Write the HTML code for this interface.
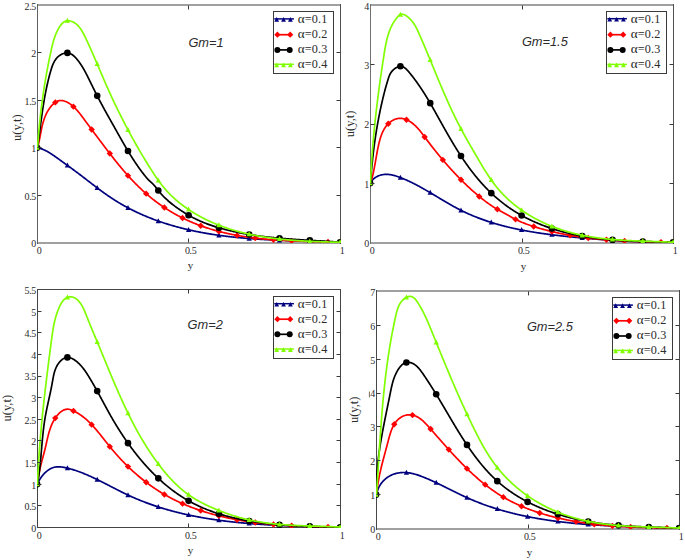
<!DOCTYPE html><html><head><meta charset="utf-8"><style>html,body{margin:0;padding:0;background:#fff}svg{display:block}text{font-family:"Liberation Serif",serif;fill:#2b2b2b}.gm{font-family:"Liberation Sans",sans-serif;font-style:italic}</style></head><body>
<svg width="685" height="560" viewBox="0 0 685 560">
<clipPath id="cTL"><rect x="37.0" y="5.0" width="304.0" height="238.0"/></clipPath>
<rect x="37" y="4" width="304" height="2" fill="#a0a0a0"/>
<rect x="37" y="242" width="304" height="2" fill="#a0a0a0"/>
<rect x="37" y="4" width="1" height="240" fill="#606060"/>
<rect x="340" y="4" width="1" height="240" fill="#505050"/>
<g clip-path="url(#cTL)">
<path d="M37.5 147.7 38.21 147.85 38.91 148.03 39.6 148.22 40.29 148.43 40.98 148.66 41.67 148.9 42.34 149.16 43.02 149.43 43.69 149.72 44.36 150.02 45.03 150.34 45.69 150.67 46.35 151.01 47.01 151.36 47.66 151.72 48.31 152.09 48.96 152.47 49.61 152.86 50.25 153.26 50.89 153.67 51.53 154.08 52.17 154.5 52.81 154.93 53.44 155.36 54.08 155.8 54.71 156.24 55.34 156.68 55.97 157.13 56.6 157.57 57.22 158.03 57.85 158.48 58.48 158.93 59.1 159.38 59.73 159.83 60.35 160.29 60.98 160.74 61.6 161.19 62.23 161.64 62.85 162.09 63.47 162.54 64.1 162.99 64.72 163.44 65.34 163.89 65.96 164.34 66.58 164.79 67.2 165.24 67.82 165.69 68.44 166.14 69.06 166.59 69.68 167.04 70.3 167.49 70.91 167.94 71.53 168.39 72.15 168.84 72.76 169.3 73.38 169.75 73.99 170.2 74.61 170.65 75.22 171.11 75.83 171.56 76.44 172.02 77.05 172.47 77.67 172.93 78.28 173.39 78.88 173.85 79.49 174.3 80.1 174.76 80.71 175.23 81.32 175.69 81.92 176.15 82.53 176.61 83.13 177.08 83.74 177.54 84.34 178 84.95 178.47 85.55 178.93 86.15 179.4 86.76 179.87 87.36 180.33 87.96 180.8 88.57 181.26 89.17 181.73 89.77 182.2 90.38 182.66 90.98 183.13 91.58 183.59 92.19 184.06 92.79 184.52 93.39 184.98 94 185.45 94.6 185.91 95.21 186.37 95.82 186.83 96.42 187.29 97.03 187.75 97.64 188.21 98.25 188.66 98.85 189.12 99.46 189.57 100.08 190.03 100.69 190.48 101.3 190.93 101.91 191.38 102.53 191.83 103.14 192.27 103.76 192.72 104.38 193.16 105 193.6 105.62 194.04 106.24 194.48 106.86 194.91 107.48 195.34 108.11 195.77 108.74 196.2 109.37 196.63 110 197.05 110.63 197.47 111.26 197.89 111.9 198.31 112.53 198.72 113.17 199.14 113.81 199.55 114.45 199.95 115.09 200.36 115.74 200.76 116.38 201.16 117.03 201.56 117.68 201.95 118.33 202.35 118.98 202.74 119.63 203.12 120.28 203.51 120.94 203.89 121.6 204.27 122.25 204.65 122.91 205.03 123.57 205.4 124.24 205.77 124.9 206.14 125.57 206.51 126.23 206.87 126.9 207.23 127.57 207.59 128.24 207.95 128.91 208.3 129.58 208.66 130.26 209 130.93 209.35 131.61 209.7 132.29 210.04 132.97 210.38 133.65 210.72 134.33 211.05 135.01 211.38 135.7 211.71 136.38 212.04 137.07 212.36 137.76 212.69 138.44 213.01 139.13 213.33 139.83 213.64 140.52 213.95 141.21 214.26 141.91 214.57 142.6 214.88 143.3 215.18 143.99 215.48 144.69 215.78 145.39 216.08 146.09 216.37 146.8 216.66 147.5 216.95 148.2 217.24 148.91 217.52 149.61 217.8 150.32 218.08 151.03 218.36 151.74 218.64 152.45 218.91 153.16 219.18 153.87 219.45 154.58 219.71 155.29 219.98 156.01 220.24 156.72 220.5 157.44 220.76 158.16 221.01 158.88 221.26 159.59 221.52 160.31 221.76 161.03 222.01 161.76 222.25 162.48 222.5 163.2 222.74 163.92 222.97 164.65 223.21 165.37 223.44 166.1 223.67 166.83 223.9 167.55 224.13 168.28 224.36 169.01 224.58 169.74 224.8 170.47 225.02 171.2 225.24 171.93 225.45 172.66 225.66 173.4 225.88 174.13 226.08 174.86 226.29 175.6 226.5 176.33 226.7 177.07 226.9 177.81 227.1 178.54 227.3 179.28 227.49 180.02 227.68 180.76 227.88 181.5 228.07 182.24 228.25 182.98 228.44 183.72 228.62 184.46 228.8 185.2 228.98 185.94 229.16 186.68 229.34 187.43 229.51 188.17 229.69 188.92 229.86 189.66 230.03 190.4 230.19 191.15 230.36 191.9 230.52 192.64 230.68 193.39 230.84 194.13 231 194.88 231.16 195.63 231.31 196.38 231.47 197.12 231.62 197.87 231.77 198.62 231.91 199.37 232.06 200.12 232.2 200.87 232.35 201.62 232.49 202.37 232.63 203.12 232.77 203.87 232.9 204.62 233.04 205.37 233.17 206.12 233.3 206.87 233.43 207.63 233.56 208.38 233.69 209.13 233.81 209.88 233.94 210.64 234.06 211.39 234.18 212.14 234.3 212.9 234.41 213.65 234.53 214.4 234.65 215.16 234.76 215.91 234.87 216.67 234.98 217.42 235.09 218.18 235.2 218.93 235.3 219.69 235.41 220.44 235.51 221.2 235.61 221.96 235.71 222.71 235.81 223.47 235.91 224.23 236.01 224.98 236.1 225.74 236.2 226.5 236.29 227.26 236.38 228.01 236.47 228.77 236.56 229.53 236.65 230.29 236.74 231.05 236.82 231.81 236.91 232.57 236.99 233.32 237.07 234.08 237.15 234.84 237.23 235.6 237.31 236.36 237.39 237.12 237.46 237.88 237.54 238.64 237.61 239.4 237.68 240.16 237.76 240.92 237.83 241.68 237.9 242.45 237.96 243.21 238.03 243.97 238.1 244.73 238.16 245.49 238.23 246.25 238.29 247.01 238.35 247.78 238.42 248.54 238.48 249.3 238.54 250.06 238.6 250.83 238.65 251.59 238.71 252.35 238.77 253.11 238.82 253.88 238.88 254.64 238.93 255.4 238.98 256.16 239.03 256.93 239.09 257.69 239.14 258.45 239.19 259.22 239.23 259.98 239.28 260.75 239.33 261.51 239.38 262.27 239.42 263.04 239.47 263.8 239.51 264.56 239.55 265.33 239.6 266.09 239.64 266.86 239.68 267.62 239.72 268.39 239.76 269.15 239.8 269.92 239.84 270.68 239.88 271.44 239.91 272.21 239.95 272.97 239.99 273.74 240.02 274.5 240.06 275.27 240.09 276.03 240.13 276.8 240.16 277.56 240.2 278.33 240.23 279.09 240.26 279.86 240.29 280.62 240.32 281.39 240.36 282.15 240.39 282.92 240.42 283.68 240.45 284.45 240.47 285.21 240.5 285.98 240.53 286.74 240.56 287.51 240.59 288.27 240.62 289.04 240.64 289.8 240.67 290.57 240.7 291.33 240.72 292.1 240.75 292.86 240.77 293.63 240.8 294.39 240.82 295.16 240.85 295.92 240.87 296.69 240.9 297.45 240.92 298.22 240.94 298.98 240.97 299.75 240.99 300.51 241.02 301.27 241.04 302.04 241.06 302.8 241.09 303.57 241.11 304.33 241.13 305.1 241.15 305.86 241.18 306.62 241.2 307.39 241.22 308.15 241.24 308.92 241.27 309.68 241.29 310.44 241.31 311.21 241.33 311.97 241.36 312.74 241.38 313.5 241.4 314.26 241.42 315.03 241.45 315.79 241.47 316.55 241.49 317.31 241.51 318.08 241.54 318.84 241.56 319.6 241.58 320.37 241.61 321.13 241.63 321.89 241.65 322.65 241.68 323.41 241.7 324.18 241.72 324.94 241.75 325.7 241.77 326.46 241.8 327.22 241.82 327.98 241.85 328.75 241.87 329.51 241.9 330.27 241.93 331.03 241.95 331.79 241.98 332.55 242.01 333.31 242.03 334.07 242.06 334.83 242.09 335.59 242.12 336.35 242.15 337.11 242.18 337.87 242.21 338.63 242.24 339.39 242.27 340.15 242.3 340.47 242.31" fill="none" stroke="#00007f" stroke-width="1.7" stroke-linejoin="round"/>
<path d="M37.1 144.8L39.7 149.8L34.5 149.8Z" fill="#00007f"/>
<path d="M67.4 162.48L70 167.48L64.8 167.48Z" fill="#00007f"/>
<path d="M97.2 184.98L99.8 189.98L94.6 189.98Z" fill="#00007f"/>
<path d="M128 204.92L130.6 209.92L125.4 209.92Z" fill="#00007f"/>
<path d="M158.3 218.16L160.9 223.16L155.7 223.16Z" fill="#00007f"/>
<path d="M188.6 226.88L191.2 231.88L186 231.88Z" fill="#00007f"/>
<path d="M218.9 232.4L221.5 237.4L216.3 237.4Z" fill="#00007f"/>
<path d="M249.2 235.63L251.8 240.63L246.6 240.63Z" fill="#00007f"/>
<path d="M279.5 237.38L282.1 242.38L276.9 242.38Z" fill="#00007f"/>
<path d="M309.8 238.39L312.4 243.39L307.2 243.39Z" fill="#00007f"/>
<path d="M340.1 239.4L342.7 244.4L337.5 244.4Z" fill="#00007f"/>
<path d="M37.5 147.7 37.71 146.95 37.92 146.21 38.12 145.46 38.31 144.7 38.5 143.95 38.68 143.19 38.85 142.44 39.02 141.68 39.18 140.92 39.34 140.16 39.5 139.4 39.65 138.63 39.8 137.87 39.95 137.1 40.09 136.34 40.24 135.57 40.38 134.81 40.53 134.04 40.67 133.28 40.82 132.51 40.96 131.75 41.11 130.98 41.26 130.22 41.42 129.46 41.58 128.7 41.74 127.94 41.91 127.18 42.08 126.42 42.25 125.66 42.44 124.91 42.63 124.15 42.83 123.4 43.03 122.65 43.24 121.91 43.47 121.16 43.7 120.42 43.94 119.68 44.19 118.94 44.45 118.21 44.72 117.48 45.01 116.75 45.31 116.02 45.62 115.3 45.94 114.59 46.28 113.87 46.63 113.16 47 112.46 47.38 111.76 47.78 111.06 48.19 110.37 48.62 109.68 49.07 108.99 49.54 108.32 50.02 107.65 50.52 107 51.04 106.36 51.57 105.74 52.11 105.14 52.67 104.56 53.24 104.01 53.83 103.49 54.43 103 55.04 102.55 55.66 102.14 56.3 101.76 56.94 101.43 57.6 101.14 58.27 100.9 58.94 100.71 59.74 100.57 60.55 100.49 61.25 100.49 61.96 100.54 62.67 100.64 63.38 100.79 64.09 100.98 64.81 101.21 65.51 101.47 66.21 101.77 66.91 102.1 67.6 102.45 68.27 102.83 68.94 103.22 69.59 103.64 70.23 104.07 70.86 104.52 71.48 104.98 72.08 105.46 72.68 105.96 73.27 106.47 73.85 107 74.42 107.53 74.98 108.08 75.54 108.64 76.08 109.22 76.62 109.8 77.15 110.39 77.68 110.99 78.2 111.6 78.71 112.21 79.22 112.83 79.72 113.46 80.22 114.09 80.71 114.73 81.2 115.37 81.68 116.01 82.17 116.65 82.65 117.3 83.12 117.95 83.6 118.59 84.07 119.24 84.54 119.88 85.01 120.53 85.48 121.17 85.95 121.8 86.42 122.44 86.89 123.08 87.35 123.71 87.82 124.34 88.28 124.97 88.75 125.6 89.21 126.22 89.68 126.85 90.14 127.47 90.6 128.09 91.06 128.71 91.53 129.33 91.99 129.95 92.45 130.57 92.91 131.19 93.37 131.8 93.83 132.42 94.29 133.03 94.75 133.65 95.21 134.26 95.67 134.88 96.13 135.49 96.59 136.1 97.05 136.72 97.51 137.33 97.97 137.94 98.43 138.56 98.9 139.17 99.36 139.78 99.82 140.4 100.28 141.01 100.75 141.63 101.21 142.24 101.67 142.86 102.14 143.48 102.6 144.09 103.07 144.71 103.53 145.33 104 145.94 104.47 146.56 104.93 147.18 105.4 147.8 105.87 148.41 106.34 149.03 106.81 149.65 107.28 150.27 107.75 150.88 108.23 151.5 108.7 152.12 109.17 152.73 109.65 153.35 110.13 153.97 110.6 154.58 111.08 155.2 111.56 155.81 112.04 156.43 112.52 157.04 113 157.65 113.48 158.27 113.96 158.88 114.45 159.49 114.93 160.1 115.42 160.71 115.91 161.32 116.4 161.93 116.89 162.54 117.38 163.14 117.87 163.75 118.36 164.35 118.86 164.96 119.35 165.56 119.85 166.16 120.35 166.76 120.85 167.36 121.35 167.96 121.85 168.56 122.35 169.16 122.86 169.75 123.36 170.35 123.87 170.94 124.38 171.53 124.89 172.12 125.4 172.71 125.92 173.29 126.43 173.88 126.95 174.46 127.47 175.04 127.99 175.62 128.51 176.2 129.03 176.78 129.56 177.36 130.08 177.93 130.61 178.5 131.14 179.07 131.67 179.64 132.21 180.2 132.74 180.77 133.28 181.33 133.82 181.89 134.36 182.45 134.9 183 135.44 183.56 135.99 184.11 136.54 184.66 137.09 185.21 137.64 185.75 138.19 186.29 138.75 186.83 139.31 187.37 139.87 187.91 140.43 188.44 140.99 188.97 141.56 189.5 142.12 190.03 142.69 190.55 143.26 191.07 143.84 191.59 144.41 192.11 144.99 192.63 145.57 193.14 146.15 193.65 146.74 194.15 147.32 194.66 147.91 195.16 148.5 195.66 149.09 196.16 149.69 196.65 150.28 197.14 150.88 197.63 151.48 198.12 152.09 198.61 152.69 199.09 153.3 199.57 153.91 200.04 154.52 200.52 155.13 200.99 155.75 201.45 156.37 201.92 156.99 202.38 157.61 202.84 158.23 203.3 158.86 203.75 159.49 204.2 160.12 204.65 160.76 205.1 161.39 205.54 162.03 205.98 162.67 206.42 163.32 206.85 163.96 207.28 164.61 207.71 165.26 208.14 165.91 208.56 166.57 208.98 167.23 209.39 167.88 209.81 168.55 210.22 169.21 210.63 169.88 211.03 170.54 211.43 171.21 211.83 171.89 212.23 172.56 212.62 173.24 213.01 173.92 213.39 174.6 213.78 175.28 214.16 175.96 214.53 176.65 214.91 177.34 215.28 178.02 215.65 178.72 216.01 179.41 216.37 180.1 216.73 180.8 217.09 181.5 217.44 182.2 217.79 182.9 218.14 183.6 218.48 184.31 218.82 185.01 219.16 185.72 219.49 186.43 219.83 187.14 220.15 187.85 220.48 188.56 220.8 189.28 221.12 189.99 221.44 190.71 221.75 191.43 222.06 192.15 222.36 192.87 222.67 193.59 222.97 194.31 223.26 195.03 223.56 195.76 223.85 196.48 224.14 197.21 224.42 197.94 224.7 198.67 224.98 199.4 225.25 200.13 225.53 200.86 225.79 201.59 226.06 202.32 226.32 203.06 226.58 203.79 226.84 204.53 227.09 205.26 227.34 206 227.59 206.74 227.83 207.48 228.07 208.22 228.31 208.96 228.54 209.7 228.78 210.44 229 211.18 229.23 211.93 229.45 212.67 229.67 213.41 229.89 214.16 230.11 214.9 230.32 215.65 230.53 216.4 230.73 217.15 230.94 217.89 231.14 218.64 231.34 219.39 231.53 220.14 231.72 220.9 231.91 221.65 232.1 222.4 232.29 223.15 232.47 223.91 232.65 224.66 232.83 225.42 233 226.17 233.17 226.93 233.34 227.69 233.51 228.44 233.68 229.2 233.84 229.96 234 230.72 234.16 231.48 234.31 232.24 234.46 233 234.61 233.76 234.76 234.52 234.91 235.28 235.05 236.05 235.19 236.81 235.33 237.57 235.47 238.34 235.61 239.1 235.74 239.87 235.87 240.63 236 241.4 236.13 242.17 236.25 242.93 236.37 243.7 236.49 244.47 236.61 245.24 236.73 246.01 236.84 246.78 236.95 247.55 237.06 248.32 237.17 249.09 237.28 249.86 237.39 250.63 237.49 251.4 237.59 252.17 237.69 252.94 237.79 253.72 237.88 254.49 237.98 255.26 238.07 256.04 238.16 256.81 238.25 257.59 238.34 258.36 238.42 259.14 238.51 259.91 238.59 260.69 238.67 261.46 238.75 262.24 238.83 263.01 238.9 263.79 238.98 264.57 239.05 265.34 239.12 266.12 239.19 266.9 239.26 267.68 239.33 268.46 239.4 269.23 239.46 270.01 239.53 270.79 239.59 271.57 239.65 272.35 239.71 273.13 239.77 273.91 239.82 274.69 239.88 275.47 239.94 276.25 239.99 277.03 240.04 277.81 240.09 278.59 240.14 279.37 240.19 280.15 240.24 280.93 240.29 281.71 240.33 282.49 240.38 283.27 240.42 284.05 240.47 284.83 240.51 285.61 240.55 286.39 240.59 287.18 240.63 287.96 240.67 288.74 240.7 289.52 240.74 290.3 240.78 291.08 240.81 291.86 240.85 292.65 240.88 293.43 240.91 294.21 240.95 294.99 240.98 295.77 241.01 296.55 241.04 297.33 241.07 298.12 241.1 298.9 241.13 299.68 241.15 300.46 241.18 301.24 241.21 302.02 241.23 302.8 241.26 303.58 241.29 304.36 241.31 305.14 241.33 305.92 241.36 306.7 241.38 307.49 241.41 308.27 241.43 309.05 241.45 309.83 241.47 310.6 241.5 311.38 241.52 312.16 241.54 312.94 241.56 313.72 241.58 314.5 241.6 315.28 241.62 316.06 241.65 316.84 241.67 317.61 241.69 318.39 241.71 319.17 241.73 319.95 241.75 320.72 241.77 321.5 241.79 322.28 241.81 323.05 241.83 323.83 241.85 324.6 241.87 325.38 241.89 326.16 241.91 326.93 241.93 327.7 241.95 328.48 241.98 329.25 242 330.03 242.02 330.8 242.04 331.57 242.06 332.35 242.09 333.12 242.11 333.89 242.13 334.66 242.16 335.43 242.18 336.2 242.2 336.97 242.23 337.74 242.25 338.51 242.28 339.28 242.31 340.05 242.33 340.43 242.35" fill="none" stroke="#ff0000" stroke-width="1.7" stroke-linejoin="round"/>
<path d="M37.1 144.5L40.3 147.7L37.1 150.9L33.9 147.7Z" fill="#ff0000"/>
<path d="M55.28 99.19L58.48 102.39L55.28 105.59L52.08 102.39Z" fill="#ff0000"/>
<path d="M73.46 103.44L76.66 106.64L73.46 109.84L70.26 106.64Z" fill="#ff0000"/>
<path d="M91.64 126.29L94.84 129.49L91.64 132.69L88.44 129.49Z" fill="#ff0000"/>
<path d="M109.82 150.37L113.02 153.57L109.82 156.77L106.62 153.57Z" fill="#ff0000"/>
<path d="M128 172.44L131.2 175.64L128 178.84L124.8 175.64Z" fill="#ff0000"/>
<path d="M146.18 190.47L149.38 193.67L146.18 196.87L142.98 193.67Z" fill="#ff0000"/>
<path d="M164.36 204.35L167.56 207.55L164.36 210.75L161.16 207.55Z" fill="#ff0000"/>
<path d="M182.54 214.76L185.74 217.96L182.54 221.16L179.34 217.96Z" fill="#ff0000"/>
<path d="M200.72 222.54L203.92 225.74L200.72 228.94L197.52 225.74Z" fill="#ff0000"/>
<path d="M218.9 228.2L222.1 231.4L218.9 234.6L215.7 231.4Z" fill="#ff0000"/>
<path d="M237.08 232.18L240.28 235.38L237.08 238.58L233.88 235.38Z" fill="#ff0000"/>
<path d="M255.26 234.87L258.46 238.07L255.26 241.27L252.06 238.07Z" fill="#ff0000"/>
<path d="M273.44 236.59L276.64 239.79L273.44 242.99L270.24 239.79Z" fill="#ff0000"/>
<path d="M291.62 237.64L294.82 240.84L291.62 244.04L288.42 240.84Z" fill="#ff0000"/>
<path d="M309.8 238.27L313 241.47L309.8 244.67L306.6 241.47Z" fill="#ff0000"/>
<path d="M327.98 238.76L331.18 241.96L327.98 245.16L324.78 241.96Z" fill="#ff0000"/>
<path d="M37.5 147.7 37.61 146.92 37.72 146.14 37.83 145.36 37.94 144.58 38.05 143.8 38.16 143.02 38.26 142.25 38.37 141.47 38.47 140.69 38.58 139.92 38.68 139.14 38.78 138.37 38.89 137.59 38.99 136.82 39.09 136.04 39.19 135.27 39.3 134.5 39.4 133.72 39.5 132.95 39.6 132.18 39.7 131.41 39.8 130.64 39.9 129.87 40 129.1 40.1 128.33 40.2 127.56 40.3 126.79 40.4 126.02 40.51 125.25 40.61 124.48 40.71 123.71 40.81 122.94 40.91 122.18 41.01 121.41 41.12 120.64 41.22 119.87 41.33 119.11 41.43 118.34 41.53 117.57 41.64 116.81 41.75 116.04 41.85 115.28 41.96 114.51 42.07 113.75 42.18 112.98 42.29 112.22 42.4 111.45 42.51 110.69 42.63 109.92 42.74 109.16 42.86 108.39 42.97 107.63 43.09 106.86 43.21 106.1 43.33 105.34 43.45 104.57 43.58 103.81 43.7 103.05 43.83 102.28 43.95 101.52 44.08 100.76 44.21 99.99 44.34 99.23 44.48 98.47 44.61 97.7 44.75 96.94 44.89 96.18 45.03 95.41 45.17 94.65 45.31 93.89 45.46 93.12 45.61 92.36 45.76 91.6 45.91 90.83 46.06 90.07 46.22 89.3 46.38 88.54 46.54 87.78 46.7 87.01 46.87 86.25 47.03 85.49 47.2 84.72 47.37 83.96 47.55 83.19 47.73 82.43 47.9 81.66 48.09 80.9 48.27 80.13 48.46 79.37 48.65 78.6 48.84 77.84 49.04 77.07 49.23 76.3 49.44 75.54 49.64 74.77 49.85 74 50.06 73.24 50.27 72.47 50.49 71.7 50.7 70.93 50.93 70.17 51.16 69.4 51.39 68.64 51.64 67.88 51.89 67.13 52.16 66.38 52.43 65.65 52.72 64.91 53.02 64.19 53.34 63.48 53.67 62.78 54.02 62.09 54.39 61.42 54.78 60.76 55.2 60.12 55.63 59.49 56.09 58.88 56.57 58.29 57.08 57.71 57.61 57.16 58.17 56.63 58.77 56.13 59.39 55.65 60.04 55.19 60.71 54.77 61.4 54.38 62.1 54.03 62.82 53.72 63.55 53.45 64.29 53.23 65.03 53.07 65.77 52.95 66.5 52.89 67.23 52.89 67.95 52.96 68.66 53.09 69.35 53.28 70.04 53.52 70.71 53.82 71.37 54.17 72.01 54.57 72.65 55.01 73.27 55.48 73.88 55.99 74.48 56.54 75.06 57.11 75.64 57.7 76.2 58.32 76.74 58.95 77.28 59.6 77.8 60.25 78.31 60.91 78.81 61.58 79.29 62.24 79.76 62.9 80.22 63.57 80.67 64.23 81.11 64.89 81.54 65.55 81.96 66.21 82.37 66.88 82.78 67.54 83.17 68.2 83.56 68.87 83.94 69.53 84.31 70.2 84.68 70.86 85.04 71.53 85.4 72.2 85.75 72.87 86.1 73.54 86.45 74.22 86.79 74.89 87.14 75.57 87.48 76.24 87.82 76.93 88.15 77.61 88.49 78.29 88.83 78.98 89.17 79.67 89.51 80.36 89.85 81.05 90.19 81.74 90.53 82.44 90.87 83.14 91.22 83.84 91.56 84.54 91.9 85.24 92.25 85.94 92.6 86.64 92.94 87.35 93.29 88.05 93.64 88.75 93.99 89.46 94.34 90.16 94.69 90.87 95.04 91.57 95.39 92.27 95.74 92.98 96.1 93.68 96.45 94.38 96.81 95.08 97.17 95.78 97.53 96.48 97.89 97.18 98.25 97.87 98.61 98.57 98.97 99.26 99.33 99.95 99.7 100.64 100.06 101.33 100.43 102.02 100.79 102.71 101.16 103.4 101.53 104.08 101.9 104.77 102.27 105.45 102.64 106.14 103.01 106.82 103.38 107.5 103.75 108.18 104.13 108.86 104.5 109.54 104.88 110.22 105.25 110.9 105.63 111.58 106 112.26 106.38 112.94 106.75 113.61 107.13 114.29 107.51 114.97 107.89 115.64 108.26 116.32 108.64 117 109.02 117.67 109.4 118.35 109.78 119.02 110.16 119.7 110.54 120.37 110.92 121.05 111.3 121.72 111.68 122.4 112.06 123.08 112.44 123.75 112.82 124.43 113.2 125.1 113.58 125.78 113.96 126.46 114.34 127.13 114.72 127.81 115.1 128.49 115.48 129.17 115.86 129.85 116.24 130.53 116.62 131.21 117 131.88 117.38 132.56 117.77 133.24 118.15 133.92 118.53 134.6 118.91 135.28 119.29 135.96 119.68 136.64 120.06 137.32 120.44 138 120.83 138.68 121.21 139.36 121.6 140.04 121.99 140.71 122.37 141.39 122.76 142.07 123.15 142.75 123.54 143.42 123.93 144.1 124.32 144.77 124.72 145.45 125.11 146.12 125.5 146.8 125.9 147.47 126.3 148.14 126.69 148.81 127.09 149.48 127.49 150.15 127.89 150.82 128.3 151.49 128.7 152.16 129.11 152.82 129.51 153.49 129.92 154.15 130.33 154.82 130.74 155.48 131.16 156.14 131.57 156.8 131.99 157.46 132.41 158.11 132.83 158.77 133.25 159.42 133.67 160.07 134.1 160.73 134.52 161.38 134.95 162.02 135.39 162.67 135.82 163.32 136.25 163.96 136.69 164.6 137.13 165.24 137.57 165.88 138.02 166.52 138.46 167.15 138.91 167.78 139.36 168.42 139.82 169.04 140.27 169.67 140.73 170.3 141.19 170.92 141.65 171.54 142.12 172.16 142.59 172.78 143.06 173.39 143.53 174 144.01 174.61 144.49 175.22 144.97 175.83 145.46 176.43 145.95 177.02 146.45 177.61 146.95 178.19 147.46 178.76 147.97 179.32 148.49 179.87 149.02 180.41 149.56 180.93 150.11 181.44 150.66 181.95 151.21 182.45 151.76 182.95 152.31 183.46 152.85 183.97 153.38 184.5 153.9 185.04 154.4 185.6 154.9 186.17 155.38 186.76 155.86 187.36 156.33 187.96 156.8 188.58 157.27 189.19 157.74 189.8 158.21 190.42 158.69 191.02 159.18 191.62 159.67 192.22 160.17 192.81 160.68 193.39 161.19 193.97 161.71 194.54 162.24 195.11 162.77 195.67 163.3 196.23 163.85 196.78 164.39 197.33 164.95 197.87 165.51 198.41 166.07 198.94 166.64 199.46 167.21 199.98 167.79 200.5 168.37 201.01 168.96 201.52 169.55 202.02 170.15 202.52 170.75 203.01 171.35 203.5 171.96 203.99 172.57 204.47 173.18 204.95 173.8 205.42 174.42 205.89 175.05 206.36 175.67 206.82 176.3 207.28 176.94 207.73 177.57 208.18 178.21 208.63 178.85 209.07 179.5 209.51 180.14 209.95 180.79 210.38 181.44 210.81 182.09 211.24 182.74 211.66 183.4 212.08 184.06 212.5 184.72 212.91 185.38 213.32 186.05 213.72 186.72 214.12 187.39 214.52 188.06 214.91 188.73 215.3 189.41 215.68 190.09 216.06 190.77 216.44 191.45 216.81 192.13 217.17 192.82 217.54 193.51 217.89 194.2 218.25 194.89 218.6 195.59 218.94 196.29 219.28 196.99 219.62 197.69 219.95 198.39 220.27 199.1 220.6 199.8 220.91 200.51 221.22 201.23 221.53 201.94 221.83 202.66 222.13 203.37 222.43 204.09 222.72 204.81 223 205.53 223.28 206.26 223.56 206.98 223.83 207.71 224.1 208.44 224.37 209.17 224.63 209.9 224.89 210.63 225.14 211.37 225.39 212.1 225.64 212.84 225.88 213.58 226.12 214.31 226.36 215.05 226.59 215.79 226.82 216.53 227.05 217.28 227.27 218.02 227.5 218.76 227.71 219.51 227.93 220.25 228.14 221 228.36 221.75 228.56 222.49 228.77 223.24 228.97 223.99 229.17 224.74 229.37 225.49 229.57 226.24 229.76 226.99 229.95 227.75 230.14 228.5 230.32 229.25 230.5 230.01 230.68 230.76 230.86 231.52 231.04 232.27 231.21 233.03 231.38 233.79 231.55 234.54 231.72 235.3 231.88 236.06 232.04 236.82 232.2 237.58 232.36 238.34 232.52 239.1 232.67 239.86 232.82 240.63 232.97 241.39 233.11 242.15 233.26 242.91 233.4 243.68 233.54 244.44 233.68 245.21 233.82 245.97 233.95 246.74 234.08 247.51 234.22 248.27 234.34 249.04 234.47 249.81 234.6 250.58 234.72 251.34 234.84 252.11 234.96 252.88 235.08 253.65 235.19 254.42 235.31 255.19 235.42 255.96 235.53 256.74 235.64 257.51 235.75 258.28 235.86 259.05 235.96 259.82 236.06 260.6 236.16 261.37 236.26 262.14 236.36 262.92 236.46 263.69 236.55 264.47 236.65 265.24 236.74 266.02 236.83 266.79 236.92 267.57 237.01 268.34 237.09 269.12 237.18 269.9 237.26 270.67 237.35 271.45 237.43 272.23 237.51 273.01 237.59 273.78 237.67 274.56 237.74 275.34 237.82 276.12 237.89 276.9 237.97 277.67 238.04 278.45 238.11 279.23 238.18 280.01 238.25 280.79 238.32 281.57 238.38 282.35 238.45 283.13 238.52 283.91 238.58 284.69 238.64 285.47 238.71 286.25 238.77 287.03 238.83 287.81 238.89 288.59 238.95 289.37 239.01 290.15 239.06 290.93 239.12 291.71 239.18 292.49 239.23 293.27 239.29 294.05 239.34 294.83 239.4 295.61 239.45 296.39 239.5 297.17 239.55 297.95 239.6 298.73 239.66 299.51 239.71 300.29 239.76 301.07 239.8 301.85 239.85 302.63 239.9 303.41 239.95 304.19 240 304.97 240.05 305.75 240.09 306.53 240.14 307.31 240.19 308.09 240.23 308.87 240.28 309.65 240.32 310.42 240.37 311.2 240.42 311.98 240.46 312.76 240.51 313.54 240.55 314.32 240.6 315.09 240.64 315.87 240.69 316.65 240.73 317.43 240.78 318.2 240.82 318.98 240.87 319.76 240.91 320.53 240.96 321.31 241 322.09 241.05 322.86 241.09 323.64 241.14 324.41 241.18 325.19 241.23 325.96 241.27 326.74 241.32 327.51 241.37 328.29 241.41 329.06 241.46 329.83 241.51 330.6 241.56 331.38 241.61 332.15 241.66 332.92 241.7 333.69 241.75 334.46 241.8 335.23 241.85 336 241.91 336.77 241.96 337.54 242.01 338.31 242.06 339.08 242.12 339.85 242.17 340.46 242.21" fill="none" stroke="#000000" stroke-width="1.7" stroke-linejoin="round"/>
<circle cx="37.1" cy="147.7" r="3.3" fill="#000000"/>
<circle cx="67.4" cy="52.9" r="3.3" fill="#000000"/>
<circle cx="97.2" cy="95.84" r="3.3" fill="#000000"/>
<circle cx="128" cy="151" r="3.3" fill="#000000"/>
<circle cx="158.3" cy="190.53" r="3.3" fill="#000000"/>
<circle cx="188.6" cy="215.22" r="3.3" fill="#000000"/>
<circle cx="218.9" cy="227.75" r="3.3" fill="#000000"/>
<circle cx="249.2" cy="234.5" r="3.3" fill="#000000"/>
<circle cx="279.5" cy="238.2" r="3.3" fill="#000000"/>
<circle cx="309.8" cy="240.33" r="3.3" fill="#000000"/>
<circle cx="340.1" cy="242.19" r="3.3" fill="#000000"/>
<path d="M37.5 147.7 37.56 146.83 37.63 145.96 37.69 145.08 37.76 144.21 37.83 143.34 37.89 142.47 37.96 141.6 38.03 140.73 38.1 139.86 38.17 138.99 38.24 138.13 38.32 137.26 38.39 136.39 38.46 135.52 38.54 134.65 38.62 133.79 38.69 132.92 38.77 132.05 38.85 131.19 38.93 130.32 39.01 129.46 39.09 128.59 39.18 127.72 39.26 126.86 39.34 126 39.43 125.13 39.52 124.27 39.6 123.4 39.69 122.54 39.78 121.68 39.87 120.81 39.96 119.95 40.06 119.09 40.15 118.23 40.25 117.36 40.34 116.5 40.44 115.64 40.53 114.78 40.63 113.92 40.73 113.06 40.83 112.2 40.94 111.33 41.04 110.47 41.14 109.61 41.25 108.75 41.35 107.9 41.46 107.04 41.57 106.18 41.68 105.32 41.79 104.46 41.9 103.6 42.01 102.74 42.12 101.88 42.24 101.03 42.35 100.17 42.47 99.31 42.59 98.45 42.71 97.59 42.83 96.74 42.95 95.88 43.07 95.02 43.19 94.17 43.32 93.31 43.44 92.45 43.57 91.6 43.7 90.74 43.83 89.88 43.96 89.03 44.09 88.17 44.22 87.32 44.36 86.46 44.49 85.61 44.63 84.75 44.77 83.9 44.9 83.04 45.04 82.19 45.19 81.33 45.33 80.48 45.47 79.62 45.62 78.77 45.76 77.91 45.91 77.06 46.06 76.2 46.21 75.35 46.36 74.5 46.51 73.64 46.66 72.79 46.82 71.94 46.98 71.08 47.13 70.23 47.29 69.37 47.45 68.52 47.61 67.67 47.78 66.81 47.94 65.96 48.1 65.11 48.27 64.25 48.44 63.4 48.61 62.55 48.78 61.69 48.95 60.84 49.12 59.99 49.3 59.13 49.47 58.28 49.65 57.43 49.83 56.58 50.01 55.72 50.19 54.87 50.37 54.02 50.56 53.16 50.74 52.31 50.93 51.46 51.12 50.6 51.31 49.75 51.5 48.9 51.69 48.05 51.89 47.19 52.05 46.51 52.21 45.83 52.38 45.15 52.55 44.47 52.72 43.79 52.9 43.11 53.08 42.43 53.26 41.76 53.45 41.08 53.65 40.41 53.85 39.73 54.06 39.06 54.28 38.39 54.5 37.72 54.73 37.05 54.97 36.38 55.21 35.72 55.46 35.05 55.73 34.39 56 33.73 56.28 33.07 56.57 32.42 56.87 31.77 57.18 31.11 57.5 30.46 57.83 29.82 58.18 29.17 58.53 28.53 58.9 27.89 59.28 27.26 59.68 26.64 60.08 26.04 60.5 25.45 60.93 24.88 61.38 24.33 61.95 23.68 62.54 23.09 63.16 22.55 63.8 22.07 64.46 21.66 65.14 21.32 65.84 21.06 66.56 20.88 67.3 20.77 68.04 20.73 68.8 20.76 69.56 20.85 70.32 21 71.08 21.21 71.84 21.47 72.58 21.77 73.31 22.12 74.03 22.51 74.73 22.94 75.4 23.4 76.05 23.9 76.68 24.42 77.29 24.98 77.88 25.56 78.45 26.17 79 26.81 79.54 27.46 80.06 28.14 80.56 28.84 81.05 29.56 81.44 30.15 81.81 30.75 82.18 31.36 82.54 31.97 82.89 32.6 83.24 33.23 83.58 33.87 83.92 34.51 84.25 35.16 84.57 35.82 84.9 36.47 85.22 37.13 85.53 37.8 85.84 38.46 86.16 39.12 86.46 39.79 86.77 40.45 87.08 41.11 87.38 41.77 87.69 42.43 87.99 43.09 88.29 43.74 88.59 44.4 88.89 45.06 89.18 45.71 89.48 46.37 89.78 47.02 90.07 47.67 90.36 48.32 90.65 48.97 90.94 49.62 91.23 50.27 91.52 50.92 91.81 51.57 92.09 52.22 92.38 52.87 92.66 53.51 92.95 54.16 93.23 54.8 93.51 55.45 93.79 56.09 94.07 56.73 94.35 57.38 94.7 58.18 95.05 58.98 95.39 59.78 95.74 60.58 96.08 61.38 96.43 62.17 96.77 62.97 97.11 63.77 97.46 64.56 97.8 65.36 98.14 66.15 98.48 66.94 98.82 67.74 99.15 68.53 99.49 69.32 99.83 70.11 100.17 70.9 100.51 71.69 100.85 72.48 101.18 73.27 101.52 74.05 101.86 74.84 102.2 75.63 102.54 76.41 102.87 77.2 103.21 77.99 103.55 78.77 103.89 79.55 104.23 80.34 104.57 81.12 104.91 81.91 105.25 82.69 105.59 83.47 105.94 84.26 106.28 85.04 106.62 85.82 106.97 86.6 107.31 87.39 107.66 88.17 108.01 88.95 108.36 89.73 108.71 90.51 109.06 91.3 109.41 92.08 109.76 92.86 110.12 93.64 110.48 94.42 110.83 95.21 111.19 95.99 111.55 96.77 111.91 97.55 112.28 98.33 112.64 99.11 113.01 99.9 113.37 100.68 113.74 101.46 114.11 102.24 114.48 103.02 114.85 103.8 115.23 104.58 115.6 105.37 115.98 106.15 116.35 106.93 116.73 107.71 117.11 108.49 117.49 109.27 117.87 110.05 118.25 110.83 118.64 111.61 119.02 112.39 119.41 113.16 119.8 113.94 120.19 114.72 120.58 115.5 120.97 116.28 121.36 117.06 121.75 117.83 122.15 118.61 122.55 119.39 122.94 120.16 123.34 120.94 123.74 121.71 124.14 122.49 124.54 123.26 124.95 124.04 125.35 124.81 125.75 125.59 126.16 126.36 126.57 127.13 126.98 127.91 127.39 128.68 127.8 129.45 128.21 130.22 128.62 130.99 129.03 131.76 129.45 132.53 129.86 133.3 130.28 134.07 130.7 134.83 131.12 135.6 131.54 136.37 131.96 137.13 132.38 137.9 132.81 138.66 133.23 139.43 133.65 140.19 134.08 140.96 134.51 141.72 134.94 142.48 135.36 143.24 135.8 144 136.23 144.76 136.66 145.52 137.09 146.28 137.53 147.04 137.96 147.79 138.4 148.55 138.83 149.3 139.27 150.06 139.71 150.81 140.15 151.57 140.59 152.32 141.03 153.07 141.47 153.82 141.92 154.57 142.36 155.32 142.81 156.07 143.25 156.81 143.7 157.56 144.15 158.31 144.59 159.05 145.04 159.79 145.49 160.54 145.95 161.28 146.4 162.02 146.85 162.76 147.3 163.5 147.76 164.24 148.21 164.97 148.67 165.71 149.13 166.44 149.59 167.18 150.04 167.91 150.5 168.64 150.97 169.37 151.43 170.1 151.89 170.83 152.36 171.56 152.83 172.28 153.3 173 153.77 173.72 154.25 174.44 154.73 175.16 155.21 175.87 155.69 176.58 156.18 177.29 156.67 178 157.16 178.7 157.66 179.41 158.15 180.11 158.66 180.8 159.17 181.5 159.68 182.19 160.19 182.87 160.71 183.56 161.24 184.24 161.76 184.92 162.3 185.59 162.84 186.27 163.38 186.93 163.93 187.6 164.48 188.26 165.04 188.92 165.6 189.57 166.17 190.22 166.75 190.86 167.33 191.5 167.92 192.14 168.51 192.77 169.12 193.4 169.72 194.02 170.34 194.64 170.95 195.26 171.58 195.87 172.21 196.47 172.72 196.95 173.23 197.43 173.75 197.91 174.27 198.38 174.79 198.85 175.31 199.31 175.84 199.78 176.37 200.24 176.91 200.69 177.45 201.15 177.99 201.6 178.53 202.05 179.08 202.49 179.62 202.94 180.18 203.38 180.73 203.81 181.29 204.24 181.84 204.67 182.4 205.1 182.97 205.53 183.53 205.95 184.1 206.36 184.67 206.78 185.24 207.19 185.81 207.6 186.39 208 186.96 208.4 187.54 208.8 188.12 209.2 188.7 209.59 189.29 209.98 189.87 210.37 190.6 210.84 191.34 211.32 192.07 211.78 192.81 212.25 193.55 212.7 194.3 213.16 195.04 213.61 195.79 214.05 196.54 214.49 197.29 214.92 198.05 215.35 198.8 215.78 199.56 216.2 200.32 216.61 201.08 217.03 201.84 217.43 202.61 217.83 203.38 218.23 204.15 218.62 204.92 219.01 205.69 219.4 206.47 219.78 207.25 220.15 208.02 220.52 208.81 220.89 209.59 221.25 210.37 221.61 211.16 221.96 211.95 222.31 212.74 222.66 213.53 223 214.32 223.34 215.12 223.67 215.91 224 216.71 224.32 217.51 224.64 218.31 224.96 219.11 225.27 219.92 225.58 220.72 225.89 221.53 226.19 222.34 226.48 223.15 226.78 223.96 227.07 224.78 227.35 225.59 227.63 226.41 227.91 227.22 228.19 228.04 228.46 228.86 228.72 229.69 228.99 230.51 229.25 231.33 229.5 232.16 229.76 232.99 230.01 233.81 230.25 234.64 230.49 235.47 230.73 236.31 230.97 237.14 231.2 237.97 231.43 238.81 231.65 239.65 231.87 240.48 232.09 241.32 232.31 242.16 232.52 243 232.73 243.85 232.94 244.69 233.14 245.53 233.34 246.38 233.53 247.22 233.73 248.07 233.92 248.92 234.1 249.77 234.29 250.62 234.47 251.47 234.65 252.32 234.82 253.17 235 254.03 235.17 254.88 235.33 255.74 235.5 256.59 235.66 257.45 235.82 258.31 235.97 259.16 236.12 260.02 236.28 260.88 236.42 261.74 236.57 262.6 236.71 263.46 236.85 264.33 236.99 265.19 237.12 266.05 237.26 266.91 237.39 267.78 237.51 268.64 237.64 269.51 237.76 270.37 237.88 271.24 238 272.11 238.11 272.98 238.23 273.84 238.34 274.71 238.45 275.58 238.56 276.27 238.64 276.97 238.72 277.66 238.8 278.36 238.88 279.06 238.96 279.75 239.04 280.45 239.11 281.15 239.19 281.84 239.26 282.54 239.33 283.24 239.41 283.93 239.48 284.63 239.54 285.33 239.61 286.02 239.68 286.72 239.74 287.42 239.81 288.12 239.87 288.81 239.93 289.51 239.99 290.21 240.05 290.91 240.11 291.61 240.16 292.3 240.22 293 240.27 293.7 240.33 294.57 240.39 295.44 240.46 296.32 240.52 297.19 240.58 298.06 240.64 298.93 240.7 299.81 240.76 300.68 240.81 301.55 240.86 302.42 240.92 303.29 240.97 304.16 241.02 305.04 241.07 305.91 241.11 306.78 241.16 307.65 241.2 308.52 241.25 309.39 241.29 310.26 241.33 311.13 241.37 311.99 241.41 312.86 241.45 313.73 241.49 314.6 241.52 315.47 241.56 316.33 241.59 317.2 241.63 318.06 241.66 318.93 241.69 319.79 241.72 320.66 241.75 321.52 241.78 322.39 241.81 323.25 241.84 324.11 241.86 324.97 241.89 325.83 241.91 326.69 241.94 327.55 241.96 328.41 241.99 329.27 242.01 330.13 242.03 330.98 242.06 331.84 242.08 332.69 242.1 333.55 242.12 334.4 242.14 335.25 242.16 336.1 242.18 336.95 242.2 337.8 242.22 338.65 242.24 339.5 242.26 340.35 242.28 340.35 242.28" fill="none" stroke="#80ff00" stroke-width="1.7" stroke-linejoin="round"/>
<path d="M37.1 144.8L39.7 149.8L34.5 149.8Z" fill="#80ff00"/>
<path d="M67.4 17.86L70 22.86L64.8 22.86Z" fill="#80ff00"/>
<path d="M97.2 61.07L99.8 66.07L94.6 66.07Z" fill="#80ff00"/>
<path d="M128 126.93L130.6 131.93L125.4 131.93Z" fill="#80ff00"/>
<path d="M158.3 177.41L160.9 182.41L155.7 182.41Z" fill="#80ff00"/>
<path d="M188.6 206.62L191.2 211.62L186 211.62Z" fill="#80ff00"/>
<path d="M218.9 222.29L221.5 227.29L216.3 227.29Z" fill="#80ff00"/>
<path d="M249.2 231.27L251.8 236.27L246.6 236.27Z" fill="#80ff00"/>
<path d="M279.5 236.11L282.1 241.11L276.9 241.11Z" fill="#80ff00"/>
<path d="M309.8 238.41L312.4 243.41L307.2 243.41Z" fill="#80ff00"/>
<path d="M340.1 239.37L342.7 244.37L337.5 244.37Z" fill="#80ff00"/>
</g>
<path d="M37.5 195.5h4M340.5 195.5h-4M37.5 147.5h4M340.5 147.5h-4M37.5 100.5h4M340.5 100.5h-4M37.5 52.5h4M340.5 52.5h-4M188.5 242.5v-4M188.5 5.5v4" stroke="#3a3a3a" stroke-width="1"/>
<clipPath id="cTR"><rect x="370.0" y="5.0" width="304.0" height="238.0"/></clipPath>
<rect x="370" y="4" width="304" height="2" fill="#a0a0a0"/>
<rect x="370" y="242" width="304" height="2" fill="#a0a0a0"/>
<rect x="370" y="4" width="1" height="240" fill="#707070"/>
<rect x="673" y="4" width="1" height="240" fill="#505050"/>
<g clip-path="url(#cTR)">
<path d="M370.5 183.25 370.81 182.55 371.16 181.88 371.56 181.23 372 180.62 372.47 180.03 372.98 179.48 373.53 178.95 374.1 178.45 374.7 177.98 375.33 177.54 375.98 177.12 376.64 176.74 377.32 176.38 378.02 176.06 378.73 175.76 379.44 175.5 380.16 175.26 380.88 175.05 381.6 174.87 382.32 174.72 383.04 174.6 383.76 174.5 384.48 174.43 385.2 174.38 385.93 174.36 386.65 174.36 387.37 174.38 388.09 174.42 388.81 174.48 389.52 174.56 390.24 174.66 390.96 174.78 391.68 174.91 392.39 175.06 393.11 175.23 393.82 175.41 394.53 175.6 395.25 175.8 395.96 176.02 396.66 176.24 397.37 176.48 398.08 176.72 398.78 176.97 399.48 177.23 400.18 177.49 400.88 177.76 401.58 178.03 402.27 178.31 402.96 178.59 403.66 178.88 404.34 179.17 405.03 179.46 405.72 179.76 406.4 180.06 407.08 180.36 407.76 180.67 408.44 180.98 409.12 181.29 409.8 181.61 410.47 181.93 411.14 182.25 411.81 182.58 412.48 182.91 413.15 183.24 413.82 183.58 414.48 183.92 415.15 184.26 415.81 184.6 416.47 184.95 417.14 185.29 417.8 185.64 418.45 186 419.11 186.35 419.77 186.71 420.42 187.07 421.08 187.43 421.73 187.79 422.38 188.16 423.04 188.52 423.69 188.89 424.34 189.26 424.99 189.63 425.64 190 426.28 190.38 426.93 190.75 427.58 191.13 428.22 191.51 428.87 191.88 429.52 192.26 430.16 192.64 430.81 193.03 431.45 193.41 432.09 193.79 432.74 194.17 433.38 194.56 434.02 194.94 434.66 195.32 435.31 195.71 435.95 196.09 436.59 196.48 437.23 196.86 437.87 197.25 438.51 197.63 439.16 198.02 439.8 198.4 440.44 198.79 441.08 199.17 441.72 199.55 442.37 199.94 443.01 200.32 443.65 200.7 444.29 201.08 444.94 201.46 445.58 201.84 446.22 202.21 446.87 202.59 447.51 202.97 448.16 203.34 448.81 203.71 449.45 204.08 450.1 204.45 450.75 204.82 451.39 205.19 452.04 205.55 452.69 205.92 453.34 206.28 454 206.64 454.65 206.99 455.3 207.35 455.95 207.7 456.61 208.05 457.27 208.4 457.92 208.74 458.58 209.09 459.24 209.43 459.9 209.77 460.56 210.1 461.22 210.43 461.89 210.76 462.55 211.09 463.22 211.42 463.88 211.74 464.55 212.06 465.22 212.37 465.89 212.68 466.56 212.99 467.24 213.3 467.91 213.61 468.59 213.91 469.26 214.21 469.94 214.51 470.62 214.8 471.3 215.09 471.98 215.38 472.66 215.67 473.34 215.95 474.02 216.23 474.71 216.51 475.39 216.79 476.08 217.06 476.77 217.33 477.46 217.6 478.15 217.87 478.84 218.13 479.53 218.39 480.22 218.65 480.91 218.91 481.61 219.16 482.3 219.42 483 219.67 483.7 219.91 484.4 220.16 485.09 220.4 485.79 220.64 486.5 220.88 487.2 221.11 487.9 221.35 488.6 221.58 489.31 221.81 490.01 222.03 490.72 222.26 491.42 222.48 492.13 222.7 492.84 222.92 493.55 223.13 494.26 223.35 494.97 223.56 495.68 223.77 496.39 223.98 497.11 224.18 497.82 224.39 498.53 224.59 499.25 224.79 499.97 224.98 500.68 225.18 501.4 225.37 502.12 225.56 502.84 225.75 503.56 225.94 504.28 226.12 505 226.31 505.72 226.49 506.44 226.67 507.16 226.85 507.89 227.02 508.61 227.2 509.33 227.37 510.06 227.54 510.78 227.71 511.51 227.88 512.24 228.04 512.97 228.21 513.69 228.37 514.42 228.53 515.15 228.69 515.88 228.84 516.61 229 517.34 229.15 518.07 229.31 518.8 229.46 519.54 229.6 520.27 229.75 521 229.9 521.74 230.04 522.47 230.18 523.2 230.32 523.94 230.46 524.67 230.6 525.41 230.74 526.15 230.87 526.88 231.01 527.62 231.14 528.36 231.27 529.09 231.4 529.83 231.53 530.57 231.65 531.31 231.78 532.05 231.9 532.79 232.02 533.53 232.14 534.27 232.26 535.01 232.38 535.75 232.5 536.49 232.62 537.23 232.73 537.97 232.84 538.71 232.96 539.46 233.07 540.2 233.18 540.94 233.29 541.68 233.39 542.43 233.5 543.17 233.6 543.91 233.71 544.66 233.81 545.4 233.91 546.15 234.01 546.89 234.11 547.63 234.21 548.38 234.31 549.12 234.41 549.87 234.5 550.61 234.6 551.36 234.69 552.1 234.79 552.85 234.88 553.59 234.97 554.34 235.06 555.08 235.15 555.83 235.24 556.58 235.32 557.32 235.41 558.07 235.5 558.81 235.58 559.56 235.67 560.3 235.75 561.05 235.83 561.8 235.91 562.54 235.99 563.29 236.08 564.03 236.16 564.78 236.23 565.52 236.31 566.27 236.39 567.02 236.47 567.76 236.54 568.51 236.62 569.25 236.69 570 236.77 570.74 236.84 571.49 236.92 572.23 236.99 572.98 237.06 573.72 237.13 574.47 237.21 575.21 237.28 575.96 237.35 576.7 237.42 577.44 237.49 578.19 237.56 578.93 237.62 579.67 237.69 580.42 237.76 581.16 237.83 581.9 237.9 582.64 237.96 583.39 238.03 584.13 238.1 584.87 238.16 585.61 238.23 586.35 238.29 587.09 238.36 587.83 238.42 588.57 238.49 589.31 238.55 590.05 238.61 590.79 238.68 591.53 238.74 592.27 238.8 593.01 238.86 593.75 238.92 594.49 238.99 595.23 239.05 595.97 239.11 596.71 239.17 597.45 239.23 598.19 239.29 598.92 239.34 599.66 239.4 600.4 239.46 601.14 239.52 601.88 239.58 602.61 239.63 603.35 239.69 604.09 239.74 604.83 239.8 605.56 239.85 606.3 239.91 607.04 239.96 607.78 240.02 608.51 240.07 609.25 240.12 609.99 240.17 610.72 240.22 611.46 240.27 612.2 240.32 612.94 240.37 613.67 240.42 614.41 240.47 615.15 240.52 615.89 240.57 616.62 240.62 617.36 240.66 618.1 240.71 618.83 240.75 619.57 240.8 620.31 240.84 621.05 240.89 621.78 240.93 622.52 240.97 623.26 241.01 624 241.06 624.74 241.1 625.47 241.14 626.21 241.18 626.95 241.22 627.69 241.25 628.43 241.29 629.17 241.33 629.91 241.37 630.64 241.4 631.38 241.44 632.12 241.47 632.86 241.51 633.6 241.54 634.34 241.57 635.08 241.6 635.82 241.63 636.56 241.67 637.3 241.7 638.04 241.72 638.79 241.75 639.53 241.78 640.27 241.81 641.01 241.83 641.75 241.86 642.49 241.89 643.24 241.91 643.98 241.93 644.72 241.96 645.47 241.98 646.21 242 646.95 242.02 647.7 242.04 648.44 242.06 649.19 242.08 649.93 242.1 650.68 242.11 651.42 242.13 652.17 242.14 652.92 242.16 653.66 242.17 654.41 242.18 655.16 242.2 655.91 242.21 656.65 242.22 657.4 242.23 658.15 242.24 658.9 242.25 659.65 242.25 660.4 242.26 661.15 242.26 661.9 242.27 662.65 242.27 663.4 242.28 664.16 242.28 664.91 242.28 665.66 242.28 666.42 242.28 667.17 242.28 667.92 242.28 668.68 242.27 669.43 242.27 670.19 242.26 670.95 242.26 671.7 242.25 672.46 242.24 673.22 242.23 673.54 242.23" fill="none" stroke="#00007f" stroke-width="1.7" stroke-linejoin="round"/>
<path d="M370.1 180.35L372.7 185.35L367.5 185.35Z" fill="#00007f"/>
<path d="M400.4 174.68L403 179.68L397.8 179.68Z" fill="#00007f"/>
<path d="M430.2 189.77L432.8 194.77L427.6 194.77Z" fill="#00007f"/>
<path d="M461 207.42L463.6 212.42L458.4 212.42Z" fill="#00007f"/>
<path d="M491.3 219.54L493.9 224.54L488.7 224.54Z" fill="#00007f"/>
<path d="M521.6 227.11L524.2 232.11L519 232.11Z" fill="#00007f"/>
<path d="M551.9 231.86L554.5 236.86L549.3 236.86Z" fill="#00007f"/>
<path d="M582.2 235.02L584.8 240.02L579.6 240.02Z" fill="#00007f"/>
<path d="M612.5 237.44L615.1 242.44L609.9 242.44Z" fill="#00007f"/>
<path d="M642.8 239L645.4 244L640.2 244Z" fill="#00007f"/>
<path d="M673.1 239.34L675.7 244.34L670.5 244.34Z" fill="#00007f"/>
<path d="M370.5 183.25 370.75 182.47 370.99 181.68 371.22 180.91 371.44 180.13 371.66 179.35 371.87 178.58 372.08 177.81 372.28 177.04 372.47 176.28 372.66 175.51 372.85 174.75 373.02 173.98 373.2 173.22 373.37 172.46 373.53 171.7 373.69 170.95 373.85 170.19 374 169.43 374.15 168.68 374.3 167.92 374.44 167.17 374.59 166.41 374.73 165.66 374.86 164.91 375 164.15 375.13 163.4 375.27 162.64 375.4 161.89 375.53 161.13 375.66 160.38 375.8 159.62 375.93 158.86 376.06 158.1 376.19 157.34 376.32 156.58 376.46 155.82 376.59 155.05 376.73 154.29 376.87 153.52 377.01 152.75 377.15 151.98 377.3 151.21 377.45 150.44 377.6 149.66 377.75 148.88 377.91 148.1 378.07 147.31 378.24 146.53 378.41 145.74 378.59 144.94 378.77 144.15 378.95 143.35 379.15 142.56 379.35 141.76 379.55 140.96 379.77 140.17 379.99 139.38 380.22 138.59 380.46 137.8 380.71 137.02 380.97 136.24 381.24 135.47 381.53 134.71 381.82 133.95 382.13 133.2 382.45 132.46 382.78 131.73 383.13 131.01 383.49 130.3 383.87 129.61 384.26 128.92 384.67 128.25 385.1 127.59 385.54 126.94 386 126.31 386.48 125.7 386.98 125.1 387.49 124.52 388.03 123.96 388.58 123.42 389.16 122.9 389.76 122.39 390.37 121.91 391.01 121.45 391.65 121.02 392.32 120.62 392.99 120.24 393.68 119.89 394.37 119.57 395.08 119.29 395.79 119.04 396.51 118.82 397.24 118.64 397.96 118.49 398.69 118.39 399.42 118.33 400.15 118.3 400.88 118.32 401.61 118.38 402.34 118.47 403.06 118.6 403.78 118.77 404.5 118.97 405.21 119.2 405.93 119.46 406.63 119.75 407.33 120.07 408.03 120.42 408.72 120.79 409.4 121.19 410.08 121.61 410.75 122.05 411.41 122.51 412.06 123 412.71 123.49 413.35 124.01 413.97 124.54 414.59 125.09 415.2 125.65 415.79 126.21 416.38 126.79 416.95 127.38 417.51 127.98 418.06 128.58 418.59 129.19 419.12 129.8 419.63 130.41 420.14 131.03 420.64 131.66 421.13 132.29 421.62 132.91 422.1 133.55 422.57 134.18 423.05 134.81 423.52 135.45 423.99 136.08 424.46 136.72 424.93 137.35 425.4 137.98 425.88 138.61 426.35 139.24 426.82 139.87 427.3 140.5 427.78 141.13 428.25 141.76 428.73 142.39 429.21 143.01 429.69 143.64 430.17 144.26 430.65 144.88 431.14 145.51 431.62 146.13 432.11 146.75 432.59 147.37 433.08 147.99 433.57 148.6 434.05 149.22 434.54 149.84 435.03 150.45 435.53 151.06 436.02 151.68 436.51 152.29 437.01 152.9 437.5 153.51 438 154.12 438.5 154.73 439 155.33 439.5 155.94 440 156.54 440.5 157.15 441 157.75 441.51 158.35 442.01 158.95 442.52 159.55 443.03 160.15 443.54 160.75 444.05 161.34 444.56 161.94 445.07 162.53 445.59 163.12 446.1 163.71 446.62 164.31 447.13 164.89 447.65 165.48 448.17 166.07 448.69 166.65 449.22 167.24 449.74 167.82 450.26 168.4 450.79 168.99 451.32 169.56 451.85 170.14 452.38 170.72 452.91 171.3 453.44 171.87 453.97 172.44 454.51 173.02 455.05 173.59 455.59 174.16 456.12 174.72 456.67 175.29 457.21 175.86 457.75 176.42 458.3 176.98 458.84 177.55 459.39 178.11 459.94 178.67 460.49 179.22 461.04 179.78 461.6 180.33 462.15 180.89 462.71 181.44 463.27 181.99 463.83 182.54 464.39 183.09 464.95 183.63 465.52 184.18 466.08 184.72 466.65 185.26 467.22 185.8 467.79 186.34 468.36 186.88 468.93 187.42 469.51 187.95 470.08 188.48 470.66 189.02 471.24 189.55 471.82 190.07 472.41 190.6 472.99 191.13 473.58 191.65 474.17 192.17 474.76 192.69 475.35 193.2 475.95 193.72 476.54 194.23 477.14 194.74 477.74 195.25 478.34 195.75 478.95 196.25 479.55 196.75 480.16 197.25 480.77 197.75 481.38 198.24 482 198.73 482.62 199.21 483.24 199.69 483.86 200.17 484.48 200.65 485.11 201.12 485.74 201.59 486.37 202.06 487 202.52 487.64 202.98 488.27 203.43 488.92 203.89 489.56 204.33 490.2 204.78 490.85 205.22 491.5 205.65 492.16 206.09 492.81 206.52 493.47 206.94 494.14 207.36 494.8 207.77 495.47 208.19 496.14 208.59 496.81 208.99 497.49 209.39 498.17 209.78 498.85 210.17 499.53 210.56 500.22 210.94 500.91 211.32 501.6 211.69 502.29 212.07 502.98 212.44 503.67 212.82 504.36 213.19 505.05 213.57 505.74 213.94 506.43 214.32 507.12 214.7 507.8 215.09 508.49 215.48 509.17 215.86 509.86 216.25 510.54 216.64 511.23 217.02 511.91 217.41 512.6 217.79 513.29 218.16 513.98 218.54 514.68 218.9 515.37 219.26 516.07 219.62 516.78 219.96 517.48 220.31 518.19 220.64 518.9 220.97 519.62 221.29 520.34 221.6 521.06 221.91 521.78 222.22 522.5 222.51 523.23 222.81 523.96 223.1 524.69 223.38 525.42 223.66 526.16 223.93 526.9 224.2 527.63 224.47 528.37 224.73 529.12 224.99 529.86 225.25 530.6 225.5 531.35 225.75 532.09 225.99 532.84 226.23 533.59 226.47 534.33 226.71 535.08 226.95 535.83 227.18 536.58 227.41 537.33 227.64 538.08 227.86 538.83 228.09 539.59 228.31 540.34 228.52 541.09 228.74 541.85 228.95 542.6 229.16 543.36 229.37 544.11 229.58 544.87 229.78 545.63 229.99 546.39 230.18 547.14 230.38 547.9 230.58 548.66 230.77 549.42 230.96 550.18 231.15 550.94 231.33 551.71 231.52 552.47 231.7 553.23 231.88 554 232.06 554.76 232.23 555.52 232.41 556.29 232.58 557.05 232.75 557.82 232.91 558.59 233.08 559.35 233.24 560.12 233.4 560.89 233.56 561.66 233.72 562.43 233.87 563.2 234.02 563.97 234.17 564.74 234.32 565.51 234.47 566.28 234.62 567.05 234.76 567.82 234.9 568.59 235.04 569.37 235.18 570.14 235.31 570.91 235.45 571.69 235.58 572.46 235.71 573.24 235.84 574.01 235.96 574.79 236.09 575.56 236.21 576.34 236.33 577.12 236.45 577.89 236.57 578.67 236.68 579.45 236.8 580.23 236.91 581.01 237.02 581.78 237.13 582.56 237.24 583.34 237.35 584.12 237.45 584.9 237.55 585.68 237.65 586.46 237.75 587.24 237.85 588.03 237.95 588.81 238.04 589.59 238.14 590.37 238.23 591.15 238.32 591.94 238.41 592.72 238.5 593.5 238.58 594.28 238.67 595.07 238.75 595.85 238.83 596.64 238.92 597.42 238.99 598.2 239.07 598.99 239.15 599.77 239.22 600.56 239.3 601.34 239.37 602.13 239.44 602.91 239.51 603.7 239.58 604.49 239.65 605.27 239.71 606.06 239.78 606.84 239.84 607.63 239.91 608.42 239.97 609.2 240.03 609.99 240.09 610.78 240.15 611.56 240.2 612.35 240.26 613.14 240.31 613.92 240.37 614.71 240.42 615.5 240.47 616.29 240.52 617.07 240.57 617.86 240.62 618.65 240.67 619.44 240.71 620.22 240.76 621.01 240.8 621.8 240.85 622.59 240.89 623.38 240.93 624.16 240.97 624.95 241.01 625.74 241.05 626.53 241.09 627.32 241.12 628.1 241.16 628.89 241.2 629.68 241.23 630.47 241.27 631.25 241.3 632.04 241.33 632.83 241.36 633.62 241.39 634.41 241.42 635.19 241.45 635.98 241.48 636.77 241.51 637.56 241.54 638.34 241.56 639.13 241.59 639.92 241.62 640.7 241.64 641.49 241.67 642.28 241.69 643.06 241.71 643.85 241.74 644.64 241.76 645.42 241.78 646.21 241.8 646.99 241.82 647.78 241.84 648.57 241.86 649.35 241.88 650.14 241.9 650.92 241.92 651.71 241.93 652.49 241.95 653.28 241.97 654.06 241.98 654.84 242 655.63 242.02 656.41 242.03 657.2 242.05 657.98 242.06 658.76 242.08 659.55 242.09 660.33 242.1 661.11 242.12 661.89 242.13 662.67 242.14 663.46 242.16 664.24 242.17 665.02 242.18 665.8 242.2 666.58 242.21 667.36 242.22 668.14 242.23 668.92 242.24 669.7 242.26 670.48 242.27 671.25 242.28 672.03 242.29 672.81 242.3 673.46 242.31" fill="none" stroke="#ff0000" stroke-width="1.7" stroke-linejoin="round"/>
<path d="M370.1 180.05L373.3 183.25L370.1 186.45L366.9 183.25Z" fill="#ff0000"/>
<path d="M388.28 120.51L391.48 123.71L388.28 126.91L385.08 123.71Z" fill="#ff0000"/>
<path d="M406.46 116.48L409.66 119.68L406.46 122.88L403.26 119.68Z" fill="#ff0000"/>
<path d="M424.64 133.76L427.84 136.96L424.64 140.16L421.44 136.96Z" fill="#ff0000"/>
<path d="M442.82 156.7L446.02 159.9L442.82 163.1L439.62 159.9Z" fill="#ff0000"/>
<path d="M461 176.54L464.2 179.74L461 182.94L457.8 179.74Z" fill="#ff0000"/>
<path d="M479.18 193.25L482.38 196.45L479.18 199.65L475.98 196.45Z" fill="#ff0000"/>
<path d="M497.36 206.12L500.56 209.32L497.36 212.52L494.16 209.32Z" fill="#ff0000"/>
<path d="M515.54 216.15L518.74 219.35L515.54 222.55L512.34 219.35Z" fill="#ff0000"/>
<path d="M533.72 223.32L536.92 226.52L533.72 229.72L530.52 226.52Z" fill="#ff0000"/>
<path d="M551.9 228.36L555.1 231.56L551.9 234.76L548.7 231.56Z" fill="#ff0000"/>
<path d="M570.08 232.1L573.28 235.3L570.08 238.5L566.88 235.3Z" fill="#ff0000"/>
<path d="M588.26 234.78L591.46 237.98L588.26 241.18L585.06 237.98Z" fill="#ff0000"/>
<path d="M606.44 236.61L609.64 239.81L606.44 243.01L603.24 239.81Z" fill="#ff0000"/>
<path d="M624.62 237.79L627.82 240.99L624.62 244.19L621.42 240.99Z" fill="#ff0000"/>
<path d="M642.8 238.51L646 241.71L642.8 244.91L639.6 241.71Z" fill="#ff0000"/>
<path d="M660.98 238.92L664.18 242.12L660.98 245.32L657.78 242.12Z" fill="#ff0000"/>
<path d="M370.5 183.25 370.55 182.46 370.61 181.66 370.67 180.87 370.72 180.08 370.78 179.29 370.84 178.49 370.9 177.7 370.96 176.91 371.02 176.12 371.08 175.33 371.15 174.53 371.21 173.74 371.28 172.95 371.35 172.16 371.41 171.37 371.48 170.58 371.55 169.79 371.62 169 371.7 168.21 371.77 167.42 371.84 166.63 371.92 165.84 371.99 165.05 372.07 164.26 372.15 163.47 372.23 162.68 372.31 161.89 372.39 161.1 372.47 160.31 372.56 159.52 372.64 158.73 372.73 157.95 372.81 157.16 372.9 156.37 372.99 155.58 373.08 154.79 373.17 154.01 373.26 153.22 373.36 152.43 373.45 151.65 373.55 150.86 373.65 150.07 373.74 149.29 373.84 148.5 373.94 147.71 374.05 146.93 374.15 146.14 374.25 145.36 374.36 144.57 374.46 143.79 374.57 143 374.68 142.22 374.79 141.43 374.9 140.65 375.01 139.86 375.13 139.08 375.24 138.29 375.36 137.51 375.48 136.73 375.59 135.94 375.71 135.16 375.84 134.38 375.96 133.59 376.08 132.81 376.21 132.03 376.33 131.25 376.46 130.46 376.59 129.68 376.72 128.9 376.85 128.12 376.98 127.34 377.12 126.56 377.25 125.78 377.39 124.99 377.53 124.21 377.67 123.43 377.81 122.65 377.95 121.87 378.09 121.09 378.24 120.31 378.38 119.53 378.53 118.75 378.68 117.97 378.83 117.19 378.98 116.42 379.13 115.64 379.29 114.86 379.44 114.08 379.6 113.3 379.76 112.52 379.92 111.75 380.08 110.97 380.24 110.19 380.4 109.41 380.57 108.64 380.74 107.86 380.9 107.08 381.07 106.31 381.24 105.53 381.42 104.76 381.59 103.98 381.77 103.2 381.94 102.43 382.12 101.65 382.3 100.88 382.48 100.1 382.67 99.33 382.85 98.55 383.04 97.78 383.22 97.01 383.41 96.23 383.6 95.46 383.8 94.69 383.99 93.92 384.19 93.15 384.38 92.38 384.58 91.61 384.79 90.84 384.99 90.07 385.19 89.31 385.4 88.54 385.61 87.78 385.82 87.02 386.04 86.26 386.25 85.5 386.47 84.74 386.69 83.99 386.91 83.24 387.13 82.48 387.36 81.73 387.59 80.99 387.82 80.24 388.05 79.5 388.29 78.75 388.53 78.01 388.77 77.28 389.02 76.54 389.3 75.81 389.6 75.09 389.93 74.37 390.3 73.66 390.73 72.95 391.2 72.26 391.72 71.58 392.28 70.92 392.88 70.28 393.51 69.68 394.16 69.11 394.84 68.57 395.54 68.09 396.25 67.65 396.97 67.27 397.7 66.94 398.43 66.68 399.16 66.48 399.88 66.36 400.59 66.32 401.42 66.37 402.22 66.55 403 66.83 403.63 67.14 404.25 67.51 404.86 67.93 405.45 68.4 406.03 68.92 406.6 69.47 407.16 70.05 407.71 70.66 408.25 71.28 408.79 71.91 409.33 72.55 409.86 73.19 410.38 73.83 410.9 74.47 411.42 75.11 411.93 75.76 412.44 76.4 412.94 77.05 413.44 77.7 413.93 78.35 414.43 79 414.91 79.65 415.4 80.3 415.88 80.95 416.35 81.61 416.83 82.26 417.3 82.92 417.76 83.57 418.23 84.23 418.69 84.89 419.14 85.55 419.6 86.21 420.05 86.88 420.49 87.54 420.94 88.2 421.38 88.87 421.82 89.53 422.25 90.2 422.69 90.87 423.12 91.54 423.55 92.21 423.97 92.88 424.39 93.55 424.82 94.22 425.23 94.89 425.65 95.56 426.06 96.24 426.48 96.91 426.89 97.59 427.3 98.26 427.7 98.94 428.11 99.62 428.51 100.29 428.91 100.97 429.31 101.65 429.71 102.33 430.11 103.01 430.5 103.69 430.9 104.37 431.29 105.05 431.68 105.74 432.07 106.42 432.46 107.1 432.85 107.79 433.24 108.47 433.63 109.16 434.01 109.84 434.4 110.53 434.78 111.21 435.17 111.9 435.55 112.58 435.93 113.27 436.32 113.96 436.7 114.65 437.08 115.33 437.46 116.02 437.85 116.71 438.23 117.4 438.61 118.09 438.99 118.78 439.38 119.47 439.76 120.16 440.14 120.84 440.53 121.53 440.91 122.22 441.3 122.91 441.68 123.6 442.07 124.29 442.45 124.98 442.84 125.67 443.23 126.36 443.61 127.05 444 127.74 444.39 128.43 444.78 129.12 445.17 129.81 445.56 130.5 445.95 131.19 446.34 131.88 446.74 132.57 447.13 133.26 447.52 133.95 447.92 134.63 448.32 135.32 448.71 136.01 449.11 136.69 449.51 137.38 449.91 138.07 450.31 138.75 450.71 139.43 451.12 140.12 451.52 140.8 451.92 141.49 452.33 142.17 452.74 142.85 453.15 143.53 453.56 144.21 453.97 144.89 454.38 145.57 454.79 146.25 455.21 146.92 455.62 147.6 456.04 148.28 456.46 148.95 456.88 149.63 457.3 150.3 457.73 150.97 458.15 151.64 458.58 152.31 459 152.98 459.43 153.65 459.86 154.32 460.3 154.98 460.73 155.65 461.16 156.31 461.6 156.97 462.04 157.63 462.48 158.29 462.92 158.95 463.37 159.61 463.81 160.27 464.26 160.92 464.71 161.57 465.16 162.23 465.62 162.88 466.07 163.53 466.53 164.17 466.99 164.82 467.45 165.47 467.91 166.11 468.38 166.75 468.85 167.39 469.31 168.03 469.79 168.67 470.26 169.3 470.74 169.94 471.21 170.57 471.7 171.2 472.18 171.83 472.66 172.45 473.15 173.08 473.64 173.7 474.13 174.32 474.63 174.94 475.12 175.56 475.62 176.18 476.12 176.79 476.63 177.4 477.13 178.01 477.64 178.62 478.16 179.22 478.67 179.83 479.19 180.43 479.71 181.03 480.23 181.63 480.75 182.22 481.28 182.81 481.81 183.4 482.34 183.99 482.88 184.58 483.42 185.16 483.96 185.74 484.5 186.32 485.05 186.9 485.6 187.47 486.15 188.04 486.71 188.61 487.26 189.18 487.82 189.74 488.38 190.31 488.95 190.86 489.52 191.42 490.09 191.97 490.66 192.52 491.24 193.07 491.81 193.62 492.39 194.16 492.98 194.7 493.56 195.23 494.15 195.77 494.74 196.3 495.34 196.83 495.93 197.35 496.53 197.87 497.13 198.39 497.73 198.91 498.34 199.42 498.95 199.93 499.56 200.43 500.17 200.94 500.79 201.43 501.41 201.93 502.03 202.42 502.65 202.91 503.28 203.4 503.91 203.88 504.54 204.36 505.17 204.84 505.81 205.31 506.45 205.78 507.09 206.24 507.73 206.7 508.38 207.16 509.02 207.61 509.67 208.07 510.33 208.51 510.98 208.95 511.64 209.39 512.3 209.83 512.96 210.26 513.63 210.69 514.29 211.11 514.96 211.53 515.63 211.95 516.31 212.37 516.98 212.78 517.66 213.18 518.34 213.58 519.02 213.98 519.71 214.38 520.39 214.77 521.08 215.16 521.77 215.55 522.46 215.93 523.16 216.3 523.86 216.68 524.55 217.05 525.25 217.42 525.96 217.78 526.66 218.14 527.37 218.5 528.07 218.85 528.78 219.2 529.49 219.55 530.21 219.89 530.92 220.23 531.64 220.57 532.36 220.9 533.08 221.24 533.8 221.56 534.52 221.89 535.25 222.21 535.97 222.52 536.7 222.84 537.43 223.15 538.16 223.45 538.9 223.76 539.63 224.06 540.37 224.36 541.1 224.65 541.84 224.94 542.58 225.23 543.32 225.52 544.06 225.8 544.81 226.08 545.55 226.35 546.3 226.62 547.05 226.89 547.8 227.16 548.55 227.42 549.3 227.68 550.05 227.94 550.81 228.19 551.56 228.45 552.32 228.69 553.07 228.94 553.83 229.18 554.59 229.42 555.35 229.66 556.11 229.89 556.88 230.12 557.64 230.35 558.4 230.57 559.17 230.79 559.93 231.01 560.7 231.23 561.47 231.44 562.24 231.65 563.01 231.86 563.78 232.06 564.55 232.26 565.32 232.46 566.09 232.66 566.87 232.85 567.64 233.04 568.41 233.23 569.19 233.42 569.96 233.6 570.74 233.78 571.52 233.96 572.29 234.13 573.07 234.3 573.85 234.47 574.63 234.64 575.41 234.8 576.19 234.96 576.97 235.12 577.75 235.28 578.53 235.43 579.31 235.58 580.09 235.73 580.88 235.88 581.66 236.02 582.44 236.16 583.22 236.3 584.01 236.43 584.79 236.57 585.57 236.7 586.36 236.83 587.14 236.95 587.92 237.08 588.71 237.2 589.49 237.32 590.28 237.43 591.06 237.55 591.85 237.66 592.63 237.77 593.42 237.88 594.2 237.98 594.99 238.09 595.78 238.19 596.56 238.29 597.35 238.39 598.14 238.48 598.92 238.58 599.71 238.67 600.5 238.76 601.29 238.85 602.07 238.93 602.86 239.02 603.65 239.1 604.44 239.18 605.22 239.26 606.01 239.34 606.8 239.41 607.59 239.48 608.38 239.56 609.17 239.63 609.96 239.7 610.75 239.76 611.54 239.83 612.33 239.89 613.12 239.95 613.91 240.02 614.7 240.08 615.49 240.13 616.28 240.19 617.07 240.25 617.86 240.3 618.65 240.35 619.44 240.4 620.23 240.45 621.02 240.5 621.81 240.55 622.6 240.6 623.39 240.64 624.18 240.69 624.98 240.73 625.77 240.77 626.56 240.81 627.35 240.85 628.14 240.89 628.94 240.93 629.73 240.97 630.52 241 631.31 241.04 632.1 241.07 632.9 241.1 633.69 241.14 634.48 241.17 635.27 241.2 636.07 241.23 636.86 241.26 637.65 241.29 638.44 241.32 639.24 241.34 640.03 241.37 640.82 241.4 641.62 241.42 642.41 241.45 643.2 241.47 644 241.5 644.79 241.52 645.58 241.54 646.37 241.57 647.17 241.59 647.96 241.61 648.75 241.63 649.55 241.66 650.34 241.68 651.13 241.7 651.93 241.72 652.72 241.74 653.51 241.76 654.31 241.78 655.1 241.8 655.89 241.82 656.69 241.84 657.48 241.86 658.27 241.88 659.07 241.9 659.86 241.92 660.65 241.94 661.45 241.96 662.24 241.98 663.03 242 663.83 242.02 664.62 242.04 665.41 242.07 666.21 242.09 667 242.11 667.79 242.13 668.59 242.15 669.38 242.18 670.17 242.2 670.96 242.22 671.76 242.25 672.55 242.27 673.34 242.3 673.5 242.3" fill="none" stroke="#000000" stroke-width="1.7" stroke-linejoin="round"/>
<circle cx="370.1" cy="183.25" r="3.3" fill="#000000"/>
<circle cx="400.4" cy="66.32" r="3.3" fill="#000000"/>
<circle cx="430.2" cy="103.17" r="3.3" fill="#000000"/>
<circle cx="461" cy="156.06" r="3.3" fill="#000000"/>
<circle cx="491.3" cy="193.13" r="3.3" fill="#000000"/>
<circle cx="521.6" cy="215.45" r="3.3" fill="#000000"/>
<circle cx="551.9" cy="228.56" r="3.3" fill="#000000"/>
<circle cx="582.2" cy="236.12" r="3.3" fill="#000000"/>
<circle cx="612.5" cy="239.91" r="3.3" fill="#000000"/>
<circle cx="642.8" cy="241.46" r="3.3" fill="#000000"/>
<circle cx="673.1" cy="242.29" r="3.3" fill="#000000"/>
<path d="M370.5 183.25 370.53 182.49 370.57 181.72 370.6 180.96 370.63 180.2 370.67 179.43 370.7 178.67 370.74 177.91 370.78 177.15 370.81 176.39 370.85 175.63 370.89 174.86 370.93 174.1 370.97 173.34 371.01 172.58 371.05 171.83 371.09 171.07 371.13 170.31 371.18 169.55 371.22 168.79 371.26 168.03 371.31 167.27 371.35 166.52 371.4 165.76 371.44 165 371.49 164.25 371.54 163.49 371.59 162.73 371.64 161.98 371.68 161.22 371.73 160.47 371.78 159.71 371.84 158.96 371.89 158.2 371.94 157.45 371.99 156.69 372.05 155.94 372.1 155.19 372.15 154.43 372.21 153.68 372.27 152.93 372.32 152.17 372.38 151.42 372.44 150.67 372.49 149.92 372.55 149.16 372.61 148.41 372.67 147.66 372.73 146.91 372.79 146.16 372.85 145.41 372.92 144.66 372.98 143.9 373.04 143.15 373.1 142.4 373.17 141.65 373.23 140.9 373.3 140.15 373.36 139.4 373.43 138.65 373.5 137.9 373.57 137.15 373.63 136.41 373.7 135.66 373.77 134.91 373.84 134.16 373.91 133.41 373.98 132.66 374.05 131.91 374.12 131.16 374.2 130.42 374.27 129.67 374.34 128.92 374.42 128.17 374.49 127.42 374.57 126.68 374.64 125.93 374.72 125.18 374.79 124.43 374.87 123.68 374.95 122.94 375.03 122.19 375.11 121.44 375.19 120.7 375.26 119.95 375.34 119.2 375.43 118.45 375.51 117.71 375.59 116.96 375.67 116.21 375.75 115.47 375.84 114.72 375.92 113.97 376 113.22 376.09 112.48 376.17 111.73 376.26 110.98 376.35 110.24 376.43 109.49 376.52 108.74 376.61 108 376.7 107.25 376.79 106.5 376.88 105.76 376.96 105.01 377.05 104.26 377.15 103.52 377.24 102.77 377.33 102.02 377.42 101.28 377.51 100.53 377.61 99.78 377.7 99.03 377.79 98.29 377.89 97.54 377.98 96.79 378.08 96.05 378.18 95.3 378.27 94.55 378.37 93.8 378.47 93.06 378.56 92.31 378.66 91.56 378.76 90.81 378.86 90.06 378.96 89.32 379.06 88.57 379.16 87.82 379.26 87.07 379.36 86.32 379.47 85.58 379.57 84.83 379.67 84.08 379.77 83.33 379.88 82.58 379.98 81.83 380.09 81.08 380.19 80.33 380.3 79.58 380.4 78.83 380.51 78.08 380.62 77.33 380.72 76.58 380.83 75.83 380.94 75.08 381.05 74.33 381.16 73.58 381.27 72.83 381.38 72.08 381.49 71.33 381.6 70.58 381.71 69.83 381.82 69.08 381.93 68.32 382.05 67.57 382.16 66.82 382.27 66.07 382.39 65.31 382.5 64.56 382.61 63.81 382.73 63.05 382.84 62.3 382.96 61.55 383.08 60.79 383.19 60.04 383.31 59.28 383.43 58.53 383.55 57.78 383.66 57.02 383.78 56.27 383.9 55.51 384.02 54.75 384.14 54 384.26 53.24 384.38 52.49 384.51 51.73 384.63 50.97 384.76 50.22 384.88 49.46 385.01 48.71 385.15 47.96 385.28 47.2 385.42 46.45 385.56 45.7 385.7 44.95 385.85 44.21 386 43.46 386.16 42.72 386.32 41.98 386.48 41.24 386.65 40.5 386.83 39.76 387.01 39.03 387.19 38.3 387.38 37.57 387.58 36.85 387.78 36.12 387.99 35.4 388.21 34.69 388.43 33.97 388.66 33.27 388.9 32.56 389.15 31.86 389.4 31.16 389.67 30.47 389.94 29.78 390.22 29.09 390.51 28.41 390.8 27.73 391.11 27.06 391.43 26.39 391.76 25.73 392.09 25.07 392.44 24.42 392.8 23.77 393.17 23.13 393.55 22.49 393.94 21.86 394.34 21.24 394.76 20.62 395.19 20.01 395.63 19.4 396.08 18.8 396.54 18.21 397.02 17.62 397.51 17.04 398.02 16.47 398.54 15.92 399.08 15.42 399.64 14.98 400.37 14.55 401.14 14.29 401.95 14.2 402.78 14.27 403.63 14.48 404.32 14.74 405.02 15.07 405.71 15.46 406.4 15.9 407.08 16.39 407.75 16.91 408.4 17.45 409.03 18.01 409.63 18.58 410.21 19.16 410.77 19.75 411.31 20.34 411.82 20.95 412.32 21.56 412.8 22.18 413.26 22.8 413.7 23.44 414.13 24.08 414.54 24.72 414.94 25.37 415.32 26.03 415.69 26.69 416.06 27.35 416.41 28.02 416.75 28.69 417.09 29.37 417.41 30.04 417.74 30.72 418.05 31.41 418.36 32.09 418.67 32.78 418.98 33.47 419.28 34.15 419.58 34.84 419.89 35.53 420.19 36.22 420.49 36.91 420.79 37.6 421.09 38.29 421.39 38.98 421.69 39.67 421.99 40.36 422.28 41.05 422.58 41.74 422.88 42.43 423.17 43.13 423.47 43.82 423.76 44.51 424.06 45.2 424.35 45.9 424.64 46.59 424.94 47.29 425.23 47.98 425.52 48.67 425.81 49.37 426.11 50.06 426.4 50.76 426.69 51.45 426.98 52.15 427.27 52.84 427.56 53.54 427.85 54.24 428.14 54.93 428.43 55.63 428.71 56.32 429 57.02 429.29 57.72 429.58 58.41 429.87 59.11 430.16 59.81 430.44 60.51 430.73 61.2 431.02 61.9 431.31 62.6 431.59 63.29 431.88 63.99 432.17 64.69 432.46 65.39 432.74 66.08 433.03 66.78 433.32 67.48 433.61 68.18 433.89 68.88 434.18 69.57 434.47 70.27 434.76 70.97 435.04 71.67 435.33 72.36 435.62 73.06 435.91 73.76 436.2 74.46 436.49 75.15 436.77 75.85 437.06 76.55 437.35 77.25 437.64 77.94 437.93 78.64 438.22 79.34 438.51 80.03 438.8 80.73 439.1 81.43 439.39 82.12 439.68 82.82 439.97 83.51 440.26 84.21 440.56 84.91 440.85 85.6 441.15 86.3 441.44 86.99 441.74 87.69 442.03 88.38 442.33 89.08 442.62 89.77 442.92 90.46 443.22 91.16 443.52 91.85 443.82 92.55 444.12 93.24 444.42 93.93 444.72 94.62 445.02 95.32 445.32 96.01 445.62 96.7 445.93 97.39 446.23 98.08 446.54 98.77 446.84 99.46 447.15 100.15 447.46 100.84 447.77 101.53 448.08 102.22 448.39 102.91 448.7 103.6 449.01 104.28 449.32 104.97 449.63 105.66 449.95 106.35 450.26 107.03 450.58 107.72 450.9 108.4 451.22 109.09 451.54 109.77 451.86 110.46 452.18 111.14 452.5 111.82 452.82 112.5 453.15 113.19 453.47 113.87 453.8 114.55 454.13 115.23 454.46 115.91 454.79 116.59 455.12 117.27 455.45 117.95 455.79 118.62 456.12 119.3 456.46 119.98 456.79 120.65 457.13 121.33 457.47 122 457.81 122.68 458.16 123.35 458.5 124.02 458.85 124.7 459.19 125.37 459.54 126.04 459.89 126.71 460.24 127.38 460.59 128.05 460.95 128.72 461.3 129.39 461.66 130.05 462.02 130.72 462.38 131.39 462.74 132.05 463.1 132.72 463.46 133.38 463.83 134.04 464.19 134.71 464.56 135.37 464.93 136.03 465.3 136.69 465.66 137.35 466.03 138.02 466.41 138.68 466.78 139.33 467.15 139.99 467.52 140.65 467.9 141.31 468.27 141.97 468.65 142.63 469.02 143.28 469.4 143.94 469.78 144.6 470.16 145.25 470.53 145.91 470.91 146.57 471.29 147.22 471.67 147.88 472.05 148.53 472.43 149.19 472.81 149.84 473.19 150.5 473.57 151.15 473.95 151.8 474.33 152.46 474.71 153.11 475.09 153.76 475.46 154.42 475.84 155.07 476.22 155.72 476.6 156.38 476.98 157.03 477.36 157.68 477.74 158.34 478.12 158.99 478.5 159.64 478.88 160.29 479.26 160.94 479.64 161.59 480.02 162.24 480.41 162.89 480.79 163.54 481.17 164.19 481.56 164.83 481.94 165.48 482.33 166.12 482.72 166.77 483.11 167.41 483.5 168.05 483.89 168.69 484.29 169.33 484.68 169.97 485.08 170.61 485.48 171.25 485.88 171.88 486.28 172.52 486.69 173.15 487.09 173.78 487.5 174.41 487.91 175.03 488.33 175.66 488.74 176.28 489.16 176.91 489.58 177.53 490 178.15 490.43 178.76 490.86 179.38 491.29 179.99 491.72 180.6 492.16 181.21 492.6 181.82 493.04 182.42 493.49 183.02 493.94 183.62 494.39 184.22 494.85 184.82 495.31 185.41 495.77 186 496.24 186.59 496.71 187.17 497.19 187.76 497.67 188.34 498.15 188.91 498.64 189.49 499.13 190.06 499.63 190.63 500.13 191.19 500.63 191.76 501.14 192.32 501.65 192.87 502.17 193.43 502.69 193.98 503.22 194.53 503.75 195.07 504.29 195.61 504.82 196.15 505.37 196.68 505.91 197.22 506.46 197.74 507.01 198.27 507.57 198.79 508.13 199.31 508.7 199.83 509.26 200.34 509.83 200.85 510.41 201.35 510.99 201.86 511.57 202.35 512.15 202.85 512.74 203.34 513.33 203.83 513.92 204.31 514.51 204.8 515.11 205.27 515.71 205.75 516.32 206.22 516.92 206.69 517.53 207.15 518.14 207.61 518.75 208.07 519.37 208.52 519.99 208.97 520.61 209.41 521.23 209.85 521.85 210.29 522.48 210.73 523.11 211.16 523.74 211.58 524.37 212.01 525 212.43 525.64 212.84 526.27 213.25 526.91 213.66 527.55 214.06 528.19 214.46 528.84 214.86 529.48 215.26 530.13 215.64 530.78 216.03 531.43 216.41 532.09 216.79 532.74 217.17 533.4 217.54 534.06 217.91 534.72 218.27 535.38 218.63 536.04 218.99 536.71 219.34 537.37 219.69 538.04 220.04 538.71 220.38 539.38 220.72 540.05 221.06 540.73 221.39 541.4 221.72 542.08 222.05 542.76 222.37 543.44 222.69 544.12 223.01 544.8 223.32 545.49 223.63 546.17 223.94 546.86 224.24 547.55 224.54 548.24 224.83 548.93 225.13 549.62 225.42 550.32 225.7 551.01 225.99 551.71 226.27 552.41 226.54 553.11 226.82 553.81 227.09 554.51 227.35 555.21 227.62 555.92 227.88 556.62 228.13 557.33 228.39 558.04 228.64 558.74 228.89 559.45 229.13 560.17 229.37 560.88 229.61 561.59 229.85 562.31 230.08 563.02 230.31 563.74 230.53 564.45 230.76 565.17 230.98 565.89 231.19 566.61 231.41 567.33 231.62 568.06 231.83 568.78 232.03 569.5 232.23 570.23 232.43 570.96 232.63 571.68 232.82 572.41 233.01 573.14 233.2 573.87 233.39 574.6 233.57 575.33 233.75 576.06 233.92 576.8 234.1 577.53 234.27 578.26 234.44 579 234.6 579.74 234.76 580.47 234.92 581.21 235.08 581.95 235.23 582.69 235.38 583.43 235.53 584.17 235.68 584.91 235.82 585.65 235.96 586.39 236.1 587.13 236.23 587.88 236.37 588.62 236.5 589.36 236.62 590.11 236.75 590.85 236.87 591.6 236.99 592.35 237.11 593.09 237.23 593.84 237.34 594.59 237.45 595.34 237.56 596.09 237.67 596.84 237.77 597.58 237.87 598.34 237.97 599.09 238.07 599.84 238.17 600.59 238.26 601.34 238.35 602.09 238.44 602.85 238.53 603.6 238.61 604.35 238.7 605.11 238.78 605.86 238.86 606.62 238.94 607.37 239.02 608.13 239.09 608.88 239.16 609.64 239.24 610.39 239.31 611.15 239.37 611.91 239.44 612.66 239.51 613.42 239.57 614.18 239.63 614.93 239.69 615.69 239.75 616.45 239.81 617.21 239.87 617.97 239.92 618.73 239.97 619.48 240.03 620.24 240.08 621 240.13 621.76 240.18 622.52 240.22 623.28 240.27 624.04 240.31 624.8 240.36 625.56 240.4 626.32 240.44 627.08 240.48 627.84 240.52 628.6 240.56 629.36 240.6 630.12 240.64 630.88 240.67 631.64 240.71 632.39 240.74 633.15 240.78 633.91 240.81 634.67 240.84 635.43 240.88 636.19 240.91 636.95 240.94 637.71 240.97 638.47 241 639.23 241.03 639.99 241.05 640.75 241.08 641.51 241.11 642.26 241.14 643.02 241.16 643.78 241.19 644.54 241.21 645.3 241.24 646.05 241.27 646.81 241.29 647.57 241.32 648.33 241.34 649.08 241.37 649.84 241.39 650.59 241.41 651.35 241.44 652.11 241.46 652.86 241.49 653.62 241.51 654.37 241.54 655.12 241.56 655.88 241.58 656.63 241.61 657.39 241.63 658.14 241.66 658.89 241.69 659.64 241.71 660.39 241.74 661.15 241.76 661.9 241.79 662.65 241.82 663.4 241.84 664.15 241.87 664.89 241.9 665.64 241.93 666.39 241.96 667.14 241.99 667.89 242.02 668.63 242.05 669.38 242.08 670.12 242.12 670.87 242.15 671.61 242.18 672.36 242.22 673.1 242.25 673.47 242.27" fill="none" stroke="#80ff00" stroke-width="1.7" stroke-linejoin="round"/>
<path d="M370.1 180.35L372.7 185.35L367.5 185.35Z" fill="#80ff00"/>
<path d="M400.4 11.63L403 16.63L397.8 16.63Z" fill="#80ff00"/>
<path d="M430.2 57.02L432.8 62.02L427.6 62.02Z" fill="#80ff00"/>
<path d="M461 125.91L463.6 130.91L458.4 130.91Z" fill="#80ff00"/>
<path d="M491.3 177.11L493.9 182.11L488.7 182.11Z" fill="#80ff00"/>
<path d="M521.6 207.22L524.2 212.22L519 212.22Z" fill="#80ff00"/>
<path d="M551.9 223.44L554.5 228.44L549.3 228.44Z" fill="#80ff00"/>
<path d="M582.2 232.38L584.8 237.38L579.6 237.38Z" fill="#80ff00"/>
<path d="M612.5 236.59L615.1 241.59L609.9 241.59Z" fill="#80ff00"/>
<path d="M642.8 238.25L645.4 243.25L640.2 243.25Z" fill="#80ff00"/>
<path d="M673.1 239.35L675.7 244.35L670.5 244.35Z" fill="#80ff00"/>
</g>
<path d="M370.5 183.5h4M673.5 183.5h-4M370.5 124.5h4M673.5 124.5h-4M370.5 64.5h4M673.5 64.5h-4M522.5 242.5v-4M522.5 5.5v4" stroke="#3a3a3a" stroke-width="1"/>
<clipPath id="cBL"><rect x="37.0" y="289.0" width="304.0" height="239.0"/></clipPath>
<rect x="37" y="289" width="304" height="1" fill="#444"/>
<rect x="37" y="527" width="304" height="1" fill="#444"/>
<rect x="37" y="289" width="1" height="239" fill="#444"/>
<rect x="340" y="289" width="1" height="239" fill="#444"/>
<g clip-path="url(#cBL)">
<path d="M37.5 484.23 37.78 483.49 38.05 482.83 38.35 482.17 38.66 481.51 39.01 480.84 39.37 480.17 39.75 479.5 40.15 478.84 40.58 478.18 41.02 477.52 41.48 476.87 41.96 476.23 42.45 475.6 42.96 474.98 43.49 474.37 44.03 473.77 44.59 473.19 45.16 472.63 45.74 472.08 46.34 471.56 46.94 471.05 47.56 470.57 48.19 470.11 48.83 469.68 49.48 469.27 50.13 468.89 50.8 468.54 51.47 468.22 52.14 467.94 52.83 467.69 53.52 467.47 54.21 467.29 54.91 467.14 55.61 467.02 56.31 466.93 57.02 466.86 57.73 466.82 58.45 466.81 59.17 466.82 59.89 466.85 60.61 466.91 61.33 466.98 62.05 467.07 62.78 467.17 63.5 467.29 64.23 467.43 64.96 467.57 65.68 467.73 66.4 467.89 67.13 468.07 67.85 468.24 68.57 468.43 69.29 468.62 70 468.81 70.72 469.01 71.43 469.21 72.15 469.42 72.86 469.64 73.57 469.85 74.27 470.08 74.98 470.3 75.69 470.54 76.39 470.77 77.09 471.01 77.79 471.26 78.49 471.51 79.19 471.76 79.89 472.02 80.59 472.28 81.28 472.54 81.98 472.81 82.67 473.08 83.36 473.36 84.05 473.64 84.74 473.92 85.43 474.21 86.12 474.49 86.81 474.79 87.49 475.08 88.18 475.38 88.86 475.68 89.55 475.98 90.23 476.29 90.91 476.6 91.59 476.91 92.27 477.22 92.95 477.54 93.63 477.86 94.31 478.18 94.99 478.5 95.67 478.82 96.34 479.15 97.02 479.48 97.7 479.81 98.37 480.14 99.05 480.47 99.72 480.81 100.39 481.14 101.07 481.48 101.74 481.82 102.41 482.16 103.09 482.5 103.76 482.84 104.43 483.18 105.1 483.53 105.78 483.87 106.45 484.22 107.12 484.56 107.79 484.91 108.46 485.25 109.13 485.6 109.8 485.94 110.48 486.29 111.15 486.64 111.82 486.98 112.49 487.33 113.16 487.68 113.83 488.02 114.5 488.37 115.18 488.71 115.85 489.06 116.52 489.4 117.19 489.74 117.87 490.09 118.54 490.43 119.21 490.77 119.89 491.11 120.56 491.45 121.24 491.78 121.91 492.12 122.59 492.45 123.26 492.78 123.94 493.12 124.62 493.44 125.29 493.77 125.97 494.1 126.65 494.42 127.33 494.74 128.01 495.06 128.69 495.38 129.38 495.69 130.06 496.01 130.74 496.32 131.43 496.63 132.11 496.93 132.8 497.24 133.48 497.54 134.17 497.84 134.86 498.14 135.54 498.43 136.23 498.72 136.92 499.02 137.61 499.3 138.3 499.59 139 499.88 139.69 500.16 140.38 500.44 141.07 500.72 141.77 500.99 142.46 501.27 143.16 501.54 143.86 501.81 144.55 502.08 145.25 502.34 145.95 502.61 146.65 502.87 147.35 503.13 148.05 503.39 148.75 503.64 149.45 503.9 150.15 504.15 150.85 504.4 151.56 504.65 152.26 504.89 152.96 505.14 153.67 505.38 154.38 505.62 155.08 505.86 155.79 506.09 156.5 506.33 157.2 506.56 157.91 506.79 158.62 507.02 159.33 507.25 160.04 507.47 160.75 507.69 161.46 507.91 162.17 508.13 162.89 508.35 163.6 508.57 164.31 508.78 165.03 508.99 165.74 509.2 166.46 509.41 167.17 509.62 167.89 509.82 168.6 510.03 169.32 510.23 170.04 510.43 170.76 510.63 171.48 510.82 172.2 511.02 172.92 511.21 173.64 511.4 174.36 511.59 175.08 511.78 175.8 511.96 176.52 512.15 177.24 512.33 177.97 512.51 178.69 512.69 179.41 512.87 180.14 513.04 180.86 513.22 181.59 513.39 182.31 513.56 183.04 513.73 183.77 513.9 184.49 514.07 185.22 514.23 185.95 514.39 186.68 514.56 187.41 514.72 188.13 514.88 188.86 515.03 189.59 515.19 190.32 515.34 191.06 515.5 191.79 515.65 192.52 515.8 193.25 515.94 193.98 516.09 194.71 516.24 195.45 516.38 196.18 516.52 196.92 516.66 197.65 516.8 198.38 516.94 199.12 517.08 199.85 517.21 200.59 517.35 201.33 517.48 202.06 517.61 202.8 517.74 203.54 517.87 204.27 518 205.01 518.12 205.75 518.25 206.49 518.37 207.23 518.49 207.96 518.61 208.7 518.73 209.44 518.85 210.18 518.97 210.92 519.08 211.66 519.2 212.4 519.31 213.15 519.42 213.89 519.53 214.63 519.64 215.37 519.75 216.11 519.85 216.85 519.96 217.6 520.06 218.34 520.17 219.08 520.27 219.83 520.37 220.57 520.47 221.31 520.57 222.06 520.66 222.8 520.76 223.55 520.86 224.29 520.95 225.04 521.04 225.78 521.13 226.53 521.23 227.27 521.31 228.02 521.4 228.77 521.49 229.51 521.58 230.26 521.66 231.01 521.75 231.75 521.83 232.5 521.91 233.25 521.99 233.99 522.07 234.74 522.15 235.49 522.23 236.24 522.31 236.99 522.38 237.73 522.46 238.48 522.53 239.23 522.61 239.98 522.68 240.73 522.75 241.48 522.82 242.23 522.89 242.98 522.96 243.73 523.03 244.48 523.1 245.23 523.16 245.98 523.23 246.73 523.29 247.48 523.35 248.23 523.42 248.98 523.48 249.73 523.54 250.48 523.6 251.23 523.66 251.98 523.72 252.73 523.78 253.48 523.83 254.23 523.89 254.98 523.94 255.73 524 256.49 524.05 257.24 524.11 257.99 524.16 258.74 524.21 259.49 524.26 260.24 524.31 260.99 524.36 261.75 524.41 262.5 524.46 263.25 524.51 264 524.55 264.75 524.6 265.5 524.65 266.26 524.69 267.01 524.73 267.76 524.78 268.51 524.82 269.26 524.86 270.02 524.91 270.77 524.95 271.52 524.99 272.27 525.03 273.02 525.07 273.77 525.11 274.53 525.15 275.28 525.18 276.03 525.22 276.78 525.26 277.53 525.29 278.28 525.33 279.04 525.37 279.79 525.4 280.54 525.43 281.29 525.47 282.04 525.5 282.79 525.54 283.54 525.57 284.3 525.6 285.05 525.63 285.8 525.66 286.55 525.69 287.3 525.72 288.05 525.75 288.8 525.78 289.55 525.81 290.3 525.84 291.05 525.87 291.8 525.9 292.55 525.93 293.3 525.96 294.05 525.98 294.8 526.01 295.55 526.04 296.3 526.06 297.05 526.09 297.8 526.11 298.55 526.14 299.3 526.17 300.05 526.19 300.8 526.21 301.54 526.24 302.29 526.26 303.04 526.29 303.79 526.31 304.54 526.34 305.28 526.36 306.03 526.38 306.78 526.4 307.53 526.43 308.27 526.45 309.02 526.47 309.77 526.5 310.51 526.52 311.26 526.54 312 526.56 312.75 526.58 313.5 526.61 314.24 526.63 314.99 526.65 315.73 526.67 316.48 526.69 317.22 526.71 317.96 526.74 318.71 526.76 319.45 526.78 320.19 526.8 320.94 526.82 321.68 526.84 322.42 526.86 323.17 526.88 323.91 526.91 324.65 526.93 325.39 526.95 326.13 526.97 326.87 526.99 327.61 527.01 328.35 527.03 329.09 527.06 329.83 527.08 330.57 527.1 331.31 527.12 332.05 527.14 332.79 527.17 333.53 527.19 334.27 527.21 335 527.23 335.74 527.26 336.48 527.28 337.21 527.3 337.95 527.32 338.69 527.35 339.42 527.37 340.16 527.39 340.37 527.4" fill="none" stroke="#00007f" stroke-width="1.7" stroke-linejoin="round"/>
<path d="M37.1 481.33L39.7 486.33L34.5 486.33Z" fill="#00007f"/>
<path d="M67.4 465.23L70 470.23L64.8 470.23Z" fill="#00007f"/>
<path d="M97.2 476.67L99.8 481.67L94.6 481.67Z" fill="#00007f"/>
<path d="M128 492.16L130.6 497.16L125.4 497.16Z" fill="#00007f"/>
<path d="M158.3 504.02L160.9 509.02L155.7 509.02Z" fill="#00007f"/>
<path d="M188.6 512.08L191.2 517.08L186 517.08Z" fill="#00007f"/>
<path d="M218.9 517.34L221.5 522.34L216.3 522.34Z" fill="#00007f"/>
<path d="M249.2 520.6L251.8 525.6L246.6 525.6Z" fill="#00007f"/>
<path d="M279.5 522.49L282.1 527.49L276.9 527.49Z" fill="#00007f"/>
<path d="M309.8 523.6L312.4 528.6L307.2 528.6Z" fill="#00007f"/>
<path d="M340.1 524.49L342.7 529.49L337.5 529.49Z" fill="#00007f"/>
<path d="M37.5 484.23 37.57 483.4 37.65 482.58 37.74 481.77 37.83 480.95 37.93 480.15 38.04 479.34 38.15 478.54 38.27 477.75 38.4 476.96 38.53 476.17 38.66 475.38 38.8 474.6 38.95 473.82 39.1 473.04 39.25 472.27 39.41 471.49 39.57 470.72 39.74 469.96 39.91 469.19 40.09 468.43 40.26 467.67 40.44 466.91 40.63 466.15 40.81 465.39 41 464.63 41.19 463.88 41.38 463.12 41.57 462.37 41.77 461.61 41.97 460.86 42.16 460.1 42.36 459.35 42.56 458.6 42.76 457.84 42.96 457.09 43.16 456.33 43.36 455.58 43.56 454.82 43.76 454.06 43.95 453.3 44.15 452.54 44.35 451.78 44.54 451.02 44.73 450.25 44.92 449.48 45.11 448.71 45.3 447.94 45.48 447.17 45.66 446.39 45.84 445.61 46.02 444.83 46.2 444.04 46.37 443.26 46.55 442.47 46.72 441.69 46.9 440.9 47.08 440.11 47.26 439.32 47.44 438.53 47.63 437.75 47.82 436.96 48.01 436.17 48.21 435.39 48.41 434.6 48.62 433.82 48.83 433.04 49.05 432.26 49.28 431.49 49.52 430.71 49.76 429.94 50.01 429.18 50.28 428.41 50.55 427.65 50.83 426.9 51.12 426.15 51.42 425.4 51.74 424.66 52.06 423.92 52.4 423.19 52.76 422.47 53.12 421.75 53.5 421.03 53.9 420.33 54.31 419.63 54.73 418.93 55.18 418.25 55.64 417.57 56.11 416.9 56.61 416.24 57.12 415.59 57.64 414.96 58.18 414.35 58.74 413.75 59.31 413.19 59.89 412.65 60.49 412.13 61.1 411.65 61.72 411.21 62.36 410.8 63 410.43 63.66 410.11 64.32 409.83 65 409.59 65.69 409.41 66.38 409.29 67.09 409.21 67.8 409.2 68.51 409.25 69.24 409.36 69.97 409.53 70.7 409.75 71.43 410.01 72.17 410.3 72.89 410.62 73.61 410.96 74.33 411.3 75.03 411.66 75.73 412.03 76.42 412.41 77.1 412.8 77.77 413.19 78.44 413.6 79.1 414.02 79.75 414.45 80.39 414.88 81.03 415.32 81.67 415.78 82.29 416.24 82.91 416.7 83.53 417.18 84.13 417.67 84.74 418.16 85.33 418.66 85.93 419.16 86.51 419.68 87.09 420.2 87.67 420.72 88.24 421.26 88.81 421.8 89.37 422.34 89.93 422.89 90.48 423.45 91.03 424.01 91.58 424.58 92.12 425.15 92.66 425.73 93.19 426.31 93.73 426.9 94.26 427.49 94.78 428.08 95.3 428.68 95.83 429.28 96.34 429.89 96.86 430.5 97.37 431.11 97.88 431.73 98.39 432.34 98.9 432.96 99.41 433.59 99.91 434.21 100.42 434.84 100.92 435.47 101.42 436.1 101.93 436.73 102.43 437.36 102.93 437.99 103.43 438.63 103.93 439.26 104.43 439.9 104.93 440.53 105.43 441.17 105.93 441.8 106.43 442.44 106.93 443.07 107.43 443.7 107.94 444.33 108.44 444.97 108.95 445.59 109.46 446.22 109.97 446.85 110.48 447.47 110.99 448.1 111.51 448.72 112.03 449.33 112.55 449.95 113.07 450.57 113.59 451.18 114.11 451.79 114.64 452.4 115.17 453 115.7 453.61 116.23 454.21 116.76 454.81 117.3 455.41 117.83 456.01 118.37 456.6 118.91 457.2 119.45 457.79 120 458.38 120.54 458.96 121.09 459.55 121.64 460.13 122.19 460.71 122.74 461.28 123.3 461.86 123.86 462.43 124.41 463 124.97 463.57 125.54 464.14 126.1 464.7 126.67 465.27 127.23 465.83 127.8 466.38 128.37 466.94 128.95 467.49 129.52 468.04 130.1 468.59 130.68 469.14 131.26 469.68 131.84 470.22 132.42 470.76 133.01 471.29 133.6 471.83 134.19 472.36 134.78 472.89 135.37 473.41 135.97 473.94 136.56 474.46 137.16 474.98 137.76 475.49 138.37 476.01 138.97 476.52 139.58 477.02 140.19 477.53 140.8 478.03 141.41 478.53 142.02 479.03 142.64 479.53 143.26 480.02 143.88 480.51 144.5 481 145.12 481.48 145.75 481.96 146.38 482.44 147.01 482.92 147.64 483.39 148.27 483.86 148.91 484.33 149.54 484.79 150.18 485.25 150.82 485.71 151.46 486.17 152.11 486.62 152.76 487.07 153.4 487.52 154.06 487.96 154.71 488.41 155.36 488.84 156.02 489.28 156.68 489.71 157.34 490.14 158 490.57 158.66 490.99 159.33 491.41 160 491.83 160.67 492.25 161.34 492.66 162.01 493.07 162.69 493.47 163.37 493.87 164.05 494.27 164.73 494.67 165.41 495.06 166.1 495.45 166.79 495.84 167.48 496.22 168.17 496.6 168.86 496.98 169.56 497.35 170.25 497.72 170.95 498.09 171.65 498.45 172.36 498.82 173.06 499.17 173.77 499.53 174.47 499.88 175.18 500.23 175.9 500.58 176.61 500.92 177.32 501.26 178.04 501.6 178.76 501.93 179.48 502.26 180.2 502.59 180.92 502.92 181.64 503.24 182.37 503.56 183.1 503.88 183.82 504.19 184.55 504.5 185.28 504.81 186.02 505.12 186.75 505.42 187.49 505.72 188.22 506.02 188.96 506.31 189.7 506.6 190.44 506.89 191.18 507.18 191.92 507.46 192.67 507.74 193.41 508.02 194.16 508.29 194.9 508.56 195.65 508.83 196.4 509.1 197.15 509.36 197.9 509.63 198.66 509.88 199.41 510.14 200.16 510.39 200.92 510.65 201.67 510.89 202.43 511.14 203.19 511.38 203.95 511.62 204.71 511.86 205.47 512.1 206.23 512.33 206.99 512.56 207.75 512.79 208.52 513.02 209.28 513.24 210.05 513.46 210.81 513.68 211.58 513.89 212.35 514.11 213.11 514.32 213.88 514.53 214.65 514.73 215.42 514.94 216.19 515.14 216.96 515.34 217.73 515.53 218.5 515.73 219.27 515.92 220.04 516.11 220.81 516.3 221.59 516.48 222.36 516.67 223.13 516.85 223.91 517.02 224.68 517.2 225.46 517.37 226.23 517.55 227.01 517.72 227.78 517.88 228.56 518.05 229.33 518.21 230.11 518.37 230.89 518.53 231.66 518.69 232.44 518.84 233.22 519 234 519.15 234.78 519.3 235.56 519.44 236.34 519.59 237.11 519.73 237.89 519.87 238.67 520.01 239.46 520.15 240.24 520.28 241.02 520.42 241.8 520.55 242.58 520.68 243.36 520.81 244.15 520.93 244.93 521.06 245.71 521.18 246.49 521.3 247.28 521.42 248.06 521.53 248.85 521.65 249.63 521.76 250.41 521.87 251.2 521.98 251.98 522.09 252.77 522.2 253.56 522.3 254.34 522.41 255.13 522.51 255.91 522.61 256.7 522.71 257.49 522.81 258.27 522.9 259.06 522.99 259.85 523.09 260.64 523.18 261.42 523.27 262.21 523.36 263 523.44 263.79 523.53 264.58 523.61 265.37 523.69 266.16 523.77 266.94 523.85 267.73 523.93 268.52 524.01 269.31 524.08 270.1 524.16 270.89 524.23 271.68 524.3 272.47 524.37 273.26 524.44 274.05 524.51 274.85 524.57 275.64 524.64 276.43 524.7 277.22 524.77 278.01 524.83 278.8 524.89 279.59 524.95 280.38 525.01 281.18 525.06 281.97 525.12 282.76 525.17 283.55 525.23 284.34 525.28 285.14 525.33 285.93 525.38 286.72 525.43 287.51 525.48 288.31 525.53 289.1 525.58 289.89 525.62 290.69 525.67 291.48 525.71 292.27 525.75 293.07 525.8 293.86 525.84 294.65 525.88 295.44 525.92 296.24 525.96 297.03 525.99 297.82 526.03 298.62 526.07 299.41 526.1 300.21 526.14 301 526.17 301.79 526.21 302.59 526.24 303.38 526.27 304.17 526.3 304.97 526.33 305.76 526.36 306.55 526.39 307.35 526.42 308.14 526.45 308.93 526.48 309.73 526.51 310.52 526.53 311.31 526.56 312.11 526.58 312.9 526.61 313.69 526.63 314.49 526.66 315.28 526.68 316.07 526.71 316.87 526.73 317.66 526.75 318.45 526.77 319.25 526.79 320.04 526.82 320.83 526.84 321.63 526.86 322.42 526.88 323.21 526.9 324 526.92 324.8 526.94 325.59 526.96 326.38 526.98 327.17 526.99 327.96 527.01 328.76 527.03 329.55 527.05 330.34 527.07 331.13 527.09 331.92 527.1 332.71 527.12 333.51 527.14 334.3 527.16 335.09 527.17 335.88 527.19 336.67 527.21 337.46 527.23 338.25 527.24 339.04 527.26 339.83 527.28 340.49 527.29" fill="none" stroke="#ff0000" stroke-width="1.7" stroke-linejoin="round"/>
<path d="M37.1 481.03L40.3 484.23L37.1 487.43L33.9 484.23Z" fill="#ff0000"/>
<path d="M55.28 414.89L58.48 418.09L55.28 421.29L52.08 418.09Z" fill="#ff0000"/>
<path d="M73.46 407.68L76.66 410.88L73.46 414.08L70.26 410.88Z" fill="#ff0000"/>
<path d="M91.64 421.44L94.84 424.64L91.64 427.84L88.44 424.64Z" fill="#ff0000"/>
<path d="M109.82 443.47L113.02 446.67L109.82 449.87L106.62 446.67Z" fill="#ff0000"/>
<path d="M128 463.38L131.2 466.58L128 469.78L124.8 466.58Z" fill="#ff0000"/>
<path d="M146.18 479.09L149.38 482.29L146.18 485.49L142.98 482.29Z" fill="#ff0000"/>
<path d="M164.36 491.25L167.56 494.45L164.36 497.65L161.16 494.45Z" fill="#ff0000"/>
<path d="M182.54 500.44L185.74 503.64L182.54 506.84L179.34 503.64Z" fill="#ff0000"/>
<path d="M200.72 507.38L203.92 510.58L200.72 513.78L197.52 510.58Z" fill="#ff0000"/>
<path d="M218.9 512.63L222.1 515.83L218.9 519.03L215.7 515.83Z" fill="#ff0000"/>
<path d="M237.08 516.53L240.28 519.73L237.08 522.93L233.88 519.73Z" fill="#ff0000"/>
<path d="M255.26 519.33L258.46 522.53L255.26 525.73L252.06 522.53Z" fill="#ff0000"/>
<path d="M273.44 521.26L276.64 524.46L273.44 527.66L270.24 524.46Z" fill="#ff0000"/>
<path d="M291.62 522.52L294.82 525.72L291.62 528.92L288.42 525.72Z" fill="#ff0000"/>
<path d="M309.8 523.31L313 526.51L309.8 529.71L306.6 526.51Z" fill="#ff0000"/>
<path d="M327.98 523.81L331.18 527.01L327.98 530.21L324.78 527.01Z" fill="#ff0000"/>
<path d="M37.5 484.23 37.64 483.44 37.78 482.65 37.91 481.87 38.04 481.08 38.16 480.29 38.29 479.5 38.41 478.71 38.53 477.92 38.64 477.13 38.75 476.34 38.86 475.54 38.97 474.75 39.08 473.96 39.18 473.16 39.28 472.36 39.38 471.57 39.47 470.77 39.57 469.98 39.66 469.18 39.75 468.38 39.84 467.58 39.92 466.78 40.01 465.98 40.09 465.19 40.17 464.39 40.25 463.59 40.33 462.79 40.41 461.98 40.49 461.18 40.56 460.38 40.64 459.58 40.71 458.78 40.78 457.98 40.86 457.17 40.93 456.37 41 455.57 41.07 454.77 41.14 453.96 41.21 453.16 41.28 452.36 41.34 451.56 41.41 450.75 41.48 449.95 41.55 449.15 41.62 448.34 41.69 447.54 41.75 446.74 41.82 445.94 41.89 445.13 41.96 444.33 42.03 443.53 42.11 442.73 42.18 441.92 42.25 441.12 42.32 440.32 42.4 439.52 42.47 438.72 42.55 437.92 42.63 437.12 42.71 436.32 42.79 435.52 42.87 434.72 42.95 433.92 43.04 433.12 43.13 432.32 43.21 431.52 43.3 430.73 43.4 429.93 43.49 429.13 43.59 428.34 43.68 427.54 43.78 426.75 43.89 425.95 43.99 425.16 44.1 424.36 44.21 423.57 44.32 422.78 44.44 421.99 44.56 421.2 44.68 420.41 44.8 419.62 44.93 418.83 45.06 418.04 45.19 417.26 45.33 416.47 45.47 415.69 45.61 414.9 45.76 414.12 45.9 413.34 46.05 412.55 46.21 411.77 46.36 410.99 46.52 410.21 46.68 409.43 46.84 408.65 47 407.87 47.17 407.09 47.33 406.31 47.5 405.53 47.67 404.75 47.84 403.97 48.01 403.19 48.18 402.41 48.35 401.63 48.53 400.85 48.7 400.06 48.87 399.28 49.04 398.5 49.21 397.72 49.39 396.94 49.56 396.15 49.73 395.37 49.9 394.59 50.07 393.8 50.24 393.01 50.41 392.23 50.57 391.44 50.74 390.65 50.9 389.86 51.06 389.07 51.22 388.28 51.38 387.49 51.54 386.69 51.69 385.9 51.84 385.1 51.99 384.3 52.13 383.51 52.28 382.7 52.42 381.9 52.56 381.1 52.69 380.3 52.84 379.49 52.98 378.69 53.13 377.89 53.28 377.09 53.44 376.29 53.61 375.49 53.78 374.7 53.97 373.9 54.17 373.12 54.39 372.33 54.62 371.55 54.86 370.78 55.13 370.01 55.41 369.25 55.71 368.49 56.03 367.74 56.38 366.99 56.75 366.26 57.15 365.53 57.58 364.81 58.03 364.1 58.5 363.41 59 362.74 59.52 362.09 60.07 361.47 60.63 360.87 61.21 360.31 61.81 359.79 62.43 359.31 63.06 358.87 63.71 358.49 64.37 358.15 65.04 357.87 65.72 357.65 66.41 357.49 67.11 357.4 67.82 357.38 68.53 357.43 69.25 357.54 69.97 357.71 70.69 357.94 71.4 358.22 72.12 358.54 72.82 358.9 73.53 359.31 74.22 359.74 74.9 360.2 75.57 360.69 76.23 361.19 76.87 361.71 77.5 362.24 78.11 362.78 78.71 363.34 79.3 363.91 79.88 364.5 80.44 365.09 80.99 365.7 81.53 366.31 82.06 366.94 82.58 367.57 83.09 368.21 83.59 368.86 84.08 369.52 84.56 370.18 85.04 370.85 85.51 371.53 85.97 372.21 86.43 372.89 86.88 373.58 87.32 374.27 87.76 374.96 88.2 375.65 88.63 376.35 89.06 377.05 89.49 377.74 89.91 378.44 90.33 379.14 90.75 379.83 91.16 380.53 91.58 381.23 91.99 381.93 92.39 382.62 92.8 383.32 93.2 384.02 93.6 384.71 94 385.41 94.4 386.11 94.79 386.81 95.19 387.51 95.58 388.2 95.97 388.9 96.36 389.6 96.75 390.3 97.13 390.99 97.52 391.69 97.9 392.39 98.28 393.09 98.67 393.78 99.05 394.48 99.43 395.18 99.8 395.88 100.18 396.57 100.56 397.27 100.94 397.97 101.31 398.67 101.69 399.36 102.07 400.06 102.44 400.76 102.82 401.45 103.19 402.15 103.57 402.85 103.95 403.54 104.32 404.24 104.7 404.94 105.07 405.63 105.45 406.33 105.83 407.02 106.21 407.72 106.59 408.42 106.97 409.11 107.35 409.81 107.73 410.5 108.11 411.19 108.5 411.89 108.88 412.58 109.27 413.28 109.66 413.97 110.05 414.66 110.44 415.36 110.83 416.05 111.22 416.74 111.62 417.43 112.02 418.13 112.42 418.82 112.82 419.51 113.22 420.2 113.63 420.89 114.04 421.58 114.45 422.27 114.86 422.96 115.27 423.65 115.69 424.34 116.1 425.03 116.52 425.71 116.94 426.4 117.37 427.09 117.79 427.77 118.22 428.46 118.65 429.14 119.08 429.82 119.51 430.51 119.94 431.19 120.38 431.87 120.82 432.55 121.26 433.23 121.7 433.91 122.15 434.59 122.59 435.26 123.04 435.94 123.49 436.61 123.94 437.29 124.4 437.96 124.85 438.63 125.31 439.3 125.77 439.97 126.23 440.64 126.7 441.31 127.16 441.97 127.63 442.64 128.1 443.3 128.57 443.96 129.04 444.62 129.52 445.28 130 445.94 130.48 446.6 130.96 447.26 131.44 447.91 131.93 448.56 132.42 449.21 132.91 449.86 133.4 450.51 133.89 451.16 134.39 451.8 134.88 452.45 135.38 453.09 135.89 453.73 136.39 454.37 136.89 455 137.4 455.64 137.91 456.27 138.42 456.91 138.94 457.53 139.45 458.16 139.97 458.79 140.49 459.41 141.01 460.04 141.54 460.66 142.06 461.27 142.59 461.89 143.12 462.51 143.65 463.12 144.19 463.73 144.72 464.34 145.26 464.94 145.8 465.55 146.34 466.15 146.89 466.75 147.43 467.34 147.98 467.94 148.53 468.53 149.08 469.12 149.64 469.71 150.19 470.3 150.75 470.88 151.31 471.46 151.87 472.04 152.44 472.62 153.01 473.19 153.57 473.76 154.15 474.33 154.72 474.9 155.29 475.46 155.87 476.02 156.45 476.58 157.03 477.13 157.61 477.69 158.2 478.24 158.79 478.78 159.38 479.33 159.97 479.87 160.56 480.41 161.16 480.95 161.75 481.48 162.35 482.01 162.96 482.54 163.56 483.06 164.17 483.58 164.77 484.1 165.38 484.62 166 485.13 166.61 485.64 167.23 486.15 167.85 486.65 168.47 487.15 169.09 487.65 169.72 488.14 170.34 488.63 170.97 489.12 171.6 489.6 172.24 490.08 172.87 490.56 173.51 491.03 174.15 491.5 174.79 491.97 175.44 492.43 176.08 492.89 176.73 493.35 177.38 493.8 178.03 494.25 178.69 494.7 179.34 495.14 180 495.58 180.66 496.01 181.33 496.44 181.99 496.87 182.66 497.29 183.33 497.72 184 498.13 184.68 498.54 185.35 498.95 186.03 499.36 186.71 499.76 187.39 500.16 188.08 500.55 188.77 500.94 189.45 501.32 190.15 501.7 190.84 502.08 191.53 502.45 192.23 502.82 192.93 503.19 193.63 503.55 194.34 503.91 195.04 504.26 195.75 504.61 196.46 504.96 197.17 505.3 197.89 505.64 198.6 505.98 199.32 506.31 200.04 506.64 200.76 506.96 201.48 507.28 202.21 507.6 202.93 507.91 203.66 508.22 204.39 508.53 205.12 508.83 205.86 509.13 206.59 509.42 207.33 509.72 208.07 510.01 208.81 510.29 209.55 510.57 210.29 510.85 211.04 511.13 211.79 511.4 212.54 511.67 213.29 511.93 214.04 512.2 214.79 512.46 215.54 512.71 216.3 512.96 217.06 513.21 217.82 513.46 218.58 513.7 219.34 513.94 220.1 514.18 220.87 514.42 221.63 514.65 222.4 514.87 223.17 515.1 223.94 515.32 224.71 515.54 225.48 515.76 226.25 515.97 227.03 516.18 227.8 516.39 228.58 516.59 229.36 516.79 230.14 516.99 230.92 517.19 231.7 517.38 232.48 517.57 233.27 517.76 234.05 517.95 234.84 518.13 235.63 518.31 236.41 518.49 237.2 518.66 237.99 518.83 238.78 519 239.57 519.17 240.37 519.33 241.16 519.5 241.95 519.66 242.75 519.81 243.55 519.97 244.34 520.12 245.14 520.27 245.94 520.42 246.74 520.56 247.54 520.7 248.34 520.84 249.14 520.98 249.94 521.12 250.74 521.25 251.55 521.38 252.35 521.51 253.16 521.64 253.96 521.76 254.77 521.89 255.57 522.01 256.38 522.13 257.19 522.24 257.99 522.36 258.8 522.47 259.61 522.58 260.42 522.69 261.23 522.79 262.04 522.9 262.85 523 263.66 523.1 264.47 523.2 265.28 523.3 266.09 523.39 266.91 523.49 267.72 523.58 268.53 523.67 269.34 523.75 270.16 523.84 270.97 523.93 271.78 524.01 272.6 524.09 273.41 524.17 274.22 524.25 275.04 524.32 275.85 524.4 276.67 524.47 277.48 524.54 278.29 524.61 279.11 524.68 279.92 524.75 280.74 524.81 281.55 524.88 282.36 524.94 283.18 525 283.99 525.06 284.81 525.12 285.62 525.18 286.43 525.24 287.25 525.29 288.06 525.34 288.87 525.4 289.68 525.45 290.5 525.5 291.31 525.55 292.12 525.59 292.93 525.64 293.74 525.69 294.55 525.73 295.37 525.77 296.18 525.82 296.99 525.86 297.79 525.9 298.6 525.94 299.41 525.97 300.22 526.01 301.03 526.05 301.83 526.08 302.64 526.12 303.45 526.15 304.25 526.19 305.06 526.22 305.86 526.25 306.67 526.28 307.47 526.31 308.27 526.34 309.07 526.37 309.87 526.4 310.67 526.42 311.47 526.45 312.27 526.48 313.07 526.5 313.87 526.53 314.66 526.55 315.46 526.57 316.25 526.6 317.05 526.62 317.84 526.64 318.63 526.66 319.43 526.68 320.22 526.71 321 526.73 321.79 526.75 322.58 526.77 323.37 526.79 324.15 526.81 324.94 526.83 325.72 526.84 326.5 526.86 327.28 526.88 328.06 526.9 328.84 526.92 329.62 526.94 330.4 526.95 331.17 526.97 331.95 526.99 332.72 527.01 333.49 527.02 334.26 527.04 335.03 527.06 335.8 527.08 336.57 527.09 337.33 527.11 338.1 527.13 338.86 527.15 339.62 527.17 340.23 527.18" fill="none" stroke="#000000" stroke-width="1.7" stroke-linejoin="round"/>
<circle cx="37.1" cy="484.23" r="3.3" fill="#000000"/>
<circle cx="67.4" cy="357.38" r="3.3" fill="#000000"/>
<circle cx="97.2" cy="391.12" r="3.3" fill="#000000"/>
<circle cx="128" cy="443.16" r="3.3" fill="#000000"/>
<circle cx="158.3" cy="478.33" r="3.3" fill="#000000"/>
<circle cx="188.6" cy="500.84" r="3.3" fill="#000000"/>
<circle cx="218.9" cy="513.81" r="3.3" fill="#000000"/>
<circle cx="249.2" cy="520.99" r="3.3" fill="#000000"/>
<circle cx="279.5" cy="524.71" r="3.3" fill="#000000"/>
<circle cx="309.8" cy="526.39" r="3.3" fill="#000000"/>
<circle cx="340.1" cy="527.18" r="3.3" fill="#000000"/>
<path d="M37.5 484.23 37.53 483.45 37.56 482.67 37.59 481.89 37.62 481.11 37.65 480.33 37.68 479.55 37.72 478.78 37.75 478 37.78 477.22 37.82 476.44 37.85 475.66 37.89 474.88 37.93 474.1 37.97 473.32 38.01 472.54 38.04 471.76 38.08 470.98 38.12 470.2 38.17 469.42 38.21 468.64 38.25 467.85 38.29 467.07 38.34 466.29 38.38 465.51 38.43 464.73 38.47 463.95 38.52 463.17 38.57 462.39 38.62 461.61 38.66 460.83 38.71 460.04 38.76 459.26 38.81 458.48 38.86 457.7 38.92 456.92 38.97 456.14 39.02 455.35 39.07 454.57 39.13 453.79 39.18 453.01 39.24 452.23 39.29 451.44 39.35 450.66 39.41 449.88 39.46 449.1 39.52 448.32 39.58 447.53 39.64 446.75 39.7 445.97 39.76 445.19 39.82 444.4 39.88 443.62 39.94 442.84 40.01 442.06 40.07 441.27 40.13 440.49 40.2 439.71 40.26 438.93 40.33 438.14 40.39 437.36 40.46 436.58 40.53 435.8 40.59 435.01 40.66 434.23 40.73 433.45 40.8 432.67 40.87 431.88 40.94 431.1 41.01 430.32 41.08 429.54 41.15 428.75 41.22 427.97 41.29 427.19 41.37 426.41 41.44 425.62 41.51 424.84 41.59 424.06 41.66 423.28 41.74 422.49 41.81 421.71 41.89 420.93 41.96 420.15 42.04 419.36 42.12 418.58 42.19 417.8 42.27 417.02 42.35 416.24 42.43 415.45 42.51 414.67 42.59 413.89 42.67 413.11 42.75 412.33 42.83 411.54 42.91 410.76 42.99 409.98 43.08 409.2 43.16 408.42 43.24 407.64 43.32 406.85 43.41 406.07 43.49 405.29 43.58 404.51 43.66 403.73 43.75 402.95 43.83 402.17 43.92 401.39 44 400.61 44.09 399.83 44.18 399.04 44.26 398.26 44.35 397.48 44.44 396.7 44.53 395.92 44.62 395.14 44.7 394.36 44.79 393.58 44.88 392.8 44.97 392.02 45.06 391.24 45.15 390.46 45.24 389.68 45.33 388.91 45.42 388.13 45.52 387.35 45.61 386.57 45.7 385.79 45.79 385.01 45.88 384.23 45.98 383.45 46.07 382.67 46.16 381.9 46.26 381.12 46.35 380.34 46.45 379.56 46.54 378.79 46.63 378.01 46.73 377.23 46.82 376.45 46.92 375.68 47.02 374.9 47.11 374.12 47.21 373.35 47.3 372.57 47.4 371.79 47.5 371.02 47.59 370.24 47.69 369.47 47.79 368.69 47.88 367.91 47.98 367.14 48.08 366.36 48.18 365.59 48.28 364.81 48.37 364.04 48.47 363.26 48.57 362.49 48.67 361.72 48.77 360.94 48.87 360.17 48.97 359.4 49.07 358.62 49.17 357.85 49.27 357.08 49.37 356.3 49.47 355.53 49.57 354.76 49.67 353.99 49.77 353.21 49.87 352.44 49.97 351.67 50.07 350.9 50.17 350.13 50.27 349.36 50.37 348.59 50.47 347.82 50.57 347.05 50.68 346.28 50.78 345.51 50.88 344.74 50.98 343.97 51.08 343.2 51.18 342.43 51.29 341.66 51.39 340.89 51.49 340.13 51.59 339.36 51.69 338.59 51.8 337.82 51.9 337.06 52 336.29 52.11 335.52 52.22 334.75 52.33 333.99 52.44 333.22 52.55 332.45 52.67 331.69 52.79 330.92 52.91 330.15 53.04 329.38 53.17 328.62 53.31 327.85 53.44 327.08 53.59 326.31 53.73 325.54 53.89 324.77 54.04 324 54.21 323.23 54.38 322.46 54.55 321.69 54.74 320.92 54.92 320.15 55.12 319.38 55.32 318.6 55.53 317.83 55.75 317.05 55.97 316.28 56.21 315.5 56.45 314.73 56.7 313.95 56.96 313.17 57.23 312.39 57.51 311.61 57.8 310.83 58.09 310.05 58.4 309.27 58.72 308.49 59.05 307.71 59.39 306.93 59.75 306.17 60.12 305.41 60.5 304.67 60.89 303.95 61.3 303.24 61.72 302.56 62.16 301.9 62.61 301.27 63.08 300.67 63.56 300.1 64.07 299.57 64.59 299.08 65.12 298.62 65.82 298.12 66.55 297.69 67.31 297.33 68.1 297.06 68.92 296.88 69.77 296.79 70.63 296.78 71.5 296.87 72.19 297 72.89 297.18 73.58 297.42 74.26 297.72 74.92 298.07 75.58 298.46 76.22 298.9 76.85 299.37 77.45 299.89 78.04 300.43 78.61 301.01 79.15 301.61 79.67 302.24 80.17 302.88 80.65 303.55 81.1 304.23 81.54 304.93 81.96 305.65 82.37 306.37 82.76 307.11 83.13 307.85 83.49 308.59 83.84 309.35 84.18 310.1 84.51 310.85 84.83 311.6 85.15 312.34 85.45 313.09 85.75 313.82 86.05 314.56 86.34 315.29 86.63 316.02 86.91 316.74 87.2 317.47 87.48 318.19 87.76 318.91 88.04 319.63 88.33 320.35 88.61 321.07 88.9 321.79 89.19 322.51 89.48 323.23 89.77 323.95 90.06 324.67 90.35 325.39 90.64 326.1 90.94 326.82 91.23 327.54 91.53 328.26 91.83 328.98 92.12 329.69 92.42 330.41 92.72 331.13 93.02 331.85 93.32 332.56 93.62 333.28 93.92 334 94.22 334.72 94.53 335.43 94.83 336.15 95.13 336.87 95.43 337.59 95.73 338.3 96.04 339.02 96.34 339.74 96.64 340.46 96.94 341.18 97.24 341.9 97.55 342.62 97.85 343.34 98.15 344.06 98.45 344.78 98.75 345.5 99.05 346.22 99.35 346.94 99.65 347.67 99.95 348.39 100.25 349.11 100.55 349.83 100.85 350.55 101.15 351.28 101.45 352 101.75 352.72 102.04 353.45 102.34 354.17 102.64 354.9 102.94 355.62 103.24 356.34 103.54 357.07 103.84 357.79 104.14 358.52 104.44 359.24 104.73 359.97 105.03 360.69 105.33 361.42 105.63 362.14 105.93 362.87 106.23 363.59 106.53 364.32 106.83 365.04 107.13 365.77 107.43 366.49 107.73 367.22 108.03 367.95 108.33 368.67 108.63 369.4 108.93 370.12 109.23 370.85 109.54 371.57 109.84 372.3 110.14 373.02 110.44 373.75 110.75 374.47 111.05 375.2 111.35 375.92 111.66 376.65 111.96 377.37 112.27 378.09 112.57 378.82 112.88 379.54 113.18 380.27 113.49 380.99 113.8 381.71 114.11 382.44 114.41 383.16 114.72 383.88 115.03 384.61 115.34 385.33 115.65 386.05 115.96 386.77 116.28 387.49 116.59 388.21 116.9 388.94 117.21 389.66 117.53 390.38 117.84 391.1 118.16 391.82 118.48 392.54 118.79 393.25 119.11 393.97 119.43 394.69 119.75 395.41 120.07 396.13 120.39 396.84 120.71 397.56 121.03 398.28 121.36 398.99 121.68 399.71 122.01 400.42 122.33 401.14 122.66 401.85 122.99 402.57 123.32 403.28 123.65 403.99 123.98 404.7 124.31 405.42 124.64 406.13 124.98 406.84 125.31 407.55 125.65 408.26 125.98 408.97 126.32 409.67 126.66 410.38 127 411.09 127.34 411.79 127.68 412.5 128.03 413.21 128.37 413.91 128.72 414.61 129.06 415.32 129.41 416.02 129.76 416.72 130.11 417.42 130.46 418.12 130.82 418.82 131.17 419.52 131.53 420.22 131.88 420.92 132.24 421.62 132.6 422.31 132.96 423.01 133.32 423.7 133.69 424.4 134.05 425.09 134.42 425.78 134.79 426.48 135.16 427.17 135.53 427.86 135.9 428.55 136.27 429.23 136.65 429.92 137.02 430.61 137.4 431.29 137.78 431.98 138.16 432.66 138.55 433.34 138.93 434.03 139.32 434.71 139.7 435.39 140.09 436.07 140.48 436.75 140.88 437.42 141.27 438.1 141.67 438.77 142.06 439.45 142.46 440.12 142.86 440.79 143.27 441.47 143.67 442.14 144.08 442.81 144.48 443.47 144.89 444.14 145.3 444.81 145.72 445.47 146.13 446.14 146.55 446.8 146.97 447.46 147.39 448.12 147.81 448.78 148.24 449.44 148.66 450.09 149.09 450.75 149.52 451.41 149.95 452.06 150.39 452.71 150.82 453.36 151.26 454.01 151.7 454.66 152.15 455.31 152.59 455.96 153.04 456.6 153.49 457.24 153.94 457.89 154.39 458.53 154.84 459.17 155.3 459.81 155.76 460.44 156.22 461.08 156.68 461.71 157.15 462.35 157.62 462.98 158.09 463.61 158.56 464.24 159.04 464.87 159.51 465.49 159.99 466.12 160.47 466.74 160.96 467.36 161.44 467.98 161.93 468.6 162.42 469.22 162.92 469.83 163.41 470.44 163.91 471.06 164.41 471.66 164.92 472.27 165.43 472.87 165.93 473.48 166.45 474.07 166.96 474.67 167.48 475.27 168 475.86 168.52 476.45 169.05 477.03 169.58 477.62 170.11 478.2 170.64 478.78 171.18 479.35 171.72 479.92 172.26 480.49 172.81 481.06 173.36 481.62 173.91 482.18 174.46 482.73 175.02 483.29 175.58 483.83 176.15 484.38 176.72 484.92 177.29 485.46 177.86 485.99 178.44 486.52 179.02 487.05 179.6 487.57 180.19 488.09 180.78 488.6 181.38 489.11 181.97 489.62 182.57 490.12 183.18 490.62 183.79 491.11 184.4 491.6 185.01 492.08 185.63 492.56 186.26 493.03 186.88 493.5 187.51 493.96 188.14 494.42 188.78 494.88 189.42 495.33 190.07 495.77 190.72 496.21 191.37 496.64 192.02 497.07 192.68 497.5 193.34 497.92 194.01 498.34 194.68 498.75 195.35 499.15 196.02 499.56 196.7 499.95 197.38 500.35 198.06 500.74 198.75 501.12 199.44 501.5 200.13 501.88 200.82 502.25 201.52 502.62 202.21 502.99 202.91 503.35 203.62 503.71 204.32 504.06 205.03 504.41 205.74 504.76 206.45 505.1 207.16 505.44 207.88 505.77 208.59 506.11 209.31 506.44 210.03 506.76 210.75 507.08 211.47 507.4 212.2 507.72 212.92 508.03 213.65 508.34 214.38 508.65 215.11 508.95 215.84 509.26 216.57 509.56 217.3 509.85 218.03 510.15 218.77 510.44 219.5 510.72 220.24 511.01 220.97 511.29 221.71 511.57 222.44 511.85 223.18 512.13 223.92 512.4 224.66 512.67 225.4 512.94 226.14 513.2 226.88 513.47 227.62 513.73 228.36 513.98 229.11 514.24 229.85 514.49 230.59 514.74 231.34 514.98 232.09 515.23 232.83 515.47 233.58 515.7 234.33 515.94 235.08 516.17 235.82 516.39 236.57 516.62 237.32 516.84 238.08 517.06 238.83 517.28 239.58 517.49 240.33 517.7 241.09 517.91 241.84 518.11 242.6 518.31 243.35 518.51 244.11 518.7 244.87 518.89 245.63 519.08 246.38 519.26 247.14 519.44 247.9 519.62 248.67 519.8 249.43 519.97 250.19 520.13 250.95 520.3 251.72 520.46 252.48 520.62 253.25 520.77 254.01 520.92 254.78 521.07 255.55 521.22 256.31 521.36 257.08 521.5 257.85 521.63 258.62 521.77 259.39 521.9 260.16 522.02 260.93 522.15 261.7 522.27 262.48 522.39 263.25 522.5 264.02 522.62 264.8 522.73 265.57 522.84 266.34 522.94 267.12 523.05 267.9 523.15 268.67 523.24 269.45 523.34 270.23 523.43 271 523.52 271.78 523.61 272.56 523.7 273.34 523.78 274.12 523.87 274.9 523.95 275.68 524.03 276.46 524.1 277.24 524.18 278.02 524.25 278.8 524.32 279.58 524.39 280.36 524.45 281.15 524.52 281.93 524.58 282.71 524.64 283.49 524.7 284.28 524.76 285.06 524.81 285.84 524.87 286.63 524.92 287.41 524.97 288.2 525.02 288.98 525.07 289.77 525.12 290.55 525.17 291.34 525.21 292.12 525.25 292.91 525.3 293.69 525.34 294.48 525.38 295.26 525.42 296.05 525.45 296.84 525.49 297.62 525.53 298.41 525.56 299.19 525.59 299.98 525.63 300.77 525.66 301.55 525.69 302.34 525.72 303.13 525.75 303.91 525.78 304.7 525.81 305.49 525.84 306.27 525.86 307.06 525.89 307.84 525.92 308.63 525.94 309.42 525.97 310.2 525.99 310.99 526.02 311.77 526.04 312.56 526.07 313.35 526.09 314.13 526.12 314.92 526.14 315.7 526.16 316.49 526.19 317.27 526.21 318.06 526.23 318.84 526.26 319.62 526.28 320.41 526.31 321.19 526.33 321.97 526.35 322.76 526.38 323.54 526.4 324.32 526.43 325.11 526.45 325.89 526.48 326.67 526.51 327.45 526.53 328.23 526.56 329.01 526.59 329.79 526.62 330.58 526.65 331.36 526.68 332.13 526.71 332.91 526.74 333.69 526.77 334.47 526.81 335.25 526.84 336.03 526.87 336.8 526.91 337.58 526.95 338.36 526.99 339.13 527.02 339.91 527.06 340.49 527.1" fill="none" stroke="#80ff00" stroke-width="1.7" stroke-linejoin="round"/>
<path d="M37.1 481.33L39.7 486.33L34.5 486.33Z" fill="#80ff00"/>
<path d="M67.4 294.4L70 299.4L64.8 299.4Z" fill="#80ff00"/>
<path d="M97.2 338.89L99.8 343.89L94.6 343.89Z" fill="#80ff00"/>
<path d="M128 410.25L130.6 415.25L125.4 415.25Z" fill="#80ff00"/>
<path d="M158.3 460.99L160.9 465.99L155.7 465.99Z" fill="#80ff00"/>
<path d="M188.6 491.85L191.2 496.85L186 496.85Z" fill="#80ff00"/>
<path d="M218.9 507.59L221.5 512.59L216.3 512.59Z" fill="#80ff00"/>
<path d="M249.2 517.02L251.8 522.02L246.6 522.02Z" fill="#80ff00"/>
<path d="M279.5 521.48L282.1 526.48L276.9 526.48Z" fill="#80ff00"/>
<path d="M309.8 523.08L312.4 528.08L307.2 528.08Z" fill="#80ff00"/>
<path d="M340.1 524.17L342.7 529.17L337.5 529.17Z" fill="#80ff00"/>
</g>
<path d="M37.5 505.5h4M340.5 505.5h-4M37.5 484.5h4M340.5 484.5h-4M37.5 462.5h4M340.5 462.5h-4M37.5 440.5h4M340.5 440.5h-4M37.5 419.5h4M340.5 419.5h-4M37.5 397.5h4M340.5 397.5h-4M37.5 376.5h4M340.5 376.5h-4M37.5 354.5h4M340.5 354.5h-4M37.5 332.5h4M340.5 332.5h-4M37.5 311.5h4M340.5 311.5h-4M188.5 527.5v-4M188.5 289.5v4" stroke="#3a3a3a" stroke-width="1"/>
<clipPath id="cBR"><rect x="376.0" y="290.9" width="304.0" height="238.10000000000002"/></clipPath>
<rect x="376" y="290" width="304" height="2" fill="#a0a0a0"/>
<rect x="376" y="528" width="304" height="2" fill="#a0a0a0"/>
<rect x="376" y="290" width="1" height="240" fill="#484848"/>
<rect x="679" y="290" width="1" height="240" fill="#484848"/>
<g clip-path="url(#cBR)">
<path d="M376.5 494.63 376.63 493.92 376.79 493.22 376.95 492.53 377.14 491.85 377.34 491.18 377.59 490.41 377.86 489.65 378.16 488.91 378.47 488.18 378.8 487.47 379.15 486.76 379.52 486.08 379.91 485.41 380.32 484.75 380.74 484.11 381.18 483.49 381.64 482.88 382.11 482.28 382.59 481.71 383.09 481.14 383.61 480.6 384.14 480.07 384.68 479.56 385.23 479.07 385.8 478.59 386.38 478.13 386.97 477.69 387.57 477.27 388.18 476.87 388.8 476.48 389.43 476.12 390.07 475.77 390.72 475.44 391.37 475.12 392.04 474.83 392.71 474.55 393.39 474.29 394.07 474.05 394.77 473.83 395.46 473.62 396.17 473.44 396.87 473.26 397.59 473.11 398.3 472.98 399.02 472.86 399.75 472.75 400.47 472.67 401.2 472.6 401.94 472.55 402.67 472.51 403.4 472.5 404.14 472.5 404.88 472.51 405.61 472.54 406.35 472.59 407.08 472.65 407.82 472.73 408.55 472.82 409.29 472.93 410.02 473.05 410.75 473.19 411.48 473.34 412.21 473.5 412.94 473.67 413.67 473.85 414.4 474.04 415.13 474.25 415.85 474.46 416.58 474.68 417.3 474.91 418.02 475.15 418.75 475.4 419.47 475.65 420.19 475.91 420.9 476.17 421.62 476.44 422.33 476.72 423.05 477 423.76 477.28 424.47 477.57 425.18 477.86 425.89 478.15 426.59 478.44 427.3 478.74 428 479.04 428.7 479.34 429.41 479.65 430.1 479.95 430.8 480.26 431.5 480.57 432.2 480.89 432.89 481.2 433.58 481.52 434.28 481.84 434.97 482.16 435.66 482.48 436.35 482.81 437.04 483.13 437.73 483.46 438.41 483.79 439.1 484.12 439.79 484.45 440.47 484.78 441.15 485.11 441.84 485.45 442.52 485.78 443.2 486.12 443.89 486.45 444.57 486.79 445.25 487.12 445.93 487.46 446.61 487.8 447.29 488.14 447.97 488.48 448.65 488.81 449.33 489.15 450 489.49 450.68 489.83 451.36 490.17 452.04 490.5 452.72 490.84 453.4 491.18 454.07 491.51 454.75 491.85 455.43 492.18 456.11 492.52 456.79 492.85 457.47 493.18 458.15 493.51 458.83 493.84 459.51 494.17 460.19 494.5 460.87 494.82 461.55 495.15 462.23 495.47 462.91 495.79 463.59 496.11 464.27 496.43 464.96 496.74 465.64 497.06 466.33 497.37 467.01 497.68 467.7 497.98 468.38 498.29 469.07 498.59 469.76 498.89 470.45 499.19 471.14 499.49 471.83 499.78 472.52 500.07 473.21 500.36 473.91 500.65 474.6 500.94 475.29 501.22 475.99 501.5 476.68 501.78 477.38 502.05 478.08 502.33 478.78 502.6 479.47 502.87 480.17 503.14 480.87 503.41 481.57 503.67 482.27 503.93 482.98 504.19 483.68 504.45 484.38 504.7 485.09 504.96 485.79 505.21 486.5 505.46 487.2 505.71 487.91 505.95 488.62 506.19 489.32 506.44 490.03 506.68 490.74 506.91 491.45 507.15 492.16 507.38 492.87 507.61 493.58 507.84 494.3 508.07 495.01 508.3 495.72 508.52 496.44 508.74 497.15 508.96 497.87 509.18 498.58 509.4 499.3 509.61 500.01 509.82 500.73 510.04 501.45 510.24 502.17 510.45 502.89 510.66 503.61 510.86 504.33 511.06 505.05 511.26 505.77 511.46 506.49 511.66 507.21 511.85 507.94 512.04 508.66 512.24 509.38 512.42 510.11 512.61 510.83 512.8 511.56 512.98 512.29 513.16 513.01 513.35 513.74 513.52 514.47 513.7 515.2 513.88 515.92 514.05 516.65 514.22 517.38 514.4 518.11 514.56 518.84 514.73 519.57 514.9 520.31 515.06 521.04 515.23 521.77 515.39 522.5 515.55 523.24 515.7 523.97 515.86 524.7 516.02 525.44 516.17 526.17 516.32 526.91 516.47 527.64 516.62 528.38 516.77 529.12 516.91 529.85 517.06 530.59 517.2 531.33 517.34 532.07 517.48 532.81 517.62 533.55 517.76 534.29 517.9 535.02 518.03 535.77 518.16 536.51 518.29 537.25 518.42 537.99 518.55 538.73 518.68 539.47 518.81 540.21 518.93 540.96 519.05 541.7 519.18 542.44 519.3 543.19 519.42 543.93 519.53 544.68 519.65 545.42 519.77 546.17 519.88 546.91 519.99 547.66 520.11 548.4 520.22 549.15 520.32 549.9 520.43 550.64 520.54 551.39 520.64 552.14 520.75 552.88 520.85 553.63 520.95 554.38 521.05 555.13 521.15 555.88 521.25 556.63 521.35 557.38 521.45 558.13 521.54 558.88 521.63 559.63 521.73 560.38 521.82 561.13 521.91 561.88 522 562.63 522.09 563.38 522.17 564.13 522.26 564.88 522.34 565.64 522.43 566.39 522.51 567.14 522.59 567.89 522.67 568.65 522.75 569.4 522.83 570.15 522.91 570.9 522.99 571.66 523.06 572.41 523.14 573.17 523.21 573.92 523.29 574.67 523.36 575.43 523.43 576.18 523.5 576.94 523.57 577.69 523.64 578.45 523.71 579.2 523.77 579.96 523.84 580.71 523.9 581.47 523.97 582.22 524.03 582.98 524.09 583.74 524.15 584.49 524.22 585.25 524.28 586 524.33 586.76 524.39 587.52 524.45 588.27 524.51 589.03 524.56 589.79 524.62 590.54 524.67 591.3 524.73 592.06 524.78 592.81 524.83 593.57 524.88 594.33 524.94 595.08 524.99 595.84 525.04 596.6 525.08 597.36 525.13 598.11 525.18 598.87 525.23 599.63 525.27 600.38 525.32 601.14 525.36 601.9 525.41 602.66 525.45 603.41 525.5 604.17 525.54 604.93 525.58 605.69 525.62 606.44 525.66 607.2 525.7 607.96 525.74 608.72 525.78 609.47 525.82 610.23 525.86 610.99 525.9 611.74 525.94 612.5 525.97 613.26 526.01 614.02 526.04 614.77 526.08 615.53 526.11 616.29 526.15 617.04 526.18 617.8 526.22 618.56 526.25 619.31 526.28 620.07 526.32 620.83 526.35 621.58 526.38 622.34 526.41 623.1 526.44 623.85 526.47 624.61 526.5 625.36 526.53 626.12 526.56 626.88 526.59 627.63 526.62 628.39 526.65 629.14 526.68 629.9 526.71 630.65 526.74 631.41 526.76 632.16 526.79 632.92 526.82 633.67 526.85 634.42 526.87 635.18 526.9 635.93 526.93 636.69 526.95 637.44 526.98 638.19 527 638.95 527.03 639.7 527.05 640.45 527.08 641.2 527.11 641.96 527.13 642.71 527.16 643.46 527.18 644.21 527.21 644.96 527.23 645.72 527.25 646.47 527.28 647.22 527.3 647.97 527.33 648.72 527.35 649.47 527.38 650.22 527.4 650.97 527.43 651.72 527.45 652.47 527.47 653.22 527.5 653.97 527.52 654.71 527.55 655.46 527.57 656.21 527.6 656.96 527.62 657.7 527.64 658.45 527.67 659.2 527.69 659.94 527.72 660.69 527.74 661.44 527.77 662.18 527.79 662.93 527.82 663.67 527.84 664.42 527.87 665.16 527.9 665.9 527.92 666.65 527.95 667.39 527.97 668.13 528 668.88 528.03 669.62 528.05 670.36 528.08 671.1 528.11 671.84 528.13 672.58 528.16 673.32 528.19 674.06 528.22 674.8 528.25 675.54 528.28 676.28 528.3 677.02 528.33 677.76 528.36 678.5 528.39 679.23 528.42 679.34 528.43" fill="none" stroke="#00007f" stroke-width="1.7" stroke-linejoin="round"/>
<path d="M376.1 491.73L378.7 496.73L373.5 496.73Z" fill="#00007f"/>
<path d="M406.4 469.69L409 474.69L403.8 474.69Z" fill="#00007f"/>
<path d="M436.2 479.84L438.8 484.84L433.6 484.84Z" fill="#00007f"/>
<path d="M467 494.77L469.6 499.77L464.4 499.77Z" fill="#00007f"/>
<path d="M497.3 506.11L499.9 511.11L494.7 511.11Z" fill="#00007f"/>
<path d="M527.6 513.71L530.2 518.71L525 518.71Z" fill="#00007f"/>
<path d="M557.9 518.61L560.5 523.61L555.3 523.61Z" fill="#00007f"/>
<path d="M588.2 521.6L590.8 526.6L585.6 526.6Z" fill="#00007f"/>
<path d="M618.5 523.35L621.1 528.35L615.9 528.35Z" fill="#00007f"/>
<path d="M648.8 524.46L651.4 529.46L646.2 529.46Z" fill="#00007f"/>
<path d="M679.1 525.52L681.7 530.52L676.5 530.52Z" fill="#00007f"/>
<path d="M376.5 494.63 376.57 493.93 376.64 493.23 376.73 492.4 376.82 491.57 376.92 490.75 377.02 489.92 377.12 489.11 377.23 488.29 377.34 487.48 377.45 486.68 377.57 485.88 377.69 485.08 377.82 484.28 377.95 483.49 378.08 482.7 378.21 481.91 378.35 481.12 378.49 480.34 378.63 479.56 378.78 478.78 378.93 478.01 379.08 477.23 379.24 476.46 379.39 475.69 379.55 474.92 379.72 474.16 379.88 473.39 380.05 472.63 380.22 471.87 380.39 471.11 380.56 470.35 380.74 469.59 380.92 468.83 381.1 468.07 381.28 467.32 381.47 466.56 381.65 465.81 381.84 465.05 382.03 464.3 382.22 463.54 382.41 462.79 382.6 462.03 382.8 461.28 383 460.52 383.19 459.76 383.39 459.01 383.59 458.25 383.79 457.49 384 456.73 384.2 455.97 384.4 455.21 384.61 454.45 384.81 453.68 385.02 452.92 385.23 452.15 385.43 451.38 385.64 450.61 385.85 449.84 386.06 449.06 386.27 448.28 386.47 447.5 386.68 446.72 386.89 445.94 387.1 445.15 387.31 444.36 387.52 443.57 387.73 442.77 387.94 441.97 388.15 441.17 388.35 440.37 388.57 439.56 388.78 438.76 388.99 437.95 389.21 437.14 389.44 436.34 389.67 435.54 389.9 434.74 390.15 433.95 390.4 433.16 390.65 432.37 390.92 431.59 391.2 430.82 391.49 430.06 391.78 429.3 392.1 428.55 392.42 427.82 392.76 427.09 393.11 426.37 393.48 425.67 393.86 424.98 394.26 424.3 394.68 423.64 395.12 422.99 395.57 422.36 396.05 421.75 396.54 421.15 397.06 420.57 397.6 420.01 398.16 419.47 398.75 418.95 399.35 418.45 399.98 417.97 400.63 417.52 401.3 417.1 401.98 416.71 402.68 416.35 403.4 416.02 404.12 415.72 404.86 415.46 405.61 415.24 406.36 415.06 407.12 414.93 407.89 414.83 408.66 414.78 409.43 414.77 410.2 414.81 410.97 414.88 411.73 414.99 412.48 415.13 413.22 415.3 413.95 415.51 414.66 415.74 415.36 416 416.05 416.29 416.73 416.61 417.39 416.95 418.05 417.31 418.7 417.7 419.33 418.11 419.96 418.54 420.58 418.99 421.19 419.46 421.79 419.94 422.38 420.44 422.97 420.96 423.55 421.49 424.13 422.03 424.7 422.59 425.27 423.16 425.83 423.73 426.38 424.32 426.94 424.91 427.49 425.51 428.03 426.11 428.58 426.72 429.12 427.34 429.67 427.95 430.21 428.57 430.75 429.18 431.29 429.8 431.83 430.42 432.37 431.03 432.91 431.65 433.45 432.27 433.99 432.88 434.53 433.5 435.07 434.11 435.61 434.73 436.15 435.34 436.69 435.96 437.23 436.57 437.77 437.19 438.31 437.8 438.85 438.42 439.39 439.03 439.93 439.64 440.47 440.26 441.01 440.87 441.55 441.48 442.09 442.09 442.63 442.7 443.17 443.31 443.71 443.92 444.25 444.53 444.79 445.14 445.33 445.74 445.87 446.35 446.42 446.96 446.96 447.56 447.5 448.16 448.05 448.77 448.59 449.37 449.13 449.97 449.68 450.57 450.22 451.17 450.77 451.77 451.32 452.37 451.86 452.96 452.41 453.56 452.96 454.15 453.51 454.75 454.06 455.34 454.61 455.93 455.16 456.52 455.71 457.11 456.26 457.69 456.82 458.28 457.37 458.86 457.93 459.45 458.48 460.03 459.04 460.61 459.6 461.19 460.16 461.77 460.72 462.34 461.28 462.92 461.84 463.49 462.4 464.06 462.96 464.63 463.53 465.2 464.09 465.76 464.66 466.33 465.23 466.89 465.8 467.45 466.37 468.01 466.94 468.57 467.51 469.13 468.08 469.68 468.66 470.23 469.23 470.78 469.81 471.33 470.39 471.87 470.97 472.42 471.55 472.96 472.13 473.5 472.72 474.04 473.3 474.57 473.89 475.11 474.48 475.64 475.07 476.17 475.66 476.69 476.25 477.22 476.85 477.74 477.44 478.26 478.04 478.78 478.64 479.29 479.24 479.81 479.85 480.32 480.45 480.83 481.06 481.33 481.66 481.83 482.27 482.33 482.88 482.83 483.5 483.33 484.11 483.82 484.73 484.31 485.35 484.8 485.97 485.28 486.59 485.76 487.22 486.24 487.84 486.72 488.47 487.19 489.1 487.66 489.73 488.13 490.37 488.6 491.01 489.06 491.64 489.52 492.29 489.97 492.93 490.42 493.57 490.87 494.22 491.32 494.87 491.76 495.52 492.2 496.18 492.64 496.83 493.08 497.49 493.51 498.15 493.93 498.82 494.36 499.48 494.78 500.15 495.2 500.82 495.61 501.49 496.02 502.17 496.43 502.85 496.83 503.53 497.23 504.21 497.63 504.89 498.02 505.58 498.41 506.27 498.8 506.97 499.18 507.66 499.56 508.36 499.94 509.06 500.31 509.76 500.68 510.46 501.05 511.17 501.41 511.88 501.77 512.59 502.12 513.3 502.48 514.02 502.83 514.73 503.17 515.45 503.51 516.17 503.85 516.9 504.19 517.62 504.52 518.35 504.85 519.08 505.18 519.81 505.5 520.54 505.82 521.27 506.14 522.01 506.45 522.75 506.76 523.49 507.07 524.23 507.38 524.97 507.68 525.71 507.98 526.46 508.27 527.21 508.57 527.96 508.85 528.71 509.14 529.46 509.43 530.21 509.71 530.96 509.98 531.72 510.26 532.48 510.53 533.24 510.8 533.99 511.07 534.76 511.33 535.52 511.59 536.28 511.85 537.04 512.1 537.81 512.35 538.57 512.6 539.34 512.85 540.11 513.09 540.88 513.33 541.65 513.57 542.42 513.81 543.19 514.04 543.96 514.27 544.74 514.5 545.51 514.72 546.29 514.94 547.06 515.16 547.84 515.38 548.61 515.6 549.39 515.81 550.17 516.02 550.95 516.22 551.73 516.43 552.51 516.63 553.29 516.83 554.07 517.03 554.85 517.22 555.63 517.41 556.41 517.6 557.19 517.79 557.97 517.97 558.76 518.16 559.54 518.34 560.32 518.51 561.1 518.69 561.89 518.86 562.67 519.03 563.45 519.2 564.24 519.37 565.02 519.53 565.8 519.69 566.59 519.85 567.37 520.01 568.16 520.17 568.94 520.32 569.73 520.47 570.51 520.62 571.3 520.77 572.08 520.91 572.87 521.05 573.65 521.19 574.44 521.33 575.23 521.47 576.01 521.6 576.8 521.74 577.59 521.87 578.37 522 579.16 522.12 579.95 522.25 580.73 522.37 581.52 522.49 582.31 522.61 583.1 522.73 583.89 522.84 584.67 522.96 585.46 523.07 586.25 523.18 587.04 523.29 587.83 523.39 588.62 523.5 589.41 523.6 590.2 523.7 590.99 523.8 591.78 523.9 592.57 523.99 593.36 524.09 594.15 524.18 594.94 524.27 595.73 524.36 596.52 524.45 597.31 524.54 598.1 524.62 598.89 524.71 599.68 524.79 600.47 524.87 601.27 524.95 602.06 525.03 602.85 525.1 603.64 525.18 604.43 525.25 605.23 525.32 606.02 525.39 606.81 525.46 607.6 525.53 608.4 525.6 609.19 525.66 609.98 525.72 610.78 525.79 611.57 525.85 612.36 525.91 613.16 525.97 613.95 526.03 614.75 526.08 615.54 526.14 616.33 526.19 617.13 526.25 617.92 526.3 618.72 526.35 619.51 526.4 620.31 526.45 621.1 526.49 621.9 526.54 622.69 526.59 623.49 526.63 624.28 526.67 625.08 526.72 625.87 526.76 626.67 526.8 627.47 526.84 628.26 526.88 629.06 526.92 629.85 526.95 630.65 526.99 631.45 527.03 632.24 527.06 633.04 527.09 633.84 527.13 634.63 527.16 635.43 527.19 636.23 527.22 637.03 527.25 637.82 527.28 638.62 527.31 639.42 527.34 640.21 527.36 641.01 527.39 641.81 527.42 642.61 527.44 643.41 527.47 644.2 527.49 645 527.52 645.8 527.54 646.6 527.56 647.4 527.58 648.2 527.61 648.99 527.63 649.79 527.65 650.59 527.67 651.39 527.69 652.19 527.71 652.99 527.73 653.79 527.74 654.59 527.76 655.39 527.78 656.18 527.8 656.98 527.82 657.78 527.83 658.58 527.85 659.38 527.87 660.18 527.88 660.98 527.9 661.78 527.92 662.58 527.93 663.38 527.95 664.18 527.96 664.98 527.98 665.78 527.99 666.58 528.01 667.38 528.02 668.18 528.04 668.98 528.05 669.78 528.07 670.58 528.08 671.38 528.1 672.18 528.11 672.98 528.12 673.78 528.14 674.59 528.15 675.39 528.17 676.19 528.18 676.99 528.2 677.79 528.21 678.59 528.23 679.39 528.25 679.52 528.25" fill="none" stroke="#ff0000" stroke-width="1.7" stroke-linejoin="round"/>
<path d="M376.1 491.43L379.3 494.63L376.1 497.83L372.9 494.63Z" fill="#ff0000"/>
<path d="M394.28 421.08L397.48 424.28L394.28 427.48L391.08 424.28Z" fill="#ff0000"/>
<path d="M412.46 411.92L415.66 415.12L412.46 418.32L409.26 415.12Z" fill="#ff0000"/>
<path d="M430.64 425.86L433.84 429.06L430.64 432.26L427.44 429.06Z" fill="#ff0000"/>
<path d="M448.82 446.42L452.02 449.62L448.82 452.82L445.62 449.62Z" fill="#ff0000"/>
<path d="M467 465.43L470.2 468.63L467 471.83L463.8 468.63Z" fill="#ff0000"/>
<path d="M485.18 481.46L488.38 484.66L485.18 487.86L481.98 484.66Z" fill="#ff0000"/>
<path d="M503.36 493.94L506.56 497.14L503.36 500.34L500.16 497.14Z" fill="#ff0000"/>
<path d="M521.54 503.05L524.74 506.25L521.54 509.45L518.34 506.25Z" fill="#ff0000"/>
<path d="M539.72 509.77L542.92 512.97L539.72 516.17L536.52 512.97Z" fill="#ff0000"/>
<path d="M557.9 514.76L561.1 517.96L557.9 521.16L554.7 517.96Z" fill="#ff0000"/>
<path d="M576.08 518.42L579.28 521.62L576.08 524.82L572.88 521.62Z" fill="#ff0000"/>
<path d="M594.26 520.99L597.46 524.19L594.26 527.39L591.06 524.19Z" fill="#ff0000"/>
<path d="M612.44 522.71L615.64 525.91L612.44 529.11L609.24 525.91Z" fill="#ff0000"/>
<path d="M630.62 523.79L633.82 526.99L630.62 530.19L627.42 526.99Z" fill="#ff0000"/>
<path d="M648.8 524.42L652 527.62L648.8 530.82L645.6 527.62Z" fill="#ff0000"/>
<path d="M666.98 524.81L670.18 528.01L666.98 531.21L663.78 528.01Z" fill="#ff0000"/>
<path d="M376.5 494.63 376.5 493.81 376.5 492.99 376.5 492.17 376.5 491.35 376.5 490.53 376.5 489.71 376.5 488.9 376.5 488.08 376.5 487.27 376.5 486.45 376.5 485.64 376.5 484.82 376.5 484.01 376.5 483.2 376.5 482.39 376.52 481.57 376.54 480.76 376.57 479.95 376.61 479.14 376.64 478.34 376.68 477.53 376.72 476.72 376.76 475.91 376.81 475.11 376.86 474.3 376.91 473.49 376.97 472.69 377.02 471.88 377.08 471.08 377.14 470.28 377.21 469.47 377.28 468.67 377.35 467.87 377.42 467.07 377.49 466.26 377.57 465.46 377.65 464.66 377.73 463.86 377.81 463.06 377.9 462.26 377.98 461.47 378.07 460.67 378.16 459.87 378.26 459.07 378.35 458.27 378.45 457.48 378.55 456.68 378.65 455.88 378.76 455.09 378.86 454.29 378.97 453.5 379.08 452.7 379.19 451.91 379.3 451.11 379.42 450.32 379.54 449.52 379.65 448.73 379.77 447.94 379.89 447.14 380.02 446.35 380.14 445.56 380.27 444.77 380.39 443.97 380.52 443.18 380.65 442.39 380.79 441.6 380.92 440.81 381.05 440.01 381.19 439.22 381.33 438.43 381.46 437.64 381.6 436.85 381.74 436.06 381.88 435.27 382.03 434.48 382.17 433.69 382.32 432.9 382.46 432.11 382.61 431.32 382.76 430.53 382.91 429.74 383.06 428.95 383.21 428.16 383.36 427.37 383.51 426.59 383.66 425.8 383.82 425.01 383.97 424.22 384.13 423.43 384.28 422.64 384.44 421.85 384.6 421.06 384.75 420.27 384.91 419.48 385.07 418.69 385.23 417.91 385.39 417.12 385.55 416.33 385.71 415.54 385.87 414.75 386.03 413.96 386.19 413.17 386.35 412.38 386.51 411.59 386.68 410.8 386.84 410.01 387 409.22 387.16 408.43 387.33 407.64 387.49 406.85 387.65 406.06 387.81 405.27 387.97 404.48 388.14 403.69 388.3 402.89 388.46 402.1 388.62 401.31 388.78 400.52 388.95 399.73 389.11 398.93 389.27 398.14 389.43 397.35 389.59 396.56 389.75 395.76 389.91 394.97 390.06 394.18 390.22 393.38 390.38 392.59 390.54 391.79 390.7 391 390.86 390.21 391.03 389.42 391.2 388.62 391.37 387.83 391.54 387.04 391.72 386.26 391.91 385.47 392.1 384.69 392.3 383.91 392.5 383.13 392.72 382.35 392.94 381.58 393.17 380.8 393.4 380.04 393.65 379.27 393.91 378.51 394.18 377.75 394.47 377 394.76 376.25 395.07 375.5 395.39 374.76 395.73 374.03 396.07 373.29 396.44 372.57 396.82 371.85 397.22 371.13 397.63 370.42 398.06 369.72 398.51 369.02 398.98 368.33 399.47 367.66 399.97 367.01 400.49 366.39 401.04 365.79 401.6 365.23 402.18 364.7 402.78 364.21 403.41 363.78 404.05 363.39 404.71 363.06 405.4 362.78 406.11 362.57 406.83 362.43 407.58 362.36 408.34 362.35 409.1 362.41 409.86 362.52 410.61 362.69 411.35 362.9 412.07 363.17 412.77 363.47 413.46 363.83 414.13 364.22 414.78 364.65 415.42 365.12 416.04 365.61 416.65 366.15 417.25 366.7 417.83 367.29 418.41 367.9 418.97 368.53 419.52 369.18 420.06 369.84 420.59 370.52 421.11 371.21 421.63 371.91 422.13 372.62 422.63 373.34 423.13 374.05 423.61 374.77 424.1 375.48 424.58 376.19 425.05 376.9 425.52 377.6 425.99 378.29 426.45 378.99 426.9 379.68 427.36 380.37 427.81 381.05 428.26 381.74 428.7 382.42 429.14 383.09 429.58 383.77 430.01 384.44 430.44 385.11 430.87 385.78 431.29 386.45 431.72 387.11 432.14 387.78 432.56 388.44 432.97 389.1 433.39 389.76 433.8 390.42 434.21 391.08 434.62 391.74 435.03 392.4 435.44 393.06 435.84 393.72 436.25 394.38 436.65 395.04 437.05 395.7 437.45 396.36 437.85 397.02 438.25 397.68 438.66 398.35 439.06 399.01 439.46 399.68 439.86 400.35 440.26 401.02 440.66 401.69 441.06 402.36 441.46 403.04 441.86 403.71 442.26 404.39 442.66 405.07 443.06 405.75 443.47 406.43 443.87 407.11 444.27 407.8 444.68 408.48 445.08 409.17 445.48 409.85 445.89 410.54 446.29 411.23 446.7 411.92 447.11 412.61 447.51 413.3 447.92 414 448.33 414.69 448.74 415.38 449.14 416.08 449.55 416.77 449.96 417.47 450.38 418.16 450.79 418.86 451.2 419.56 451.61 420.26 452.03 420.95 452.44 421.65 452.86 422.35 453.28 423.05 453.69 423.75 454.11 424.45 454.53 425.15 454.95 425.84 455.37 426.54 455.8 427.24 456.22 427.94 456.65 428.64 457.07 429.34 457.5 430.04 457.93 430.74 458.36 431.43 458.79 432.13 459.22 432.83 459.65 433.52 460.08 434.22 460.52 434.92 460.96 435.61 461.4 436.3 461.83 437 462.28 437.69 462.72 438.38 463.16 439.07 463.61 439.77 464.05 440.45 464.5 441.14 464.95 441.83 465.4 442.52 465.85 443.2 466.31 443.89 466.77 444.57 467.22 445.25 467.68 445.93 468.14 446.61 468.61 447.29 469.07 447.97 469.54 448.64 470 449.32 470.47 449.99 470.95 450.66 471.42 451.33 471.89 452 472.37 452.66 472.85 453.33 473.33 453.99 473.82 454.65 474.3 455.31 474.79 455.97 475.28 456.62 475.77 457.27 476.26 457.92 476.76 458.57 477.25 459.22 477.75 459.86 478.26 460.51 478.76 461.14 479.27 461.78 479.78 462.42 480.29 463.05 480.8 463.68 481.31 464.31 481.83 464.93 482.35 465.56 482.88 466.18 483.4 466.79 483.93 467.41 484.46 468.02 484.99 468.63 485.53 469.23 486.06 469.84 486.6 470.44 487.15 471.04 487.69 471.63 488.24 472.22 488.79 472.81 489.34 473.39 489.9 473.98 490.46 474.55 491.02 475.13 491.59 475.7 492.15 476.27 492.72 476.83 493.3 477.4 493.87 477.95 494.45 478.51 495.03 479.06 495.62 479.61 496.2 480.15 496.79 480.69 497.39 481.23 497.98 481.76 498.58 482.29 499.19 482.81 499.79 483.33 500.4 483.85 501.01 484.36 501.63 484.87 502.24 485.38 502.86 485.88 503.49 486.38 504.11 486.87 504.74 487.36 505.37 487.85 506.01 488.33 506.65 488.81 507.28 489.29 507.93 489.76 508.57 490.23 509.22 490.69 509.87 491.15 510.52 491.61 511.18 492.06 511.84 492.51 512.5 492.96 513.16 493.4 513.83 493.84 514.49 494.28 515.16 494.71 515.84 495.14 516.51 495.57 517.19 495.99 517.87 496.41 518.55 496.82 519.24 497.23 519.92 497.64 520.61 498.04 521.3 498.45 522 498.84 522.69 499.24 523.39 499.63 524.09 500.01 524.79 500.4 525.5 500.78 526.2 501.16 526.91 501.53 527.62 501.9 528.34 502.27 529.05 502.63 529.77 502.99 530.48 503.35 531.2 503.7 531.93 504.05 532.65 504.4 533.38 504.75 534.1 505.09 534.83 505.42 535.56 505.76 536.3 506.09 537.03 506.42 537.77 506.74 538.5 507.06 539.24 507.38 539.99 507.7 540.73 508.01 541.47 508.32 542.22 508.62 542.97 508.93 543.71 509.23 544.46 509.52 545.22 509.82 545.97 510.11 546.72 510.39 547.48 510.68 548.24 510.96 549 511.24 549.76 511.51 550.52 511.79 551.28 512.06 552.04 512.32 552.81 512.58 553.58 512.85 554.34 513.1 555.11 513.36 555.88 513.61 556.65 513.86 557.43 514.1 558.2 514.35 558.97 514.59 559.75 514.82 560.52 515.06 561.3 515.29 562.08 515.52 562.86 515.74 563.64 515.97 564.42 516.19 565.2 516.4 565.98 516.62 566.77 516.83 567.55 517.04 568.34 517.24 569.12 517.45 569.91 517.65 570.7 517.85 571.48 518.04 572.27 518.23 573.06 518.42 573.85 518.61 574.64 518.8 575.43 518.98 576.22 519.16 577.01 519.34 577.81 519.51 578.6 519.68 579.39 519.85 580.19 520.02 580.98 520.18 581.78 520.34 582.57 520.5 583.37 520.66 584.16 520.81 584.96 520.96 585.75 521.11 586.55 521.26 587.34 521.4 588.14 521.54 588.94 521.68 589.73 521.82 590.53 521.95 591.33 522.08 592.13 522.21 592.92 522.34 593.72 522.46 594.52 522.59 595.32 522.71 596.12 522.82 596.91 522.94 597.71 523.05 598.51 523.16 599.31 523.27 600.11 523.38 600.91 523.49 601.71 523.59 602.5 523.69 603.3 523.79 604.1 523.89 604.9 523.98 605.7 524.07 606.5 524.17 607.3 524.25 608.1 524.34 608.9 524.43 609.7 524.51 610.5 524.6 611.3 524.68 612.1 524.75 612.91 524.83 613.71 524.91 614.51 524.98 615.31 525.05 616.11 525.13 616.91 525.2 617.71 525.26 618.51 525.33 619.32 525.4 620.12 525.46 620.92 525.52 621.72 525.58 622.52 525.64 623.33 525.7 624.13 525.76 624.93 525.81 625.73 525.87 626.54 525.92 627.34 525.97 628.14 526.02 628.94 526.07 629.75 526.12 630.55 526.17 631.35 526.22 632.16 526.26 632.96 526.31 633.76 526.35 634.57 526.39 635.37 526.44 636.17 526.48 636.98 526.52 637.78 526.56 638.59 526.6 639.39 526.63 640.19 526.67 641 526.71 641.8 526.74 642.61 526.78 643.41 526.81 644.21 526.84 645.02 526.88 645.82 526.91 646.63 526.94 647.43 526.97 648.24 527.01 649.04 527.04 649.85 527.07 650.65 527.1 651.46 527.13 652.26 527.15 653.07 527.18 653.87 527.21 654.68 527.24 655.48 527.27 656.29 527.3 657.09 527.32 657.9 527.35 658.71 527.38 659.51 527.41 660.32 527.43 661.12 527.46 661.93 527.49 662.73 527.51 663.54 527.54 664.35 527.57 665.15 527.6 665.96 527.62 666.76 527.65 667.57 527.68 668.38 527.71 669.18 527.74 669.99 527.76 670.79 527.79 671.6 527.82 672.41 527.85 673.21 527.88 674.02 527.91 674.83 527.94 675.63 527.97 676.44 528 677.24 528.04 678.05 528.07 678.86 528.1 679.5 528.13" fill="none" stroke="#000000" stroke-width="1.7" stroke-linejoin="round"/>
<circle cx="376.1" cy="494.63" r="3.3" fill="#000000"/>
<circle cx="406.4" cy="362.51" r="3.3" fill="#000000"/>
<circle cx="436.2" cy="394.31" r="3.3" fill="#000000"/>
<circle cx="467" cy="444.92" r="3.3" fill="#000000"/>
<circle cx="497.3" cy="481.15" r="3.3" fill="#000000"/>
<circle cx="527.6" cy="501.89" r="3.3" fill="#000000"/>
<circle cx="557.9" cy="514.25" r="3.3" fill="#000000"/>
<circle cx="588.2" cy="521.55" r="3.3" fill="#000000"/>
<circle cx="618.5" cy="525.33" r="3.3" fill="#000000"/>
<circle cx="648.8" cy="527.03" r="3.3" fill="#000000"/>
<circle cx="679.1" cy="528.11" r="3.3" fill="#000000"/>
<path d="M376.5 494.63 376.55 493.84 376.61 493.05 376.66 492.26 376.71 491.47 376.77 490.68 376.82 489.89 376.87 489.1 376.93 488.31 376.98 487.51 377.03 486.72 377.08 485.93 377.13 485.14 377.19 484.34 377.24 483.55 377.29 482.76 377.34 481.97 377.39 481.17 377.44 480.38 377.49 479.58 377.54 478.79 377.59 478 377.64 477.2 377.69 476.41 377.74 475.61 377.79 474.82 377.84 474.02 377.89 473.22 377.94 472.43 377.99 471.63 378.04 470.84 378.09 470.04 378.14 469.24 378.19 468.45 378.24 467.65 378.29 466.85 378.34 466.06 378.39 465.26 378.44 464.46 378.49 463.66 378.54 462.86 378.59 462.07 378.64 461.27 378.69 460.47 378.74 459.67 378.79 458.87 378.84 458.07 378.89 457.28 378.94 456.48 378.99 455.68 379.04 454.88 379.09 454.08 379.14 453.28 379.19 452.48 379.24 451.68 379.29 450.88 379.35 450.08 379.4 449.28 379.45 448.48 379.5 447.68 379.55 446.88 379.6 446.08 379.65 445.28 379.71 444.48 379.76 443.68 379.81 442.88 379.86 442.08 379.92 441.28 379.97 440.48 380.02 439.68 380.08 438.88 380.13 438.07 380.19 437.27 380.24 436.47 380.3 435.67 380.35 434.87 380.41 434.07 380.46 433.27 380.52 432.47 380.57 431.67 380.63 430.87 380.69 430.07 380.74 429.26 380.8 428.46 380.86 427.66 380.92 426.86 380.97 426.06 381.03 425.26 381.09 424.46 381.15 423.66 381.21 422.86 381.27 422.06 381.33 421.25 381.39 420.45 381.45 419.65 381.52 418.85 381.58 418.05 381.64 417.25 381.7 416.45 381.77 415.65 381.83 414.85 381.9 414.05 381.96 413.25 382.03 412.45 382.09 411.65 382.16 410.85 382.23 410.05 382.29 409.25 382.36 408.45 382.43 407.65 382.5 406.85 382.57 406.05 382.64 405.25 382.71 404.45 382.78 403.65 382.85 402.85 382.92 402.05 383 401.25 383.07 400.46 383.14 399.66 383.22 398.86 383.29 398.06 383.37 397.26 383.44 396.46 383.52 395.66 383.6 394.87 383.68 394.07 383.76 393.27 383.83 392.47 383.91 391.68 384 390.88 384.08 390.08 384.16 389.29 384.24 388.49 384.32 387.69 384.41 386.9 384.49 386.1 384.58 385.31 384.67 384.51 384.75 383.71 384.84 382.92 384.93 382.12 385.02 381.33 385.11 380.53 385.2 379.74 385.29 378.95 385.38 378.15 385.47 377.36 385.57 376.57 385.66 375.77 385.76 374.98 385.85 374.19 385.95 373.39 386.05 372.6 386.15 371.81 386.25 371.02 386.35 370.23 386.45 369.43 386.55 368.64 386.65 367.85 386.76 367.06 386.86 366.27 386.97 365.48 387.07 364.69 387.18 363.9 387.29 363.11 387.4 362.33 387.51 361.54 387.62 360.75 387.73 359.96 387.85 359.17 387.96 358.39 388.07 357.6 388.19 356.81 388.31 356.03 388.42 355.24 388.54 354.45 388.66 353.67 388.78 352.88 388.9 352.1 389.03 351.31 389.15 350.53 389.28 349.75 389.4 348.96 389.53 348.18 389.66 347.4 389.78 346.62 389.91 345.83 390.05 345.05 390.18 344.27 390.31 343.49 390.45 342.71 390.58 341.93 390.72 341.15 390.86 340.37 390.99 339.59 391.13 338.81 391.27 338.03 391.42 337.26 391.56 336.48 391.7 335.7 391.85 334.93 392 334.15 392.14 333.37 392.29 332.6 392.44 331.82 392.6 331.04 392.75 330.27 392.9 329.49 393.06 328.71 393.22 327.93 393.37 327.14 393.53 326.36 393.69 325.57 393.85 324.78 394.02 323.99 394.18 323.2 394.35 322.41 394.52 321.61 394.69 320.81 394.86 320.01 395.03 319.2 395.2 318.39 395.38 317.57 395.55 316.76 395.73 315.94 395.92 315.12 396.11 314.3 396.3 313.48 396.51 312.67 396.72 311.86 396.95 311.05 397.18 310.25 397.43 309.46 397.7 308.68 397.98 307.9 398.27 307.14 398.59 306.39 398.92 305.65 399.28 304.93 399.65 304.22 400.05 303.53 400.47 302.86 400.92 302.21 401.39 301.57 401.89 300.96 402.43 300.38 402.99 299.81 403.58 299.27 404.19 298.77 404.83 298.3 405.48 297.87 406.14 297.49 406.82 297.15 407.5 296.87 408.18 296.65 408.87 296.49 409.71 296.38 410.54 296.4 411.34 296.53 412.12 296.79 412.86 297.16 413.59 297.64 414.14 298.1 414.69 298.6 415.22 299.16 415.74 299.75 416.24 300.38 416.73 301.05 417.21 301.74 417.68 302.44 418.15 303.16 418.6 303.89 419.04 304.62 419.48 305.34 419.91 306.07 420.33 306.8 420.75 307.53 421.16 308.26 421.56 308.99 421.96 309.72 422.35 310.44 422.73 311.17 423.11 311.9 423.48 312.63 423.85 313.36 424.21 314.09 424.57 314.82 424.92 315.55 425.27 316.28 425.61 317.01 425.95 317.73 426.28 318.46 426.61 319.19 426.94 319.92 427.27 320.65 427.59 321.38 427.91 322.11 428.22 322.85 428.53 323.58 428.84 324.31 429.15 325.04 429.46 325.77 429.76 326.5 430.06 327.23 430.37 327.96 430.67 328.7 430.97 329.43 431.26 330.16 431.56 330.89 431.86 331.63 432.16 332.36 432.45 333.09 432.75 333.83 433.05 334.56 433.35 335.29 433.64 336.03 433.94 336.76 434.24 337.5 434.54 338.23 434.84 338.97 435.13 339.7 435.43 340.44 435.73 341.17 436.03 341.91 436.33 342.64 436.63 343.38 436.93 344.12 437.23 344.85 437.53 345.59 437.83 346.33 438.13 347.06 438.43 347.8 438.73 348.54 439.03 349.27 439.33 350.01 439.63 350.75 439.93 351.49 440.23 352.22 440.54 352.96 440.84 353.7 441.14 354.44 441.44 355.18 441.75 355.91 442.05 356.65 442.35 357.39 442.66 358.13 442.96 358.87 443.27 359.6 443.57 360.34 443.88 361.08 444.18 361.82 444.49 362.56 444.79 363.3 445.1 364.03 445.4 364.77 445.71 365.51 446.02 366.25 446.33 366.99 446.63 367.73 446.94 368.47 447.25 369.2 447.56 369.94 447.87 370.68 448.18 371.42 448.49 372.16 448.8 372.9 449.11 373.63 449.42 374.37 449.73 375.11 450.04 375.85 450.36 376.59 450.67 377.32 450.98 378.06 451.3 378.8 451.61 379.54 451.92 380.27 452.24 381.01 452.55 381.75 452.87 382.48 453.19 383.22 453.5 383.96 453.82 384.69 454.14 385.43 454.46 386.17 454.77 386.9 455.09 387.64 455.41 388.37 455.73 389.11 456.05 389.85 456.37 390.58 456.7 391.32 457.02 392.05 457.34 392.78 457.66 393.52 457.99 394.25 458.31 394.99 458.64 395.72 458.96 396.45 459.29 397.19 459.61 397.92 459.94 398.65 460.27 399.39 460.6 400.12 460.92 400.85 461.25 401.58 461.58 402.31 461.91 403.04 462.24 403.78 462.58 404.51 462.91 405.24 463.24 405.97 463.57 406.7 463.91 407.42 464.24 408.15 464.58 408.88 464.91 409.61 465.25 410.34 465.59 411.07 465.92 411.79 466.26 412.52 466.6 413.25 466.94 413.97 467.28 414.7 467.62 415.43 467.96 416.15 468.31 416.88 468.65 417.6 468.99 418.32 469.34 419.05 469.68 419.77 470.03 420.49 470.37 421.22 470.72 421.94 471.07 422.66 471.42 423.38 471.77 424.1 472.12 424.82 472.47 425.54 472.82 426.26 473.17 426.98 473.53 427.7 473.88 428.41 474.24 429.13 474.59 429.85 474.95 430.56 475.3 431.28 475.66 431.99 476.02 432.71 476.38 433.42 476.74 434.14 477.11 434.85 477.47 435.56 477.84 436.27 478.2 436.98 478.57 437.69 478.94 438.4 479.31 439.1 479.69 439.81 480.06 440.51 480.44 441.22 480.82 441.92 481.2 442.62 481.58 443.32 481.96 444.02 482.35 444.72 482.74 445.41 483.13 446.11 483.52 446.8 483.92 447.49 484.31 448.18 484.71 448.87 485.12 449.56 485.52 450.24 485.93 450.93 486.34 451.61 486.76 452.29 487.17 452.97 487.59 453.65 488.01 454.32 488.44 454.99 488.87 455.67 489.3 456.33 489.73 457 490.17 457.67 490.61 458.33 491.06 458.99 491.51 459.65 491.96 460.3 492.41 460.96 492.87 461.61 493.33 462.26 493.8 462.91 494.27 463.55 494.74 464.19 495.22 464.83 495.7 465.47 496.19 466.11 496.68 466.74 497.18 467.37 497.67 467.99 498.18 468.62 498.68 469.24 499.19 469.86 499.71 470.47 500.23 471.09 500.75 471.7 501.28 472.31 501.81 472.91 502.34 473.51 502.88 474.11 503.42 474.71 503.97 475.3 504.52 475.89 505.07 476.48 505.63 477.06 506.19 477.64 506.75 478.22 507.32 478.8 507.89 479.37 508.46 479.94 509.04 480.5 509.62 481.06 510.2 481.62 510.79 482.18 511.38 482.73 511.98 483.28 512.57 483.83 513.17 484.37 513.77 484.91 514.38 485.45 514.99 485.98 515.6 486.51 516.21 487.04 516.83 487.56 517.45 488.08 518.08 488.6 518.7 489.11 519.33 489.62 519.96 490.12 520.59 490.62 521.23 491.12 521.87 491.62 522.51 492.11 523.15 492.6 523.8 493.08 524.45 493.56 525.1 494.04 525.75 494.51 526.41 494.98 527.07 495.44 527.73 495.9 528.39 496.36 529.05 496.81 529.72 497.26 530.39 497.71 531.06 498.15 531.73 498.59 532.41 499.02 533.08 499.46 533.76 499.88 534.44 500.31 535.13 500.72 535.81 501.14 536.5 501.55 537.19 501.96 537.88 502.36 538.57 502.77 539.26 503.16 539.96 503.56 540.66 503.95 541.36 504.33 542.06 504.71 542.76 505.09 543.47 505.47 544.18 505.84 544.89 506.2 545.6 506.57 546.31 506.93 547.02 507.28 547.74 507.64 548.46 507.99 549.18 508.33 549.9 508.67 550.62 509.01 551.34 509.34 552.07 509.68 552.8 510 553.52 510.33 554.25 510.65 554.99 510.96 555.72 511.27 556.45 511.58 557.19 511.89 557.93 512.19 558.67 512.49 559.41 512.78 560.15 513.08 560.89 513.36 561.64 513.65 562.38 513.93 563.13 514.21 563.88 514.48 564.63 514.75 565.38 515.02 566.13 515.28 566.88 515.54 567.64 515.79 568.39 516.05 569.15 516.29 569.91 516.54 570.67 516.78 571.43 517.02 572.19 517.26 572.95 517.49 573.72 517.71 574.48 517.94 575.25 518.16 576.01 518.38 576.78 518.59 577.55 518.8 578.32 519.01 579.09 519.22 579.86 519.42 580.64 519.61 581.41 519.81 582.18 520 582.96 520.18 583.73 520.37 584.51 520.55 585.29 520.72 586.07 520.9 586.85 521.07 587.63 521.24 588.41 521.4 589.19 521.56 589.97 521.72 590.76 521.87 591.54 522.02 592.32 522.17 593.11 522.31 593.9 522.45 594.68 522.59 595.47 522.72 596.26 522.86 597.04 522.99 597.83 523.11 598.62 523.23 599.41 523.35 600.2 523.47 601 523.59 601.79 523.7 602.58 523.81 603.37 523.92 604.17 524.02 604.96 524.12 605.75 524.22 606.55 524.32 607.34 524.41 608.14 524.5 608.94 524.59 609.73 524.68 610.53 524.77 611.33 524.85 612.12 524.93 612.92 525.01 613.72 525.09 614.52 525.16 615.32 525.23 616.12 525.3 616.92 525.37 617.72 525.44 618.52 525.5 619.32 525.57 620.12 525.63 620.92 525.69 621.72 525.74 622.52 525.8 623.33 525.86 624.13 525.91 624.93 525.96 625.73 526.01 626.53 526.06 627.34 526.11 628.14 526.15 628.94 526.2 629.75 526.24 630.55 526.28 631.35 526.32 632.16 526.36 632.96 526.4 633.76 526.44 634.57 526.48 635.37 526.51 636.17 526.55 636.98 526.58 637.78 526.61 638.59 526.64 639.39 526.67 640.19 526.71 641 526.73 641.8 526.76 642.6 526.79 643.41 526.82 644.21 526.85 645.01 526.87 645.82 526.9 646.62 526.93 647.42 526.95 648.22 526.98 649.03 527 649.83 527.03 650.63 527.05 651.43 527.07 652.23 527.1 653.04 527.12 653.84 527.15 654.64 527.17 655.44 527.19 656.24 527.22 657.04 527.24 657.84 527.27 658.64 527.29 659.44 527.32 660.24 527.34 661.04 527.37 661.83 527.39 662.63 527.42 663.43 527.44 664.23 527.47 665.02 527.5 665.82 527.52 666.61 527.55 667.41 527.58 668.2 527.61 669 527.64 669.79 527.67 670.59 527.7 671.38 527.74 672.17 527.77 672.96 527.81 673.75 527.84 674.55 527.88 675.34 527.92 676.13 527.95 676.91 527.99 677.7 528.03 678.49 528.08 679.28 528.12 679.47 528.13" fill="none" stroke="#80ff00" stroke-width="1.7" stroke-linejoin="round"/>
<path d="M376.1 491.73L378.7 496.73L373.5 496.73Z" fill="#80ff00"/>
<path d="M406.4 294.45L409 299.45L403.8 299.45Z" fill="#80ff00"/>
<path d="M436.2 339.43L438.8 344.43L433.6 344.43Z" fill="#80ff00"/>
<path d="M467 411.2L469.6 416.2L464.4 416.2Z" fill="#80ff00"/>
<path d="M497.3 464.63L499.9 469.63L494.7 469.63Z" fill="#80ff00"/>
<path d="M527.6 492.91L530.2 497.91L525 497.91Z" fill="#80ff00"/>
<path d="M557.9 509.28L560.5 514.28L555.3 514.28Z" fill="#80ff00"/>
<path d="M588.2 518.46L590.8 523.46L585.6 523.46Z" fill="#80ff00"/>
<path d="M618.5 522.6L621.1 527.6L615.9 527.6Z" fill="#80ff00"/>
<path d="M648.8 524.09L651.4 529.09L646.2 529.09Z" fill="#80ff00"/>
<path d="M679.1 525.21L681.7 530.21L676.5 530.21Z" fill="#80ff00"/>
</g>
<path d="M376.5 494.5h4M679.5 494.5h-4M376.5 460.5h4M679.5 460.5h-4M376.5 426.5h4M679.5 426.5h-4M376.5 393.5h4M679.5 393.5h-4M376.5 359.5h4M679.5 359.5h-4M376.5 325.5h4M679.5 325.5h-4M528.5 528.5v-4M528.5 291.4v4" stroke="#3a3a3a" stroke-width="1"/>
<text x="35.9" y="246.9" font-size="10" text-anchor="end" letter-spacing="-0.4">0</text>
<text x="35.9" y="199.5" font-size="10" text-anchor="end" letter-spacing="-0.4">0.5</text>
<text x="35.9" y="152.1" font-size="10" text-anchor="end" letter-spacing="-0.4">1</text>
<text x="35.9" y="104.7" font-size="10" text-anchor="end" letter-spacing="-0.4">1.5</text>
<text x="35.9" y="57.3" font-size="10" text-anchor="end" letter-spacing="-0.4">2</text>
<text x="35.9" y="9.9" font-size="10" text-anchor="end" letter-spacing="-0.4">2.5</text>
<text x="39.1" y="254.1" font-size="10" text-anchor="middle" letter-spacing="-0.4">0</text>
<text x="190.6" y="254.1" font-size="10" text-anchor="middle" letter-spacing="-0.4">0.5</text>
<text x="342.1" y="254.1" font-size="10" text-anchor="middle" letter-spacing="-0.4">1</text>
<text x="190.5" y="269.4" font-size="11" text-anchor="middle">y</text>
<text x="0" y="0" font-size="12.5" text-anchor="middle" transform="translate(21 127.6) rotate(-90)">u(y,t)</text>
<text class="gm" x="188.4" y="46.5" font-size="12.8" fill="#2a2a2a">Gm=1</text>
<rect x="273.5" y="11.5" width="60.0" height="62.0" fill="#fff" stroke="#3a3a3a" stroke-width="1"/>
<path d="M274.3 18.9H293.9" stroke="#00007f" stroke-width="1.5"/>
<path d="M276.7 17.1L279.1 21.8H274.3Z" fill="#00007f"/>
<path d="M283.55 17.1L285.95 21.8H281.15Z" fill="#00007f"/>
<path d="M290.4 17.1L292.8 21.8H288Z" fill="#00007f"/>
<text x="297.7" y="22.8" font-size="12.2" letter-spacing="0.15"><tspan fill="#222" font-size="13.2">α</tspan>=0.1</text>
<path d="M277.5 34.7H290" stroke="#ff0000" stroke-width="1.7"/>
<path d="M277.4 31.6L280.5 34.7L277.4 37.8L274.3 34.7Z" fill="#ff0000"/>
<path d="M290.2 31.6L293.3 34.7L290.2 37.8L287.1 34.7Z" fill="#ff0000"/>
<text x="297.7" y="38" font-size="12.2" letter-spacing="0.15"><tspan fill="#222" font-size="13.2">α</tspan>=0.2</text>
<path d="M277.5 49.9H290" stroke="#000000" stroke-width="1.7"/>
<circle cx="277.4" cy="49.9" r="3.0" fill="#000000"/>
<circle cx="289.7" cy="49.9" r="3.0" fill="#000000"/>
<text x="297.7" y="53.2" font-size="12.2" letter-spacing="0.15"><tspan fill="#222" font-size="13.2">α</tspan>=0.3</text>
<path d="M274.3 64.3H293.9" stroke="#80ff00" stroke-width="1.5"/>
<path d="M276.7 62.5L279.1 67.2H274.3Z" fill="#80ff00"/>
<path d="M283.55 62.5L285.95 67.2H281.15Z" fill="#80ff00"/>
<path d="M290.4 62.5L292.8 67.2H288Z" fill="#80ff00"/>
<text x="297.7" y="68.2" font-size="12.2" letter-spacing="0.15"><tspan fill="#222" font-size="13.2">α</tspan>=0.4</text>
<text x="368.9" y="246.9" font-size="10" text-anchor="end" letter-spacing="-0.4">0</text>
<text x="368.9" y="187.65" font-size="10" text-anchor="end" letter-spacing="-0.4">1</text>
<text x="368.9" y="128.4" font-size="10" text-anchor="end" letter-spacing="-0.4">2</text>
<text x="368.9" y="69.15" font-size="10" text-anchor="end" letter-spacing="-0.4">3</text>
<text x="368.9" y="9.9" font-size="10" text-anchor="end" letter-spacing="-0.4">4</text>
<text x="372.1" y="254" font-size="10" text-anchor="middle" letter-spacing="-0.4">0</text>
<text x="523.6" y="254" font-size="10" text-anchor="middle" letter-spacing="-0.4">0.5</text>
<text x="675.1" y="254" font-size="10" text-anchor="middle" letter-spacing="-0.4">1</text>
<text x="523.5" y="269.6" font-size="11" text-anchor="middle">y</text>
<text x="0" y="0" font-size="12.5" text-anchor="middle" transform="translate(353.6 123.9) rotate(-90)">u(y,t)</text>
<text class="gm" x="521.9" y="45.8" font-size="12.8" fill="#2a2a2a">Gm=1.5</text>
<rect x="606.5" y="11.5" width="60.0" height="62.0" fill="#fff" stroke="#3a3a3a" stroke-width="1"/>
<path d="M607.3 18.7H626.9" stroke="#00007f" stroke-width="1.5"/>
<path d="M609.7 16.9L612.1 21.6H607.3Z" fill="#00007f"/>
<path d="M616.55 16.9L618.95 21.6H614.15Z" fill="#00007f"/>
<path d="M623.4 16.9L625.8 21.6H621Z" fill="#00007f"/>
<text x="630.7" y="22.6" font-size="12.2" letter-spacing="0.15"><tspan fill="#222" font-size="13.2">α</tspan>=0.1</text>
<path d="M610.5 34.7H623" stroke="#ff0000" stroke-width="1.7"/>
<path d="M610.4 31.6L613.5 34.7L610.4 37.8L607.3 34.7Z" fill="#ff0000"/>
<path d="M623.2 31.6L626.3 34.7L623.2 37.8L620.1 34.7Z" fill="#ff0000"/>
<text x="630.7" y="38" font-size="12.2" letter-spacing="0.15"><tspan fill="#222" font-size="13.2">α</tspan>=0.2</text>
<path d="M610.5 49.9H623" stroke="#000000" stroke-width="1.7"/>
<circle cx="610.4" cy="49.9" r="3.0" fill="#000000"/>
<circle cx="622.7" cy="49.9" r="3.0" fill="#000000"/>
<text x="630.7" y="53.2" font-size="12.2" letter-spacing="0.15"><tspan fill="#222" font-size="13.2">α</tspan>=0.3</text>
<path d="M607.3 64.4H626.9" stroke="#80ff00" stroke-width="1.5"/>
<path d="M609.7 62.6L612.1 67.3H607.3Z" fill="#80ff00"/>
<path d="M616.55 62.6L618.95 67.3H614.15Z" fill="#80ff00"/>
<path d="M623.4 62.6L625.8 67.3H621Z" fill="#80ff00"/>
<text x="630.7" y="68.3" font-size="12.2" letter-spacing="0.15"><tspan fill="#222" font-size="13.2">α</tspan>=0.4</text>
<text x="35.9" y="531.9" font-size="10" text-anchor="end" letter-spacing="-0.4">0</text>
<text x="35.9" y="510.26" font-size="10" text-anchor="end" letter-spacing="-0.4">0.5</text>
<text x="35.9" y="488.63" font-size="10" text-anchor="end" letter-spacing="-0.4">1</text>
<text x="35.9" y="466.99" font-size="10" text-anchor="end" letter-spacing="-0.4">1.5</text>
<text x="35.9" y="445.35" font-size="10" text-anchor="end" letter-spacing="-0.4">2</text>
<text x="35.9" y="423.72" font-size="10" text-anchor="end" letter-spacing="-0.4">2.5</text>
<text x="35.9" y="402.08" font-size="10" text-anchor="end" letter-spacing="-0.4">3</text>
<text x="35.9" y="380.45" font-size="10" text-anchor="end" letter-spacing="-0.4">3.5</text>
<text x="35.9" y="358.81" font-size="10" text-anchor="end" letter-spacing="-0.4">4</text>
<text x="35.9" y="337.17" font-size="10" text-anchor="end" letter-spacing="-0.4">4.5</text>
<text x="35.9" y="315.54" font-size="10" text-anchor="end" letter-spacing="-0.4">5</text>
<text x="35.9" y="293.9" font-size="10" text-anchor="end" letter-spacing="-0.4">5.5</text>
<text x="39.1" y="538.6" font-size="10" text-anchor="middle" letter-spacing="-0.4">0</text>
<text x="190.6" y="538.6" font-size="10" text-anchor="middle" letter-spacing="-0.4">0.5</text>
<text x="342.1" y="538.6" font-size="10" text-anchor="middle" letter-spacing="-0.4">1</text>
<text x="190.5" y="553.8" font-size="11" text-anchor="middle">y</text>
<text x="0" y="0" font-size="12.5" text-anchor="middle" transform="translate(11 408.2) rotate(-90)">u(y,t)</text>
<text class="gm" x="187.6" y="329.3" font-size="12.8" fill="#2a2a2a">Gm=2</text>
<rect x="273.5" y="296.5" width="60.0" height="62.0" fill="#fff" stroke="#3a3a3a" stroke-width="1"/>
<path d="M274.3 303.7H293.9" stroke="#00007f" stroke-width="1.5"/>
<path d="M276.7 301.9L279.1 306.6H274.3Z" fill="#00007f"/>
<path d="M283.55 301.9L285.95 306.6H281.15Z" fill="#00007f"/>
<path d="M290.4 301.9L292.8 306.6H288Z" fill="#00007f"/>
<text x="297.7" y="307.6" font-size="12.2" letter-spacing="0.15"><tspan fill="#222" font-size="13.2">α</tspan>=0.1</text>
<path d="M277.5 319.2H290" stroke="#ff0000" stroke-width="1.7"/>
<path d="M277.4 316.1L280.5 319.2L277.4 322.3L274.3 319.2Z" fill="#ff0000"/>
<path d="M290.2 316.1L293.3 319.2L290.2 322.3L287.1 319.2Z" fill="#ff0000"/>
<text x="297.7" y="322.5" font-size="12.2" letter-spacing="0.15"><tspan fill="#222" font-size="13.2">α</tspan>=0.2</text>
<path d="M277.5 334.3H290" stroke="#000000" stroke-width="1.7"/>
<circle cx="277.4" cy="334.3" r="3.0" fill="#000000"/>
<circle cx="289.7" cy="334.3" r="3.0" fill="#000000"/>
<text x="297.7" y="337.6" font-size="12.2" letter-spacing="0.15"><tspan fill="#222" font-size="13.2">α</tspan>=0.3</text>
<path d="M274.3 349H293.9" stroke="#80ff00" stroke-width="1.5"/>
<path d="M276.7 347.2L279.1 351.9H274.3Z" fill="#80ff00"/>
<path d="M283.55 347.2L285.95 351.9H281.15Z" fill="#80ff00"/>
<path d="M290.4 347.2L292.8 351.9H288Z" fill="#80ff00"/>
<text x="297.7" y="352.9" font-size="12.2" letter-spacing="0.15"><tspan fill="#222" font-size="13.2">α</tspan>=0.4</text>
<text x="374.9" y="532.9" font-size="10" text-anchor="end" letter-spacing="-0.4">0</text>
<text x="374.9" y="499.03" font-size="10" text-anchor="end" letter-spacing="-0.4">1</text>
<text x="374.9" y="465.16" font-size="10" text-anchor="end" letter-spacing="-0.4">2</text>
<text x="374.9" y="431.29" font-size="10" text-anchor="end" letter-spacing="-0.4">3</text>
<text x="374.9" y="397.41" font-size="10" text-anchor="end" letter-spacing="-0.4">4</text>
<text x="374.9" y="363.54" font-size="10" text-anchor="end" letter-spacing="-0.4">5</text>
<text x="374.9" y="329.67" font-size="10" text-anchor="end" letter-spacing="-0.4">6</text>
<text x="374.9" y="295.8" font-size="10" text-anchor="end" letter-spacing="-0.4">7</text>
<text x="378.1" y="539.9" font-size="10" text-anchor="middle" letter-spacing="-0.4">0</text>
<text x="529.6" y="539.9" font-size="10" text-anchor="middle" letter-spacing="-0.4">0.5</text>
<text x="681.1" y="539.9" font-size="10" text-anchor="middle" letter-spacing="-0.4">1</text>
<text x="529.5" y="555.6" font-size="11" text-anchor="middle">y</text>
<text x="0" y="0" font-size="12.5" text-anchor="middle" transform="translate(357.7 409.8) rotate(-90)">u(y,t)</text>
<text class="gm" x="526.9" y="331.1" font-size="12.8" fill="#2a2a2a">Gm=2.5</text>
<rect x="612.5" y="297.5" width="60.0" height="62.0" fill="#fff" stroke="#3a3a3a" stroke-width="1"/>
<path d="M613.3 305.1H632.9" stroke="#00007f" stroke-width="1.5"/>
<path d="M615.7 303.3L618.1 308H613.3Z" fill="#00007f"/>
<path d="M622.55 303.3L624.95 308H620.15Z" fill="#00007f"/>
<path d="M629.4 303.3L631.8 308H627Z" fill="#00007f"/>
<text x="636.7" y="309" font-size="12.2" letter-spacing="0.15"><tspan fill="#222" font-size="13.2">α</tspan>=0.1</text>
<path d="M616.5 320.8H629" stroke="#ff0000" stroke-width="1.7"/>
<path d="M616.4 317.7L619.5 320.8L616.4 323.9L613.3 320.8Z" fill="#ff0000"/>
<path d="M629.2 317.7L632.3 320.8L629.2 323.9L626.1 320.8Z" fill="#ff0000"/>
<text x="636.7" y="324.1" font-size="12.2" letter-spacing="0.15"><tspan fill="#222" font-size="13.2">α</tspan>=0.2</text>
<path d="M616.5 336H629" stroke="#000000" stroke-width="1.7"/>
<circle cx="616.4" cy="336" r="3.0" fill="#000000"/>
<circle cx="628.7" cy="336" r="3.0" fill="#000000"/>
<text x="636.7" y="339.3" font-size="12.2" letter-spacing="0.15"><tspan fill="#222" font-size="13.2">α</tspan>=0.3</text>
<path d="M613.3 350.4H632.9" stroke="#80ff00" stroke-width="1.5"/>
<path d="M615.7 348.6L618.1 353.3H613.3Z" fill="#80ff00"/>
<path d="M622.55 348.6L624.95 353.3H620.15Z" fill="#80ff00"/>
<path d="M629.4 348.6L631.8 353.3H627Z" fill="#80ff00"/>
<text x="636.7" y="354.3" font-size="12.2" letter-spacing="0.15"><tspan fill="#222" font-size="13.2">α</tspan>=0.4</text>
<path d="M369.4 391.6V397.4" stroke="#6a5a50" stroke-width="0.9"/>
</svg></body></html>
